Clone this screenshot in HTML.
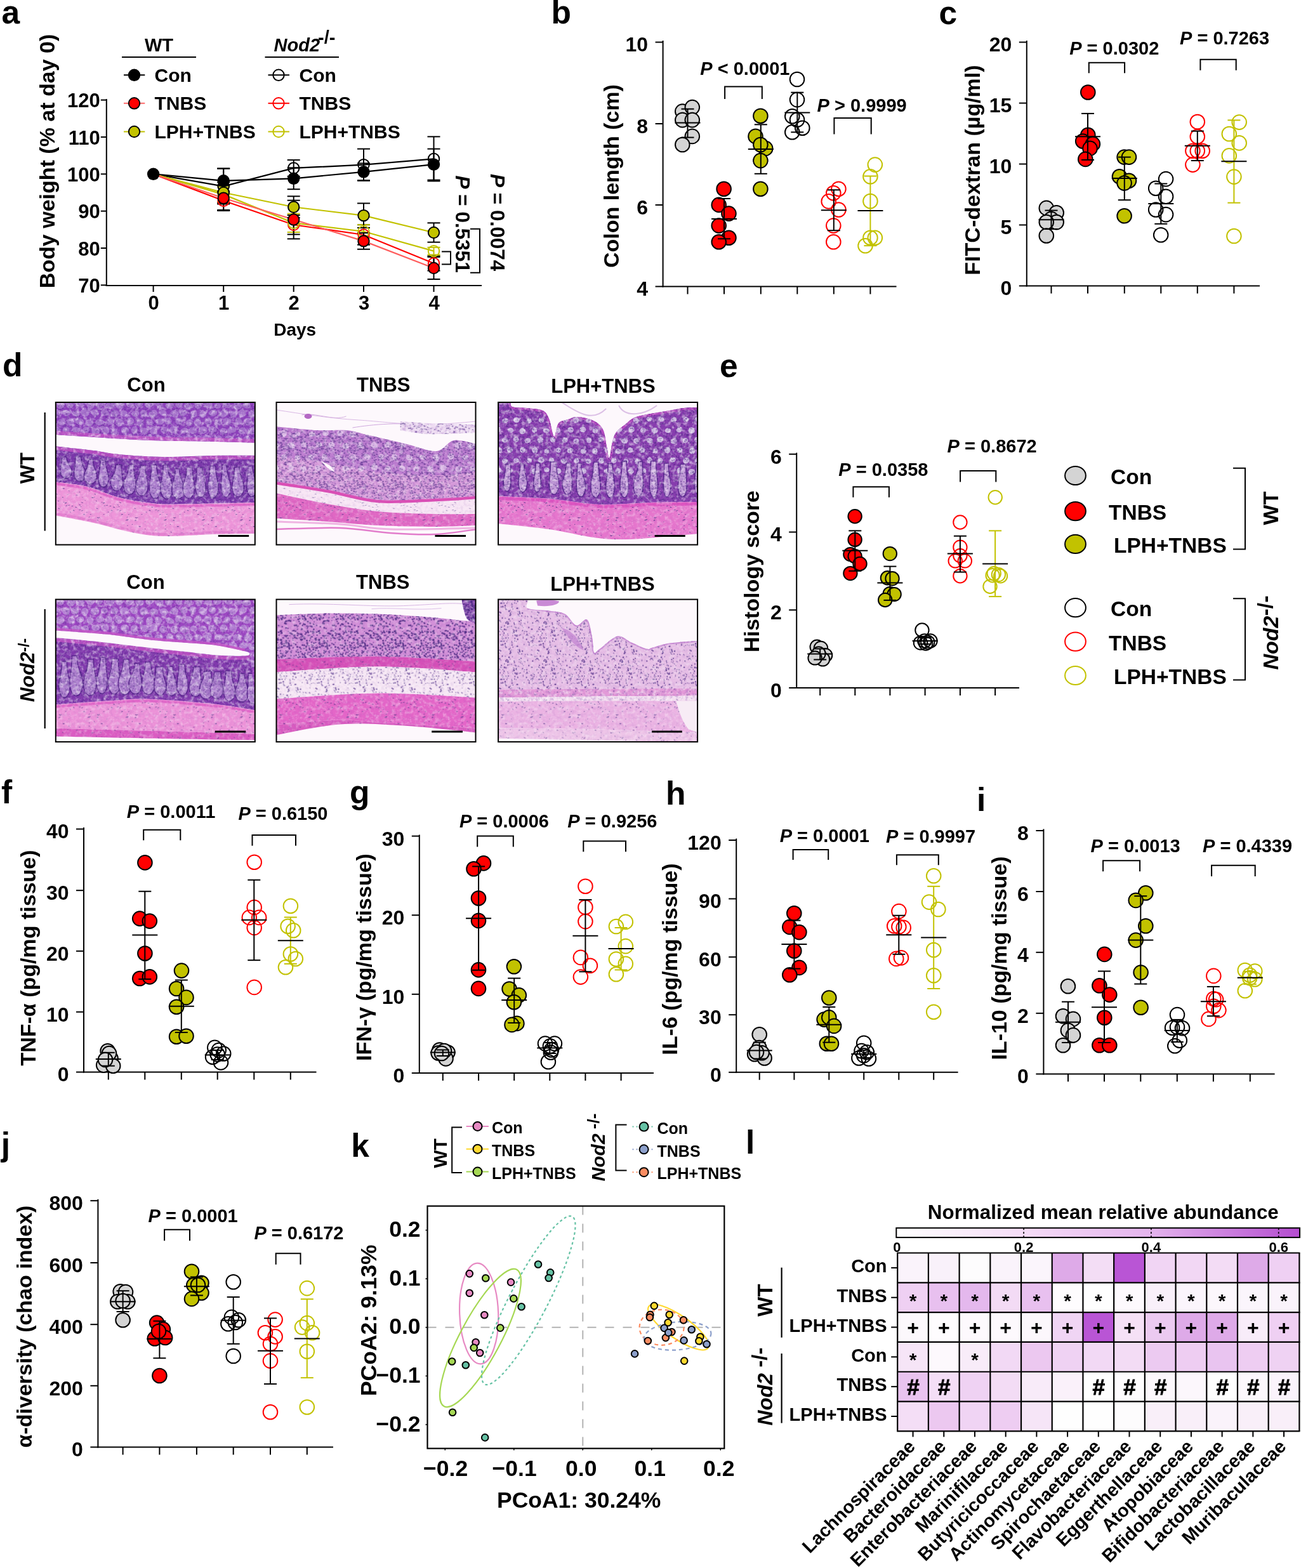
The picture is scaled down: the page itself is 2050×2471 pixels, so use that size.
<!DOCTYPE html><html><head><meta charset="utf-8"><style>html,body{margin:0;padding:0;background:#fff;}svg{display:block;} text{font-family:'Liberation Sans', Arial, Helvetica, sans-serif;}</style></head><body>
<svg width="2050" height="2471" viewBox="0 0 2050 2471">
<rect width="2050" height="2471" fill="#fff"/>
<text x="2.6" y="36.5" font-size="51.5" font-weight="bold" text-anchor="start" fill="#000">a</text>
<line x1="167.8" y1="156" x2="167.8" y2="451" stroke="#000" stroke-width="2"/>
<line x1="166.8" y1="450" x2="759" y2="450" stroke="#000" stroke-width="2"/>
<line x1="158.8" y1="157.6" x2="167.8" y2="157.6" stroke="#000" stroke-width="2"/>
<text x="157.8" y="169.4" font-size="31" font-weight="bold" text-anchor="end" fill="#000">120</text>
<line x1="158.8" y1="215.95" x2="167.8" y2="215.95" stroke="#000" stroke-width="2"/>
<text x="157.8" y="227.75" font-size="31" font-weight="bold" text-anchor="end" fill="#000">110</text>
<line x1="158.8" y1="274.3" x2="167.8" y2="274.3" stroke="#000" stroke-width="2"/>
<text x="157.8" y="286.1" font-size="31" font-weight="bold" text-anchor="end" fill="#000">100</text>
<line x1="158.8" y1="332.65" x2="167.8" y2="332.65" stroke="#000" stroke-width="2"/>
<text x="157.8" y="344.45" font-size="31" font-weight="bold" text-anchor="end" fill="#000">90</text>
<line x1="158.8" y1="391" x2="167.8" y2="391" stroke="#000" stroke-width="2"/>
<text x="157.8" y="402.8" font-size="31" font-weight="bold" text-anchor="end" fill="#000">80</text>
<line x1="158.8" y1="449.35" x2="167.8" y2="449.35" stroke="#000" stroke-width="2"/>
<text x="157.8" y="461.15" font-size="31" font-weight="bold" text-anchor="end" fill="#000">70</text>
<line x1="241.6" y1="450" x2="241.6" y2="460" stroke="#000" stroke-width="2"/>
<text x="242.1" y="487.5" font-size="31" font-weight="bold" text-anchor="middle" fill="#000">0</text>
<line x1="352.2" y1="450" x2="352.2" y2="460" stroke="#000" stroke-width="2"/>
<text x="352.7" y="487.5" font-size="31" font-weight="bold" text-anchor="middle" fill="#000">1</text>
<line x1="462.7" y1="450" x2="462.7" y2="460" stroke="#000" stroke-width="2"/>
<text x="463.2" y="487.5" font-size="31" font-weight="bold" text-anchor="middle" fill="#000">2</text>
<line x1="573" y1="450" x2="573" y2="460" stroke="#000" stroke-width="2"/>
<text x="573.5" y="487.5" font-size="31" font-weight="bold" text-anchor="middle" fill="#000">3</text>
<line x1="683.5" y1="450" x2="683.5" y2="460" stroke="#000" stroke-width="2"/>
<text x="684" y="487.5" font-size="31" font-weight="bold" text-anchor="middle" fill="#000">4</text>
<text x="464.7" y="529" font-size="28" font-weight="bold" text-anchor="middle" fill="#000">Days</text>
<text x="85.5" y="254" font-size="34" font-weight="bold" text-anchor="middle" fill="#000" transform="rotate(-90 85.5 254)">Body weight (% at day 0)</text>
<text x="250.5" y="80.5" font-size="29" font-weight="bold" text-anchor="middle" fill="#000">WT</text>
<line x1="192" y1="90" x2="309" y2="90" stroke="#000" stroke-width="2"/>
<text x="480" y="80.5" font-size="29" font-weight="bold" text-anchor="middle"><tspan font-style="italic">Nod2</tspan><tspan font-size="29" dy="-12" dx="-3">-/-</tspan></text>
<line x1="417.5" y1="90" x2="534" y2="90" stroke="#000" stroke-width="2"/>
<line x1="195" y1="118.3" x2="228.3" y2="118.3" stroke="#000" stroke-width="2"/>
<circle cx="211.5" cy="118.3" r="8.7" fill="#000" stroke="#000" stroke-width="2"/>
<text x="243.5" y="128.8" font-size="30" font-weight="bold" text-anchor="start" fill="#000">Con</text>
<line x1="422.5" y1="118.3" x2="456" y2="118.3" stroke="#000" stroke-width="2"/>
<circle cx="439" cy="118.3" r="8.7" fill="none" stroke="#000" stroke-width="2"/>
<text x="471.5" y="128.8" font-size="30" font-weight="bold" text-anchor="start" fill="#000">Con</text>
<line x1="195" y1="162.8" x2="228.3" y2="162.8" stroke="#ff6a6a" stroke-width="2"/>
<circle cx="211.5" cy="162.8" r="8.7" fill="#ff0000" stroke="#000" stroke-width="2"/>
<text x="243.5" y="173.3" font-size="30" font-weight="bold" text-anchor="start" fill="#000">TNBS</text>
<line x1="422.5" y1="162.8" x2="456" y2="162.8" stroke="#ff0000" stroke-width="2"/>
<circle cx="439" cy="162.8" r="8.7" fill="none" stroke="#ff0000" stroke-width="2"/>
<text x="471.5" y="173.3" font-size="30" font-weight="bold" text-anchor="start" fill="#000">TNBS</text>
<line x1="195" y1="207.5" x2="228.3" y2="207.5" stroke="#c2c200" stroke-width="2"/>
<circle cx="211.5" cy="207.5" r="8.7" fill="#c2c200" stroke="#000" stroke-width="2"/>
<text x="243.5" y="218" font-size="30" font-weight="bold" text-anchor="start" fill="#000">LPH+TNBS</text>
<line x1="422.5" y1="207.5" x2="456" y2="207.5" stroke="#c2c200" stroke-width="2"/>
<circle cx="439" cy="207.5" r="8.7" fill="none" stroke="#c2c200" stroke-width="2"/>
<text x="471.5" y="218" font-size="30" font-weight="bold" text-anchor="start" fill="#000">LPH+TNBS</text>
<polyline points="241.6,274.3 352.2,293.56 462.7,264.96 573,259.71 683.5,250.38" stroke="#000" stroke-width="2.2" fill="none"/>
<polyline points="241.6,274.3 352.2,284.8 462.7,281.3 573,270.8 683.5,259.13" stroke="#000" stroke-width="2.2" fill="none"/>
<polyline points="241.6,274.3 352.2,316.31 462.7,354.24 573,369.99 683.5,414.92" stroke="#ff0000" stroke-width="2.2" fill="none"/>
<polyline points="241.6,274.3 352.2,306.39 462.7,351.32 573,364.74 683.5,395.67" stroke="#c2c200" stroke-width="2.2" fill="none"/>
<polyline points="241.6,274.3 352.2,303.48 462.7,326.23 573,339.65 683.5,366.49" stroke="#c2c200" stroke-width="2.2" fill="none"/>
<polyline points="241.6,274.3 352.2,312.23 462.7,346.07 573,379.91 683.5,422.51" stroke="#ff5c5c" stroke-width="2.2" fill="none"/>
<line x1="352.2" y1="265.55" x2="352.2" y2="321.56" stroke="#000" stroke-width="2"/>
<line x1="342.2" y1="265.55" x2="362.2" y2="265.55" stroke="#000" stroke-width="2"/>
<line x1="342.2" y1="321.56" x2="362.2" y2="321.56" stroke="#000" stroke-width="2"/>
<line x1="462.7" y1="252.13" x2="462.7" y2="277.8" stroke="#000" stroke-width="2"/>
<line x1="452.7" y1="252.13" x2="472.7" y2="252.13" stroke="#000" stroke-width="2"/>
<line x1="452.7" y1="277.8" x2="472.7" y2="277.8" stroke="#000" stroke-width="2"/>
<line x1="573" y1="234.62" x2="573" y2="284.8" stroke="#000" stroke-width="2"/>
<line x1="563" y1="234.62" x2="583" y2="234.62" stroke="#000" stroke-width="2"/>
<line x1="563" y1="284.8" x2="583" y2="284.8" stroke="#000" stroke-width="2"/>
<line x1="683.5" y1="215.37" x2="683.5" y2="285.39" stroke="#000" stroke-width="2"/>
<line x1="673.5" y1="215.37" x2="693.5" y2="215.37" stroke="#000" stroke-width="2"/>
<line x1="673.5" y1="285.39" x2="693.5" y2="285.39" stroke="#000" stroke-width="2"/>
<line x1="352.2" y1="265.55" x2="352.2" y2="304.06" stroke="#000" stroke-width="2"/>
<line x1="342.2" y1="265.55" x2="362.2" y2="265.55" stroke="#000" stroke-width="2"/>
<line x1="342.2" y1="304.06" x2="362.2" y2="304.06" stroke="#000" stroke-width="2"/>
<line x1="462.7" y1="264.38" x2="462.7" y2="298.22" stroke="#000" stroke-width="2"/>
<line x1="452.7" y1="264.38" x2="472.7" y2="264.38" stroke="#000" stroke-width="2"/>
<line x1="452.7" y1="298.22" x2="472.7" y2="298.22" stroke="#000" stroke-width="2"/>
<line x1="573" y1="257.38" x2="573" y2="284.22" stroke="#000" stroke-width="2"/>
<line x1="563" y1="257.38" x2="583" y2="257.38" stroke="#000" stroke-width="2"/>
<line x1="563" y1="284.22" x2="583" y2="284.22" stroke="#000" stroke-width="2"/>
<line x1="683.5" y1="234.62" x2="683.5" y2="283.64" stroke="#000" stroke-width="2"/>
<line x1="673.5" y1="234.62" x2="693.5" y2="234.62" stroke="#000" stroke-width="2"/>
<line x1="673.5" y1="283.64" x2="693.5" y2="283.64" stroke="#000" stroke-width="2"/>
<line x1="352.2" y1="301.72" x2="352.2" y2="330.9" stroke="#000" stroke-width="2"/>
<line x1="342.2" y1="301.72" x2="362.2" y2="301.72" stroke="#000" stroke-width="2"/>
<line x1="342.2" y1="330.9" x2="362.2" y2="330.9" stroke="#000" stroke-width="2"/>
<line x1="462.7" y1="339.07" x2="462.7" y2="369.41" stroke="#000" stroke-width="2"/>
<line x1="452.7" y1="339.07" x2="472.7" y2="339.07" stroke="#000" stroke-width="2"/>
<line x1="452.7" y1="369.41" x2="472.7" y2="369.41" stroke="#000" stroke-width="2"/>
<line x1="573" y1="354.24" x2="573" y2="385.75" stroke="#000" stroke-width="2"/>
<line x1="563" y1="354.24" x2="583" y2="354.24" stroke="#000" stroke-width="2"/>
<line x1="563" y1="385.75" x2="583" y2="385.75" stroke="#000" stroke-width="2"/>
<line x1="683.5" y1="403.25" x2="683.5" y2="426.59" stroke="#000" stroke-width="2"/>
<line x1="673.5" y1="403.25" x2="693.5" y2="403.25" stroke="#000" stroke-width="2"/>
<line x1="673.5" y1="426.59" x2="693.5" y2="426.59" stroke="#000" stroke-width="2"/>
<line x1="352.2" y1="294.72" x2="352.2" y2="318.06" stroke="#c2c200" stroke-width="2"/>
<line x1="342.2" y1="294.72" x2="362.2" y2="294.72" stroke="#c2c200" stroke-width="2"/>
<line x1="342.2" y1="318.06" x2="362.2" y2="318.06" stroke="#c2c200" stroke-width="2"/>
<line x1="462.7" y1="336.73" x2="462.7" y2="365.91" stroke="#c2c200" stroke-width="2"/>
<line x1="452.7" y1="336.73" x2="472.7" y2="336.73" stroke="#c2c200" stroke-width="2"/>
<line x1="452.7" y1="365.91" x2="472.7" y2="365.91" stroke="#c2c200" stroke-width="2"/>
<line x1="573" y1="354.24" x2="573" y2="375.25" stroke="#c2c200" stroke-width="2"/>
<line x1="563" y1="354.24" x2="583" y2="354.24" stroke="#c2c200" stroke-width="2"/>
<line x1="563" y1="375.25" x2="583" y2="375.25" stroke="#c2c200" stroke-width="2"/>
<line x1="683.5" y1="389.83" x2="683.5" y2="401.5" stroke="#c2c200" stroke-width="2"/>
<line x1="673.5" y1="389.83" x2="693.5" y2="389.83" stroke="#c2c200" stroke-width="2"/>
<line x1="673.5" y1="401.5" x2="693.5" y2="401.5" stroke="#c2c200" stroke-width="2"/>
<line x1="352.2" y1="287.14" x2="352.2" y2="319.81" stroke="#000" stroke-width="2"/>
<line x1="342.2" y1="287.14" x2="362.2" y2="287.14" stroke="#000" stroke-width="2"/>
<line x1="342.2" y1="319.81" x2="362.2" y2="319.81" stroke="#000" stroke-width="2"/>
<line x1="462.7" y1="309.31" x2="462.7" y2="343.15" stroke="#000" stroke-width="2"/>
<line x1="452.7" y1="309.31" x2="472.7" y2="309.31" stroke="#000" stroke-width="2"/>
<line x1="452.7" y1="343.15" x2="472.7" y2="343.15" stroke="#000" stroke-width="2"/>
<line x1="573" y1="320.4" x2="573" y2="358.91" stroke="#000" stroke-width="2"/>
<line x1="563" y1="320.4" x2="583" y2="320.4" stroke="#000" stroke-width="2"/>
<line x1="563" y1="358.91" x2="583" y2="358.91" stroke="#000" stroke-width="2"/>
<line x1="683.5" y1="351.32" x2="683.5" y2="381.66" stroke="#000" stroke-width="2"/>
<line x1="673.5" y1="351.32" x2="693.5" y2="351.32" stroke="#000" stroke-width="2"/>
<line x1="673.5" y1="381.66" x2="693.5" y2="381.66" stroke="#000" stroke-width="2"/>
<line x1="352.2" y1="292.39" x2="352.2" y2="332.07" stroke="#000" stroke-width="2"/>
<line x1="342.2" y1="292.39" x2="362.2" y2="292.39" stroke="#000" stroke-width="2"/>
<line x1="342.2" y1="332.07" x2="362.2" y2="332.07" stroke="#000" stroke-width="2"/>
<line x1="462.7" y1="315.73" x2="462.7" y2="376.41" stroke="#000" stroke-width="2"/>
<line x1="452.7" y1="315.73" x2="472.7" y2="315.73" stroke="#000" stroke-width="2"/>
<line x1="452.7" y1="376.41" x2="472.7" y2="376.41" stroke="#000" stroke-width="2"/>
<line x1="573" y1="367.08" x2="573" y2="392.75" stroke="#000" stroke-width="2"/>
<line x1="563" y1="367.08" x2="583" y2="367.08" stroke="#000" stroke-width="2"/>
<line x1="563" y1="392.75" x2="583" y2="392.75" stroke="#000" stroke-width="2"/>
<line x1="683.5" y1="405" x2="683.5" y2="440.01" stroke="#000" stroke-width="2"/>
<line x1="673.5" y1="405" x2="693.5" y2="405" stroke="#000" stroke-width="2"/>
<line x1="673.5" y1="440.01" x2="693.5" y2="440.01" stroke="#000" stroke-width="2"/>
<circle cx="352.2" cy="293.56" r="8.7" fill="none" stroke="#000" stroke-width="2"/>
<circle cx="462.7" cy="264.96" r="8.7" fill="none" stroke="#000" stroke-width="2"/>
<circle cx="573" cy="259.71" r="8.7" fill="none" stroke="#000" stroke-width="2"/>
<circle cx="683.5" cy="250.38" r="8.7" fill="none" stroke="#000" stroke-width="2"/>
<circle cx="352.2" cy="284.8" r="8.7" fill="#000" stroke="#000" stroke-width="2"/>
<circle cx="462.7" cy="281.3" r="8.7" fill="#000" stroke="#000" stroke-width="2"/>
<circle cx="573" cy="270.8" r="8.7" fill="#000" stroke="#000" stroke-width="2"/>
<circle cx="683.5" cy="259.13" r="8.7" fill="#000" stroke="#000" stroke-width="2"/>
<circle cx="352.2" cy="316.31" r="8.7" fill="none" stroke="#ff0000" stroke-width="2"/>
<circle cx="462.7" cy="354.24" r="8.7" fill="none" stroke="#ff0000" stroke-width="2"/>
<circle cx="573" cy="369.99" r="8.7" fill="none" stroke="#ff0000" stroke-width="2"/>
<circle cx="683.5" cy="414.92" r="8.7" fill="none" stroke="#ff0000" stroke-width="2"/>
<circle cx="352.2" cy="306.39" r="8.7" fill="none" stroke="#c2c200" stroke-width="2"/>
<circle cx="462.7" cy="351.32" r="8.7" fill="none" stroke="#c2c200" stroke-width="2"/>
<circle cx="573" cy="364.74" r="8.7" fill="none" stroke="#c2c200" stroke-width="2"/>
<circle cx="683.5" cy="395.67" r="8.7" fill="none" stroke="#c2c200" stroke-width="2"/>
<circle cx="352.2" cy="303.48" r="8.7" fill="#c2c200" stroke="#000" stroke-width="2"/>
<circle cx="462.7" cy="326.23" r="8.7" fill="#c2c200" stroke="#000" stroke-width="2"/>
<circle cx="573" cy="339.65" r="8.7" fill="#c2c200" stroke="#000" stroke-width="2"/>
<circle cx="683.5" cy="366.49" r="8.7" fill="#c2c200" stroke="#000" stroke-width="2"/>
<circle cx="352.2" cy="312.23" r="8.7" fill="#ff0000" stroke="#000" stroke-width="2"/>
<circle cx="462.7" cy="346.07" r="8.7" fill="#ff0000" stroke="#000" stroke-width="2"/>
<circle cx="573" cy="379.91" r="8.7" fill="#ff0000" stroke="#000" stroke-width="2"/>
<circle cx="683.5" cy="422.51" r="8.7" fill="#ff0000" stroke="#000" stroke-width="2"/>
<circle cx="241.6" cy="274.3" r="9.7" fill="#000" stroke="#000" stroke-width="0"/>
<polyline points="696,396.4 710,396.4 710,416.4 696,416.4" stroke="#000" stroke-width="2" fill="none"/>
<polyline points="741,360.8 756,360.8 756,429.7 741,429.7" stroke="#000" stroke-width="2" fill="none"/>
<text x="717.5" y="353.2" font-size="31.5" font-weight="bold" text-anchor="middle" transform="rotate(90 717.5 353.2)"><tspan font-style="italic">P</tspan> = 0.5351</text>
<text x="772.5" y="350.7" font-size="31.5" font-weight="bold" text-anchor="middle" transform="rotate(90 772.5 350.7)"><tspan font-style="italic">P</tspan> =  0.0074</text>
<text x="868.4" y="36.9" font-size="51.5" font-weight="bold" text-anchor="start" fill="#000">b</text>
<line x1="1044.6" y1="64" x2="1044.6" y2="452.5" stroke="#000" stroke-width="2"/>
<line x1="1043.6" y1="451.5" x2="1412.5" y2="451.5" stroke="#000" stroke-width="2"/>
<line x1="1032.6" y1="66.5" x2="1044.6" y2="66.5" stroke="#000" stroke-width="2"/>
<text x="1021.1" y="81.4" font-size="32" font-weight="bold" text-anchor="end" fill="#000">10</text>
<line x1="1032.6" y1="195" x2="1044.6" y2="195" stroke="#000" stroke-width="2"/>
<text x="1021.1" y="209.9" font-size="32" font-weight="bold" text-anchor="end" fill="#000">8</text>
<line x1="1032.6" y1="323" x2="1044.6" y2="323" stroke="#000" stroke-width="2"/>
<text x="1021.1" y="337.9" font-size="32" font-weight="bold" text-anchor="end" fill="#000">6</text>
<line x1="1032.6" y1="451.5" x2="1044.6" y2="451.5" stroke="#000" stroke-width="2"/>
<text x="1021.1" y="466.4" font-size="32" font-weight="bold" text-anchor="end" fill="#000">4</text>
<line x1="1083.5" y1="451.5" x2="1083.5" y2="463.5" stroke="#000" stroke-width="2"/>
<line x1="1141" y1="451.5" x2="1141" y2="463.5" stroke="#000" stroke-width="2"/>
<line x1="1198.8" y1="451.5" x2="1198.8" y2="463.5" stroke="#000" stroke-width="2"/>
<line x1="1256.3" y1="451.5" x2="1256.3" y2="463.5" stroke="#000" stroke-width="2"/>
<line x1="1313.8" y1="451.5" x2="1313.8" y2="463.5" stroke="#000" stroke-width="2"/>
<line x1="1371.4" y1="451.5" x2="1371.4" y2="463.5" stroke="#000" stroke-width="2"/>
<text x="975" y="277.5" font-size="34" font-weight="bold" text-anchor="middle" fill="#000" transform="rotate(-90 975 277.5)">Colon length (cm)</text>
<circle cx="1075.3" cy="175.6" r="11.3" fill="#d4d4d4" stroke="#000000" stroke-width="2"/>
<circle cx="1090.8" cy="169.1" r="11.3" fill="#d4d4d4" stroke="#000000" stroke-width="2"/>
<circle cx="1075.3" cy="189.1" r="11.3" fill="#d4d4d4" stroke="#000000" stroke-width="2"/>
<circle cx="1090.8" cy="189.1" r="11.3" fill="#d4d4d4" stroke="#000000" stroke-width="2"/>
<circle cx="1090.8" cy="214.9" r="11.3" fill="#d4d4d4" stroke="#000000" stroke-width="2"/>
<circle cx="1075.3" cy="228" r="11.3" fill="#d4d4d4" stroke="#000000" stroke-width="2"/>
<circle cx="1140.6" cy="297.8" r="11.3" fill="#ff0000" stroke="#000000" stroke-width="2"/>
<circle cx="1132.7" cy="322.9" r="11.3" fill="#ff0000" stroke="#000000" stroke-width="2"/>
<circle cx="1148.4" cy="336.6" r="11.3" fill="#ff0000" stroke="#000000" stroke-width="2"/>
<circle cx="1132.7" cy="355.6" r="11.3" fill="#ff0000" stroke="#000000" stroke-width="2"/>
<circle cx="1148.4" cy="374.8" r="11.3" fill="#ff0000" stroke="#000000" stroke-width="2"/>
<circle cx="1132.7" cy="381.3" r="11.3" fill="#ff0000" stroke="#000000" stroke-width="2"/>
<circle cx="1198.4" cy="182.8" r="11.3" fill="#c2c200" stroke="#000000" stroke-width="2"/>
<circle cx="1190.5" cy="214.9" r="11.3" fill="#c2c200" stroke="#000000" stroke-width="2"/>
<circle cx="1206.2" cy="233.9" r="11.3" fill="#c2c200" stroke="#000000" stroke-width="2"/>
<circle cx="1198.4" cy="228" r="11.3" fill="#c2c200" stroke="#000000" stroke-width="2"/>
<circle cx="1198.4" cy="253.1" r="11.3" fill="#c2c200" stroke="#000000" stroke-width="2"/>
<circle cx="1198.4" cy="297.8" r="11.3" fill="#c2c200" stroke="#000000" stroke-width="2"/>
<circle cx="1256" cy="125" r="11.3" fill="none" stroke="#000000" stroke-width="2"/>
<circle cx="1256" cy="157.1" r="11.3" fill="none" stroke="#000000" stroke-width="2"/>
<circle cx="1248.3" cy="183.3" r="11.3" fill="none" stroke="#000000" stroke-width="2"/>
<circle cx="1256" cy="188.7" r="11.3" fill="none" stroke="#000000" stroke-width="2"/>
<circle cx="1264.3" cy="201.8" r="11.3" fill="none" stroke="#000000" stroke-width="2"/>
<circle cx="1248.3" cy="208.3" r="11.3" fill="none" stroke="#000000" stroke-width="2"/>
<circle cx="1321.4" cy="297.8" r="11.3" fill="none" stroke="#ff0000" stroke-width="2"/>
<circle cx="1313.3" cy="304.3" r="11.3" fill="none" stroke="#ff0000" stroke-width="2"/>
<circle cx="1305.7" cy="317.4" r="11.3" fill="none" stroke="#ff0000" stroke-width="2"/>
<circle cx="1321.4" cy="330.5" r="11.3" fill="none" stroke="#ff0000" stroke-width="2"/>
<circle cx="1313.3" cy="355.6" r="11.3" fill="none" stroke="#ff0000" stroke-width="2"/>
<circle cx="1313.3" cy="381.3" r="11.3" fill="none" stroke="#ff0000" stroke-width="2"/>
<circle cx="1378.8" cy="259.6" r="11.3" fill="none" stroke="#c2c200" stroke-width="2"/>
<circle cx="1371.4" cy="278.2" r="11.3" fill="none" stroke="#c2c200" stroke-width="2"/>
<circle cx="1371.4" cy="317" r="11.3" fill="none" stroke="#c2c200" stroke-width="2"/>
<circle cx="1378.8" cy="374.8" r="11.3" fill="none" stroke="#c2c200" stroke-width="2"/>
<circle cx="1371.4" cy="374.8" r="11.3" fill="none" stroke="#c2c200" stroke-width="2"/>
<circle cx="1363.5" cy="387.2" r="11.3" fill="none" stroke="#c2c200" stroke-width="2"/>
<line x1="1083.5" y1="171.7" x2="1083.5" y2="216.6" stroke="#000000" stroke-width="2"/>
<line x1="1073.5" y1="171.7" x2="1093.5" y2="171.7" stroke="#000000" stroke-width="2"/>
<line x1="1073.5" y1="216.6" x2="1093.5" y2="216.6" stroke="#000000" stroke-width="2"/>
<line x1="1063.5" y1="193.5" x2="1103.5" y2="193.5" stroke="#000000" stroke-width="2"/>
<line x1="1141" y1="313" x2="1141" y2="376.3" stroke="#000000" stroke-width="2"/>
<line x1="1131" y1="313" x2="1151" y2="313" stroke="#000000" stroke-width="2"/>
<line x1="1131" y1="376.3" x2="1151" y2="376.3" stroke="#000000" stroke-width="2"/>
<line x1="1121" y1="345.1" x2="1161" y2="345.1" stroke="#000000" stroke-width="2"/>
<line x1="1198.8" y1="196.3" x2="1198.8" y2="273.8" stroke="#000000" stroke-width="2"/>
<line x1="1188.8" y1="196.3" x2="1208.8" y2="196.3" stroke="#000000" stroke-width="2"/>
<line x1="1188.8" y1="273.8" x2="1208.8" y2="273.8" stroke="#000000" stroke-width="2"/>
<line x1="1178.8" y1="235" x2="1218.8" y2="235" stroke="#000000" stroke-width="2"/>
<line x1="1256.3" y1="145.7" x2="1256.3" y2="208.3" stroke="#000000" stroke-width="2"/>
<line x1="1246.3" y1="145.7" x2="1266.3" y2="145.7" stroke="#000000" stroke-width="2"/>
<line x1="1246.3" y1="208.3" x2="1266.3" y2="208.3" stroke="#000000" stroke-width="2"/>
<line x1="1236.3" y1="177.4" x2="1276.3" y2="177.4" stroke="#000000" stroke-width="2"/>
<line x1="1313.8" y1="299.3" x2="1313.8" y2="363.2" stroke="#000000" stroke-width="2"/>
<line x1="1303.8" y1="299.3" x2="1323.8" y2="299.3" stroke="#000000" stroke-width="2"/>
<line x1="1303.8" y1="363.2" x2="1323.8" y2="363.2" stroke="#000000" stroke-width="2"/>
<line x1="1293.8" y1="331.2" x2="1333.8" y2="331.2" stroke="#000000" stroke-width="2"/>
<line x1="1371.4" y1="277.5" x2="1371.4" y2="387.2" stroke="#c2c200" stroke-width="2"/>
<line x1="1361.4" y1="277.5" x2="1381.4" y2="277.5" stroke="#c2c200" stroke-width="2"/>
<line x1="1361.4" y1="387.2" x2="1381.4" y2="387.2" stroke="#c2c200" stroke-width="2"/>
<line x1="1351.4" y1="332" x2="1391.4" y2="332" stroke="#000000" stroke-width="2"/>
<polyline points="1142.1,156 1142.1,136.4 1200.8,136.4 1200.8,156" stroke="#000" stroke-width="2" fill="none"/>
<polyline points="1314.4,211.6 1314.4,186.1 1372.7,186.1 1372.7,211.6" stroke="#000" stroke-width="2" fill="none"/>
<text x="1103.3" y="117.8" font-size="29" font-weight="bold" text-anchor="start"><tspan font-style="italic">P</tspan> &lt; 0.0001</text>
<text x="1287.6" y="175.6" font-size="29" font-weight="bold" text-anchor="start"><tspan font-style="italic">P</tspan> &gt; 0.9999</text>
<text x="1479.5" y="37.5" font-size="51.5" font-weight="bold" text-anchor="start" fill="#000">c</text>
<line x1="1617.8" y1="64" x2="1617.8" y2="451.5" stroke="#000" stroke-width="2"/>
<line x1="1616.8" y1="450.5" x2="1985" y2="450.5" stroke="#000" stroke-width="2"/>
<line x1="1605.8" y1="66.5" x2="1617.8" y2="66.5" stroke="#000" stroke-width="2"/>
<text x="1594.3" y="81.4" font-size="32" font-weight="bold" text-anchor="end" fill="#000">20</text>
<line x1="1605.8" y1="162.5" x2="1617.8" y2="162.5" stroke="#000" stroke-width="2"/>
<text x="1594.3" y="177.4" font-size="32" font-weight="bold" text-anchor="end" fill="#000">15</text>
<line x1="1605.8" y1="258.5" x2="1617.8" y2="258.5" stroke="#000" stroke-width="2"/>
<text x="1594.3" y="273.4" font-size="32" font-weight="bold" text-anchor="end" fill="#000">10</text>
<line x1="1605.8" y1="354.5" x2="1617.8" y2="354.5" stroke="#000" stroke-width="2"/>
<text x="1594.3" y="369.4" font-size="32" font-weight="bold" text-anchor="end" fill="#000">5</text>
<line x1="1605.8" y1="450.5" x2="1617.8" y2="450.5" stroke="#000" stroke-width="2"/>
<text x="1594.3" y="465.4" font-size="32" font-weight="bold" text-anchor="end" fill="#000">0</text>
<line x1="1656.5" y1="450.5" x2="1656.5" y2="462.5" stroke="#000" stroke-width="2"/>
<line x1="1714" y1="450.5" x2="1714" y2="462.5" stroke="#000" stroke-width="2"/>
<line x1="1771.8" y1="450.5" x2="1771.8" y2="462.5" stroke="#000" stroke-width="2"/>
<line x1="1829.3" y1="450.5" x2="1829.3" y2="462.5" stroke="#000" stroke-width="2"/>
<line x1="1886.8" y1="450.5" x2="1886.8" y2="462.5" stroke="#000" stroke-width="2"/>
<line x1="1944.4" y1="450.5" x2="1944.4" y2="462.5" stroke="#000" stroke-width="2"/>
<text x="1543.5" y="268" font-size="34" font-weight="bold" text-anchor="middle" fill="#000" transform="rotate(-90 1543.5 268)">FITC-dextran (µg/ml)</text>
<circle cx="1648.8" cy="327.9" r="11.3" fill="#d4d4d4" stroke="#000000" stroke-width="2"/>
<circle cx="1664.7" cy="335.3" r="11.3" fill="#d4d4d4" stroke="#000000" stroke-width="2"/>
<circle cx="1656.4" cy="345" r="11.3" fill="#d4d4d4" stroke="#000000" stroke-width="2"/>
<circle cx="1664.7" cy="350.1" r="11.3" fill="#d4d4d4" stroke="#000000" stroke-width="2"/>
<circle cx="1648.8" cy="350" r="11.3" fill="#d4d4d4" stroke="#000000" stroke-width="2"/>
<circle cx="1648.8" cy="371.5" r="11.3" fill="#d4d4d4" stroke="#000000" stroke-width="2"/>
<circle cx="1714.3" cy="145.5" r="11.3" fill="#ff0000" stroke="#000000" stroke-width="2"/>
<circle cx="1714.3" cy="212.7" r="11.3" fill="#ff0000" stroke="#000000" stroke-width="2"/>
<circle cx="1706.2" cy="222.5" r="11.3" fill="#ff0000" stroke="#000000" stroke-width="2"/>
<circle cx="1721.9" cy="226.9" r="11.3" fill="#ff0000" stroke="#000000" stroke-width="2"/>
<circle cx="1717.5" cy="233.9" r="11.3" fill="#ff0000" stroke="#000000" stroke-width="2"/>
<circle cx="1710.3" cy="250.9" r="11.3" fill="#ff0000" stroke="#000000" stroke-width="2"/>
<circle cx="1771.6" cy="247.6" r="11.3" fill="#c2c200" stroke="#000000" stroke-width="2"/>
<circle cx="1779" cy="247.6" r="11.3" fill="#c2c200" stroke="#000000" stroke-width="2"/>
<circle cx="1764" cy="278.2" r="11.3" fill="#c2c200" stroke="#000000" stroke-width="2"/>
<circle cx="1779" cy="284.7" r="11.3" fill="#c2c200" stroke="#000000" stroke-width="2"/>
<circle cx="1771.6" cy="288.6" r="11.3" fill="#c2c200" stroke="#000000" stroke-width="2"/>
<circle cx="1771.6" cy="340.3" r="11.3" fill="#c2c200" stroke="#000000" stroke-width="2"/>
<circle cx="1837.1" cy="282.1" r="11.3" fill="none" stroke="#000000" stroke-width="2"/>
<circle cx="1821.2" cy="296.7" r="11.3" fill="none" stroke="#000000" stroke-width="2"/>
<circle cx="1837.1" cy="309.8" r="11.3" fill="none" stroke="#000000" stroke-width="2"/>
<circle cx="1821.2" cy="330.5" r="11.3" fill="none" stroke="#000000" stroke-width="2"/>
<circle cx="1837.1" cy="338.1" r="11.3" fill="none" stroke="#000000" stroke-width="2"/>
<circle cx="1829.2" cy="370.2" r="11.3" fill="none" stroke="#000000" stroke-width="2"/>
<circle cx="1886.8" cy="192" r="11.3" fill="none" stroke="#ff0000" stroke-width="2"/>
<circle cx="1886.8" cy="215.3" r="11.3" fill="none" stroke="#ff0000" stroke-width="2"/>
<circle cx="1879.4" cy="237.8" r="11.3" fill="none" stroke="#ff0000" stroke-width="2"/>
<circle cx="1886.8" cy="237.8" r="11.3" fill="none" stroke="#ff0000" stroke-width="2"/>
<circle cx="1894.7" cy="237.8" r="11.3" fill="none" stroke="#ff0000" stroke-width="2"/>
<circle cx="1879.4" cy="259.6" r="11.3" fill="none" stroke="#ff0000" stroke-width="2"/>
<circle cx="1952.7" cy="192.6" r="11.3" fill="none" stroke="#c2c200" stroke-width="2"/>
<circle cx="1936.8" cy="211" r="11.3" fill="none" stroke="#c2c200" stroke-width="2"/>
<circle cx="1952.7" cy="225.4" r="11.3" fill="none" stroke="#c2c200" stroke-width="2"/>
<circle cx="1936.8" cy="245.4" r="11.3" fill="none" stroke="#c2c200" stroke-width="2"/>
<circle cx="1944.4" cy="278.6" r="11.3" fill="none" stroke="#c2c200" stroke-width="2"/>
<circle cx="1944.4" cy="372" r="11.3" fill="none" stroke="#c2c200" stroke-width="2"/>
<line x1="1656.5" y1="331.6" x2="1656.5" y2="361" stroke="#000000" stroke-width="2"/>
<line x1="1646.5" y1="331.6" x2="1666.5" y2="331.6" stroke="#000000" stroke-width="2"/>
<line x1="1646.5" y1="361" x2="1666.5" y2="361" stroke="#000000" stroke-width="2"/>
<line x1="1636.5" y1="346.2" x2="1676.5" y2="346.2" stroke="#000000" stroke-width="2"/>
<line x1="1714" y1="178.9" x2="1714" y2="252" stroke="#000000" stroke-width="2"/>
<line x1="1704" y1="178.9" x2="1724" y2="178.9" stroke="#000000" stroke-width="2"/>
<line x1="1704" y1="252" x2="1724" y2="252" stroke="#000000" stroke-width="2"/>
<line x1="1694" y1="215.3" x2="1734" y2="215.3" stroke="#000000" stroke-width="2"/>
<line x1="1771.8" y1="247.6" x2="1771.8" y2="315.2" stroke="#000000" stroke-width="2"/>
<line x1="1761.8" y1="247.6" x2="1781.8" y2="247.6" stroke="#000000" stroke-width="2"/>
<line x1="1761.8" y1="315.2" x2="1781.8" y2="315.2" stroke="#000000" stroke-width="2"/>
<line x1="1751.8" y1="281" x2="1791.8" y2="281" stroke="#000000" stroke-width="2"/>
<line x1="1829.3" y1="289.5" x2="1829.3" y2="352.8" stroke="#000000" stroke-width="2"/>
<line x1="1819.3" y1="289.5" x2="1839.3" y2="289.5" stroke="#000000" stroke-width="2"/>
<line x1="1819.3" y1="352.8" x2="1839.3" y2="352.8" stroke="#000000" stroke-width="2"/>
<line x1="1809.3" y1="321.1" x2="1849.3" y2="321.1" stroke="#000000" stroke-width="2"/>
<line x1="1886.8" y1="206.6" x2="1886.8" y2="253.1" stroke="#000000" stroke-width="2"/>
<line x1="1876.8" y1="206.6" x2="1896.8" y2="206.6" stroke="#000000" stroke-width="2"/>
<line x1="1876.8" y1="253.1" x2="1896.8" y2="253.1" stroke="#000000" stroke-width="2"/>
<line x1="1866.8" y1="229.7" x2="1906.8" y2="229.7" stroke="#000000" stroke-width="2"/>
<line x1="1944.4" y1="189.4" x2="1944.4" y2="319.6" stroke="#c2c200" stroke-width="2"/>
<line x1="1934.4" y1="189.4" x2="1954.4" y2="189.4" stroke="#c2c200" stroke-width="2"/>
<line x1="1934.4" y1="319.6" x2="1954.4" y2="319.6" stroke="#c2c200" stroke-width="2"/>
<line x1="1924.4" y1="254.2" x2="1964.4" y2="254.2" stroke="#000000" stroke-width="2"/>
<polyline points="1715.8,115.2 1715.8,98.8 1772.1,98.8 1772.1,115.2" stroke="#000" stroke-width="2" fill="none"/>
<polyline points="1891.4,110.8 1891.4,93.8 1947.7,93.8 1947.7,110.8" stroke="#000" stroke-width="2" fill="none"/>
<text x="1685.2" y="86.2" font-size="29" font-weight="bold" text-anchor="start"><tspan font-style="italic">P</tspan> = 0.0302</text>
<text x="1859" y="69.5" font-size="29" font-weight="bold" text-anchor="start"><tspan font-style="italic">P</tspan> = 0.7263</text>
<text x="4" y="593.2" font-size="51.5" font-weight="bold" text-anchor="start" fill="#000">d</text>
<text x="230.5" y="616.6" font-size="31" font-weight="bold" text-anchor="middle" fill="#000">Con</text>
<text x="604.3" y="616.6" font-size="31" font-weight="bold" text-anchor="middle" fill="#000">TNBS</text>
<text x="950.5" y="619.1" font-size="31" font-weight="bold" text-anchor="middle" fill="#000">LPH+TNBS</text>
<text x="229.5" y="927.8" font-size="31" font-weight="bold" text-anchor="middle" fill="#000">Con</text>
<text x="603.3" y="927.8" font-size="31" font-weight="bold" text-anchor="middle" fill="#000">TNBS</text>
<text x="949.5" y="931" font-size="31" font-weight="bold" text-anchor="middle" fill="#000">LPH+TNBS</text>
<line x1="70.7" y1="650" x2="70.7" y2="836.5" stroke="#000" stroke-width="2.2"/>
<line x1="70.7" y1="960" x2="70.7" y2="1148" stroke="#000" stroke-width="2.2"/>
<text x="54.3" y="737.8" font-size="31.5" font-weight="bold" text-anchor="middle" fill="#000" transform="rotate(-90 54.3 737.8)">WT</text>
<text x="54.3" y="1056" font-size="31.5" font-weight="bold" text-anchor="middle" transform="rotate(-90 54.3 1056)"><tspan font-style="italic">Nod2</tspan><tspan font-size="23" dy="-8">-/-</tspan></text>
<defs><pattern id="nD" width="60" height="60" patternUnits="userSpaceOnUse"><g fill="#3f1f7a" opacity="0.8"><circle cx="19.4" cy="9.1" r="1.1"/><circle cx="4.3" cy="32.2" r="0.9"/><circle cx="3.5" cy="30.4" r="0.7"/><circle cx="26" cy="4.2" r="0.8"/><circle cx="25.5" cy="49.6" r="0.8"/><circle cx="13.4" cy="37.6" r="1.3"/><circle cx="34.6" cy="23.8" r="1.3"/><circle cx="2.8" cy="51.5" r="0.9"/><circle cx="8.7" cy="7.1" r="0.9"/><circle cx="49" cy="10.8" r="1.1"/><circle cx="38.3" cy="22.3" r="1.1"/><circle cx="3.8" cy="3.6" r="0.8"/><circle cx="40.8" cy="25.7" r="0.9"/><circle cx="35.1" cy="27.2" r="0.9"/><circle cx="47.7" cy="41.9" r="0.9"/><circle cx="34.5" cy="31.5" r="1.3"/><circle cx="43.8" cy="17.3" r="1.3"/><circle cx="7.1" cy="25.1" r="1.2"/><circle cx="9.1" cy="29.3" r="0.7"/><circle cx="40.1" cy="45.9" r="1.1"/><circle cx="52.5" cy="18.8" r="1.2"/><circle cx="35.7" cy="34.8" r="1"/><circle cx="50.4" cy="56.7" r="1"/><circle cx="39.8" cy="3.6" r="1.2"/><circle cx="38.8" cy="59.6" r="1.2"/><circle cx="17.1" cy="23.1" r="1.1"/><circle cx="1.4" cy="27.7" r="0.8"/><circle cx="7" cy="3.5" r="1.2"/><circle cx="7.8" cy="14.9" r="1"/><circle cx="52.3" cy="4.8" r="1"/><circle cx="33" cy="53" r="1.2"/><circle cx="51.8" cy="16.7" r="1"/><circle cx="21.5" cy="53.1" r="1.3"/><circle cx="9.1" cy="10.6" r="0.9"/><circle cx="14" cy="29.1" r="1.1"/><circle cx="15.8" cy="0.2" r="1"/><circle cx="22.2" cy="34" r="1.3"/><circle cx="41.4" cy="30.9" r="1.1"/><circle cx="40.6" cy="3.2" r="1.3"/><circle cx="46.8" cy="52.5" r="1.2"/><circle cx="23.5" cy="23.9" r="0.8"/><circle cx="38.1" cy="3.7" r="0.7"/><circle cx="12.5" cy="9.7" r="0.9"/><circle cx="3.2" cy="0" r="0.8"/><circle cx="6.1" cy="21.8" r="0.7"/><circle cx="52.5" cy="36.8" r="0.8"/><circle cx="15.1" cy="20.8" r="0.9"/><circle cx="7.4" cy="50.9" r="1.3"/><circle cx="28" cy="29" r="0.8"/><circle cx="6.1" cy="20.6" r="0.9"/><circle cx="49.7" cy="9.7" r="0.7"/><circle cx="57.1" cy="31.7" r="0.8"/><circle cx="32.6" cy="1.6" r="1"/><circle cx="58.7" cy="51.8" r="1.2"/><circle cx="15.7" cy="22" r="0.8"/><circle cx="46.3" cy="32" r="1.2"/><circle cx="19.8" cy="13.4" r="1.2"/><circle cx="59.1" cy="51.2" r="1.2"/><circle cx="49.1" cy="44.4" r="0.8"/><circle cx="31.1" cy="21.3" r="0.7"/><circle cx="1.7" cy="16.8" r="0.9"/><circle cx="41.6" cy="57.4" r="1"/><circle cx="56.2" cy="59.3" r="1.3"/><circle cx="21.9" cy="13.2" r="0.8"/><circle cx="11.8" cy="12.3" r="1.1"/><circle cx="54" cy="50.4" r="1"/><circle cx="39.2" cy="48" r="0.8"/><circle cx="39.6" cy="54.6" r="1.2"/><circle cx="45" cy="28.7" r="0.8"/><circle cx="47.3" cy="20" r="1.2"/><circle cx="58.3" cy="23.8" r="1"/><circle cx="56.8" cy="43.5" r="0.8"/><circle cx="7.6" cy="9.1" r="1.3"/><circle cx="48.4" cy="8.8" r="1.2"/><circle cx="58.8" cy="39.4" r="0.9"/><circle cx="32.9" cy="7.9" r="0.7"/><circle cx="58.3" cy="39" r="1"/><circle cx="56" cy="26" r="1.3"/><circle cx="49.6" cy="12.7" r="0.9"/><circle cx="17.6" cy="14.4" r="1.1"/><circle cx="15.6" cy="25.1" r="0.8"/><circle cx="54.6" cy="21.2" r="1"/><circle cx="35" cy="54.3" r="1"/><circle cx="55.1" cy="30.1" r="1"/><circle cx="31.4" cy="1.1" r="1"/><circle cx="11" cy="0.2" r="1.2"/><circle cx="10.3" cy="28.4" r="1.2"/><circle cx="33.4" cy="19.6" r="1"/><circle cx="33.3" cy="47.1" r="0.8"/><circle cx="33.6" cy="14.9" r="0.9"/><circle cx="46.3" cy="30.5" r="1.1"/><circle cx="45.6" cy="54.7" r="1"/><circle cx="36.8" cy="30.3" r="1"/><circle cx="41.6" cy="27.1" r="1"/><circle cx="28.7" cy="56.5" r="1.2"/><circle cx="52.6" cy="56.5" r="0.9"/><circle cx="33.6" cy="56.6" r="1.2"/><circle cx="8.2" cy="7.3" r="1"/><circle cx="4.4" cy="14.4" r="0.7"/><circle cx="40.2" cy="47" r="1.3"/><circle cx="9.3" cy="43" r="1.1"/><circle cx="8.6" cy="53" r="1.3"/><circle cx="13.2" cy="57.2" r="1"/><circle cx="29.2" cy="59.4" r="1.2"/><circle cx="9.7" cy="25.9" r="1"/><circle cx="20.3" cy="11.7" r="0.9"/><circle cx="43.3" cy="1.2" r="1.1"/><circle cx="26.4" cy="1.1" r="0.9"/><circle cx="37.4" cy="30.7" r="0.7"/><circle cx="59.1" cy="47.3" r="1.3"/><circle cx="6.3" cy="15.9" r="0.7"/><circle cx="46.7" cy="16.2" r="0.8"/><circle cx="25.3" cy="54.7" r="1.2"/><circle cx="15.5" cy="9" r="1.3"/><circle cx="34.2" cy="42" r="0.8"/><circle cx="3.5" cy="41.3" r="1"/><circle cx="4.3" cy="56.3" r="1.1"/><circle cx="48.1" cy="5" r="1.3"/><circle cx="4" cy="51.8" r="1"/><circle cx="20.3" cy="33.2" r="1.3"/><circle cx="16.1" cy="7.8" r="1"/><circle cx="14.3" cy="6.6" r="0.8"/><circle cx="3" cy="12.1" r="0.9"/><circle cx="18.3" cy="45.6" r="0.9"/><circle cx="30" cy="10.7" r="0.9"/><circle cx="1.1" cy="15" r="0.7"/><circle cx="44" cy="33.1" r="0.8"/><circle cx="28.5" cy="56.1" r="0.8"/><circle cx="49.1" cy="25.9" r="1"/><circle cx="50.1" cy="23.6" r="1"/><circle cx="41.3" cy="58.9" r="0.9"/><circle cx="49.9" cy="42.4" r="1.1"/><circle cx="24.3" cy="20.9" r="0.7"/><circle cx="7.8" cy="4.2" r="1.2"/><circle cx="15.3" cy="9.8" r="0.8"/><circle cx="50.5" cy="52.2" r="1.1"/><circle cx="16.9" cy="14.5" r="0.9"/><circle cx="27.6" cy="9.5" r="1"/><circle cx="15.8" cy="57.7" r="1.3"/><circle cx="32.8" cy="14.7" r="1.3"/><circle cx="18.6" cy="21.4" r="0.7"/><circle cx="22.9" cy="28.5" r="1"/><circle cx="12.1" cy="30.3" r="0.7"/><circle cx="15.9" cy="5.4" r="1"/><circle cx="2.5" cy="1.3" r="0.9"/><circle cx="14" cy="35.1" r="1"/><circle cx="45" cy="39.5" r="1.2"/><circle cx="52.7" cy="23.4" r="0.9"/><circle cx="59.1" cy="9" r="1.2"/><circle cx="38.6" cy="2.6" r="1.2"/><circle cx="53.5" cy="37.6" r="1.2"/><circle cx="48.7" cy="8.4" r="1"/><circle cx="30.3" cy="50.1" r="1.2"/><circle cx="49.6" cy="35" r="1.3"/><circle cx="41" cy="41.6" r="0.8"/><circle cx="1.9" cy="8" r="0.9"/><circle cx="6.3" cy="50.1" r="1.1"/><circle cx="37.7" cy="37.6" r="1.1"/><circle cx="29.4" cy="0.2" r="1.2"/><circle cx="44.9" cy="30.2" r="1"/><circle cx="39.6" cy="4" r="1.2"/><circle cx="15.1" cy="4.5" r="0.9"/><circle cx="43.8" cy="12.3" r="1.2"/><circle cx="58.5" cy="29.6" r="0.9"/><circle cx="28.7" cy="41" r="1.2"/><circle cx="37" cy="38.6" r="0.8"/><circle cx="8.8" cy="15.2" r="1.2"/><circle cx="18.3" cy="34.1" r="0.7"/><circle cx="3.6" cy="16.1" r="1.1"/><circle cx="41.5" cy="40.5" r="0.9"/><circle cx="31" cy="27.9" r="1"/><circle cx="7.1" cy="53.6" r="0.8"/><circle cx="58.7" cy="56.2" r="0.7"/><circle cx="27.5" cy="49.2" r="1.3"/><circle cx="27" cy="16.1" r="0.8"/><circle cx="56.7" cy="12.6" r="1.1"/><circle cx="8.5" cy="31.4" r="1.3"/><circle cx="8" cy="49.2" r="1"/><circle cx="53.2" cy="42.2" r="0.9"/><circle cx="53.9" cy="29.2" r="0.7"/><circle cx="0.2" cy="29.5" r="1"/><circle cx="18.1" cy="8.4" r="0.9"/><circle cx="19" cy="50.4" r="0.7"/><circle cx="45" cy="50.3" r="0.8"/><circle cx="55.6" cy="42.8" r="1.3"/><circle cx="17.4" cy="22.3" r="1"/><circle cx="59.9" cy="35.4" r="0.9"/><circle cx="25.7" cy="16.5" r="0.7"/><circle cx="6.1" cy="50.1" r="0.9"/><circle cx="56.1" cy="15" r="0.9"/><circle cx="30.7" cy="11.4" r="0.9"/><circle cx="57.4" cy="53.1" r="1.2"/><circle cx="37.9" cy="54.8" r="1.3"/><circle cx="33" cy="43.2" r="0.7"/><circle cx="43.9" cy="27.1" r="1.2"/><circle cx="38.7" cy="17.2" r="0.7"/><circle cx="55.6" cy="7.6" r="1"/><circle cx="20.6" cy="17.9" r="1.2"/><circle cx="58.6" cy="15.6" r="1.1"/><circle cx="18.1" cy="33.4" r="1"/><circle cx="10" cy="9.7" r="0.8"/><circle cx="54.4" cy="29.8" r="0.8"/><circle cx="54.4" cy="59.8" r="1"/><circle cx="8.4" cy="11.5" r="0.8"/><circle cx="20.5" cy="5.5" r="0.9"/><circle cx="15.5" cy="34.2" r="1.3"/><circle cx="45" cy="24.8" r="1"/><circle cx="31.5" cy="22.6" r="0.9"/><circle cx="3.7" cy="16.7" r="1.3"/><circle cx="7.6" cy="30.2" r="1.1"/><circle cx="51.8" cy="13" r="0.9"/><circle cx="14.9" cy="24" r="1"/><circle cx="57.2" cy="50.9" r="1.3"/><circle cx="1.3" cy="1.9" r="1.2"/><circle cx="53.7" cy="28.4" r="1.1"/><circle cx="0" cy="23.5" r="1.3"/><circle cx="49.5" cy="51.3" r="1.3"/><circle cx="14.9" cy="6.5" r="0.8"/><circle cx="31.3" cy="40.9" r="1.3"/><circle cx="43.3" cy="38.8" r="1.2"/><circle cx="27.4" cy="33.1" r="0.7"/><circle cx="46.9" cy="14" r="1.3"/><circle cx="38.7" cy="18.2" r="0.8"/><circle cx="15.1" cy="38.2" r="1.2"/><circle cx="6.7" cy="4.2" r="1"/><circle cx="35" cy="23.3" r="0.8"/><circle cx="36.1" cy="0.6" r="0.9"/><circle cx="27.6" cy="57.5" r="1.1"/><circle cx="53" cy="28.5" r="0.9"/><circle cx="14.8" cy="57.6" r="1.2"/><circle cx="18.4" cy="1.3" r="1"/><circle cx="40.5" cy="25.2" r="0.9"/><circle cx="40" cy="55.5" r="0.8"/><circle cx="2" cy="20.3" r="1"/><circle cx="41" cy="11.9" r="1.2"/><circle cx="44.3" cy="30.3" r="0.8"/><circle cx="58.2" cy="18.7" r="1.2"/><circle cx="13.8" cy="13.3" r="1.2"/><circle cx="17.7" cy="57.1" r="1"/><circle cx="11.2" cy="13.4" r="1"/><circle cx="39.9" cy="56.9" r="0.8"/><circle cx="23.6" cy="12.8" r="1.3"/><circle cx="8.5" cy="3.1" r="0.7"/><circle cx="23.6" cy="53.9" r="1.3"/><circle cx="44" cy="59.9" r="1.3"/><circle cx="19.8" cy="11.1" r="1.3"/><circle cx="44.8" cy="1.9" r="1.1"/><circle cx="22.7" cy="22.4" r="0.9"/><circle cx="10.2" cy="0.2" r="0.9"/><circle cx="21.1" cy="57.3" r="0.8"/><circle cx="57.9" cy="12.4" r="0.9"/><circle cx="49.3" cy="49.3" r="1"/><circle cx="3" cy="28.4" r="0.9"/><circle cx="55.2" cy="11.6" r="0.9"/><circle cx="53.8" cy="1.8" r="1"/><circle cx="48.7" cy="46" r="0.7"/><circle cx="2.1" cy="3.8" r="1.3"/><circle cx="15.4" cy="44.8" r="1.3"/><circle cx="20.3" cy="16.3" r="1.3"/><circle cx="37" cy="15.7" r="1.2"/></g></pattern><pattern id="nM" width="60" height="60" patternUnits="userSpaceOnUse"><g fill="#45237f" opacity="0.8"><circle cx="19" cy="16.5" r="0.7"/><circle cx="45.3" cy="55" r="1"/><circle cx="56.6" cy="1.5" r="0.8"/><circle cx="28.5" cy="57.4" r="1.2"/><circle cx="23.2" cy="15.1" r="0.9"/><circle cx="29.6" cy="55.7" r="0.8"/><circle cx="48.2" cy="44.3" r="1.1"/><circle cx="46.4" cy="36.4" r="0.8"/><circle cx="19.2" cy="21.7" r="1.1"/><circle cx="4.7" cy="11.8" r="1.1"/><circle cx="14.8" cy="3.9" r="0.7"/><circle cx="33.2" cy="19.5" r="1.2"/><circle cx="53" cy="59.3" r="0.8"/><circle cx="5" cy="5.8" r="0.9"/><circle cx="42.6" cy="26.8" r="0.8"/><circle cx="25" cy="37.2" r="1"/><circle cx="44.9" cy="50.8" r="1"/><circle cx="7.3" cy="50.5" r="0.8"/><circle cx="34" cy="22.4" r="1.1"/><circle cx="12" cy="14.8" r="0.8"/><circle cx="9.2" cy="53.1" r="1"/><circle cx="19.6" cy="23.8" r="1.2"/><circle cx="30.4" cy="13.9" r="1.1"/><circle cx="39.2" cy="59.5" r="0.7"/><circle cx="28.5" cy="49.1" r="1.1"/><circle cx="54.9" cy="2.4" r="0.8"/><circle cx="7.2" cy="11.4" r="1.2"/><circle cx="35" cy="55.8" r="0.9"/><circle cx="52" cy="26.9" r="0.8"/><circle cx="46.7" cy="56.7" r="0.7"/><circle cx="35.8" cy="37.2" r="0.8"/><circle cx="22.1" cy="8.5" r="0.8"/><circle cx="15.3" cy="36" r="1"/><circle cx="12.2" cy="0.7" r="0.8"/><circle cx="40.7" cy="11.1" r="0.8"/><circle cx="12.2" cy="47.7" r="1"/><circle cx="3.8" cy="6.1" r="0.9"/><circle cx="33" cy="38.4" r="0.7"/><circle cx="9.8" cy="41.7" r="0.9"/><circle cx="17" cy="18.5" r="1.2"/><circle cx="18.7" cy="34" r="0.8"/><circle cx="25" cy="51.9" r="1.2"/><circle cx="21.8" cy="11.8" r="1.1"/><circle cx="12.2" cy="0.4" r="1.1"/><circle cx="25.4" cy="49.2" r="0.9"/><circle cx="53" cy="27.7" r="0.7"/><circle cx="0.9" cy="33.1" r="1"/><circle cx="54.6" cy="5.3" r="1"/><circle cx="22.3" cy="30.3" r="0.7"/><circle cx="17" cy="31.3" r="1.2"/><circle cx="6.5" cy="29.4" r="1.1"/><circle cx="58" cy="11.8" r="0.7"/><circle cx="56.6" cy="58.5" r="0.9"/><circle cx="3.2" cy="55.6" r="0.9"/><circle cx="54.3" cy="37.2" r="1.1"/><circle cx="9.6" cy="47.1" r="0.8"/><circle cx="24.3" cy="50.8" r="1.1"/><circle cx="11" cy="13.1" r="0.9"/><circle cx="31.1" cy="23" r="0.7"/><circle cx="14.8" cy="43.5" r="1.1"/><circle cx="2.5" cy="33.7" r="1.1"/><circle cx="2.3" cy="50.3" r="0.7"/><circle cx="36" cy="33" r="1"/><circle cx="18.4" cy="25.2" r="1"/><circle cx="25.5" cy="39.5" r="0.9"/><circle cx="26.3" cy="1.4" r="1"/><circle cx="29.4" cy="14.1" r="1.1"/><circle cx="46.8" cy="27.5" r="0.7"/><circle cx="28.4" cy="6.4" r="0.7"/><circle cx="25.8" cy="5.5" r="0.9"/><circle cx="30.6" cy="2.4" r="1"/><circle cx="4.9" cy="44" r="1.1"/><circle cx="30.7" cy="3.3" r="0.9"/><circle cx="22.7" cy="57.1" r="0.7"/><circle cx="51.4" cy="59.8" r="1.1"/><circle cx="48.9" cy="11.6" r="1.2"/><circle cx="29.5" cy="57.4" r="1.2"/><circle cx="9.9" cy="47.3" r="1.2"/><circle cx="3.9" cy="21.1" r="1.1"/><circle cx="9.5" cy="53.8" r="0.8"/><circle cx="48.9" cy="8.6" r="0.9"/><circle cx="55.2" cy="12.5" r="0.8"/><circle cx="30.4" cy="19.1" r="0.7"/><circle cx="10.9" cy="9.7" r="1.2"/><circle cx="40.8" cy="53.7" r="0.7"/><circle cx="47.1" cy="6.9" r="0.9"/><circle cx="38.2" cy="21.6" r="1.1"/><circle cx="33.3" cy="34.8" r="1.1"/><circle cx="6.3" cy="59.6" r="1"/><circle cx="23.7" cy="47.9" r="0.8"/><circle cx="59.4" cy="34.6" r="0.8"/><circle cx="45.9" cy="26.5" r="0.7"/><circle cx="44.6" cy="2.9" r="1.1"/><circle cx="15.2" cy="38.4" r="1.2"/><circle cx="35.2" cy="39.8" r="0.8"/><circle cx="0.1" cy="2" r="0.7"/><circle cx="37" cy="25.9" r="0.9"/><circle cx="53.7" cy="7.9" r="0.8"/><circle cx="39.2" cy="1.3" r="0.7"/><circle cx="21.3" cy="6.4" r="0.8"/><circle cx="13.5" cy="35" r="1"/><circle cx="12.3" cy="37.4" r="0.9"/><circle cx="8.1" cy="56.2" r="0.8"/><circle cx="9" cy="5.7" r="1"/><circle cx="52.3" cy="46.9" r="0.9"/><circle cx="15.9" cy="0.7" r="1"/><circle cx="33.7" cy="21" r="1"/><circle cx="26.6" cy="56.2" r="1.1"/><circle cx="14.9" cy="54.2" r="0.7"/><circle cx="31.9" cy="24.4" r="0.8"/><circle cx="3.5" cy="46.7" r="0.7"/><circle cx="33.1" cy="56.5" r="0.7"/><circle cx="12" cy="36.5" r="0.9"/><circle cx="38.5" cy="48.8" r="0.7"/><circle cx="18.6" cy="18" r="0.7"/><circle cx="53.4" cy="47" r="1"/><circle cx="0.4" cy="50.7" r="1.1"/><circle cx="27.9" cy="44.5" r="0.9"/><circle cx="13.6" cy="6.3" r="0.8"/><circle cx="2.3" cy="20.1" r="1.1"/></g></pattern><pattern id="nS" width="60" height="60" patternUnits="userSpaceOnUse"><g fill="#3f2a80" opacity="0.8"><ellipse cx="41.7" cy="50.7" rx="1.6" ry="0.6" transform="rotate(-18 41.7 50.7)"/><ellipse cx="33.2" cy="26.2" rx="1.6" ry="0.6" transform="rotate(1 33.2 26.2)"/><ellipse cx="15.9" cy="38.5" rx="1.8" ry="0.7" transform="rotate(-22 15.9 38.5)"/><ellipse cx="52.8" cy="0.9" rx="1.2" ry="0.5" transform="rotate(-21 52.8 0.9)"/><ellipse cx="44.6" cy="56.7" rx="1.6" ry="0.6" transform="rotate(-13 44.6 56.7)"/><ellipse cx="52.8" cy="19.7" rx="1.2" ry="0.5" transform="rotate(32 52.8 19.7)"/><ellipse cx="37.8" cy="41.6" rx="1.5" ry="0.6" transform="rotate(38 37.8 41.6)"/><ellipse cx="28.2" cy="50.4" rx="1.6" ry="0.6" transform="rotate(28 28.2 50.4)"/><ellipse cx="26.2" cy="43.5" rx="1.5" ry="0.6" transform="rotate(-15 26.2 43.5)"/><ellipse cx="12.7" cy="37.4" rx="1.1" ry="0.4" transform="rotate(32 12.7 37.4)"/><ellipse cx="8.7" cy="1.6" rx="1.1" ry="0.4" transform="rotate(34 8.7 1.6)"/><ellipse cx="20.7" cy="8.5" rx="1" ry="0.4" transform="rotate(-36 20.7 8.5)"/><ellipse cx="41.6" cy="38" rx="1.6" ry="0.6" transform="rotate(18 41.6 38)"/><ellipse cx="3.9" cy="35.4" rx="1.3" ry="0.5" transform="rotate(25 3.9 35.4)"/><ellipse cx="49.2" cy="53.5" rx="1" ry="0.4" transform="rotate(29 49.2 53.5)"/><ellipse cx="54.9" cy="56.7" rx="1.1" ry="0.4" transform="rotate(-23 54.9 56.7)"/><ellipse cx="6.7" cy="2.1" rx="1.7" ry="0.7" transform="rotate(24 6.7 2.1)"/><ellipse cx="38.1" cy="49.5" rx="1.5" ry="0.6" transform="rotate(-17 38.1 49.5)"/><ellipse cx="6" cy="5.9" rx="1.6" ry="0.6" transform="rotate(-23 6 5.9)"/><ellipse cx="19.1" cy="25.4" rx="1" ry="0.4" transform="rotate(-19 19.1 25.4)"/><ellipse cx="17" cy="42.9" rx="1.3" ry="0.5" transform="rotate(-14 17 42.9)"/><ellipse cx="57.8" cy="30.2" rx="1.7" ry="0.7" transform="rotate(9 57.8 30.2)"/><ellipse cx="1.9" cy="24.8" rx="1.3" ry="0.5" transform="rotate(21 1.9 24.8)"/><ellipse cx="20.8" cy="42.3" rx="1.4" ry="0.6" transform="rotate(-22 20.8 42.3)"/><ellipse cx="51.7" cy="5.5" rx="1.7" ry="0.6" transform="rotate(-26 51.7 5.5)"/><ellipse cx="0.1" cy="12.1" rx="1.6" ry="0.6" transform="rotate(38 0.1 12.1)"/><ellipse cx="0.3" cy="29.4" rx="1.4" ry="0.5" transform="rotate(23 0.3 29.4)"/><ellipse cx="11.1" cy="29.7" rx="1.3" ry="0.5" transform="rotate(26 11.1 29.7)"/><ellipse cx="15.6" cy="56.6" rx="1.2" ry="0.5" transform="rotate(-22 15.6 56.6)"/><ellipse cx="42" cy="29.9" rx="1.1" ry="0.4" transform="rotate(10 42 29.9)"/><ellipse cx="4.9" cy="47.3" rx="1.6" ry="0.6" transform="rotate(22 4.9 47.3)"/><ellipse cx="37.7" cy="21.3" rx="1.3" ry="0.5" transform="rotate(-8 37.7 21.3)"/><ellipse cx="53.4" cy="5.2" rx="1.7" ry="0.7" transform="rotate(-37 53.4 5.2)"/><ellipse cx="12.4" cy="15.8" rx="1.7" ry="0.7" transform="rotate(0 12.4 15.8)"/><ellipse cx="22.8" cy="53" rx="1.2" ry="0.5" transform="rotate(-3 22.8 53)"/><ellipse cx="31.9" cy="45.3" rx="1.6" ry="0.6" transform="rotate(11 31.9 45.3)"/><ellipse cx="20.9" cy="19.6" rx="1.1" ry="0.4" transform="rotate(27 20.9 19.6)"/><ellipse cx="39.7" cy="44.5" rx="1.1" ry="0.4" transform="rotate(-4 39.7 44.5)"/><ellipse cx="46.4" cy="34.8" rx="1.1" ry="0.4" transform="rotate(-3 46.4 34.8)"/><ellipse cx="53.1" cy="14.3" rx="1.1" ry="0.4" transform="rotate(-15 53.1 14.3)"/></g></pattern><pattern id="nL" width="60" height="60" patternUnits="userSpaceOnUse"><g fill="#ffffff" opacity="0.3"><circle cx="42.2" cy="50.6" r="0.6"/><circle cx="9.4" cy="14.9" r="0.8"/><circle cx="31.3" cy="9.7" r="0.8"/><circle cx="11.4" cy="58.5" r="1.1"/><circle cx="6.1" cy="57.7" r="0.6"/><circle cx="23.1" cy="59" r="1.1"/><circle cx="44" cy="26.1" r="0.7"/><circle cx="38.3" cy="6.4" r="0.7"/><circle cx="23.3" cy="2" r="0.8"/><circle cx="47.5" cy="41.6" r="0.9"/><circle cx="37.9" cy="27.8" r="0.6"/><circle cx="36.2" cy="24.3" r="1.1"/><circle cx="54.5" cy="25.8" r="1"/><circle cx="44.9" cy="25.3" r="0.7"/><circle cx="43.3" cy="52.8" r="1.1"/><circle cx="42" cy="51.1" r="1"/><circle cx="38.5" cy="27.2" r="0.8"/><circle cx="37.7" cy="5.9" r="0.8"/><circle cx="46.9" cy="42.8" r="1"/><circle cx="15" cy="25.4" r="0.9"/><circle cx="37.3" cy="24.6" r="1"/><circle cx="55.8" cy="11" r="1"/><circle cx="46.7" cy="23.3" r="0.9"/><circle cx="58.5" cy="2.3" r="0.9"/><circle cx="9.7" cy="46.9" r="1.3"/><circle cx="31.2" cy="6.1" r="1"/><circle cx="32.5" cy="43" r="0.9"/><circle cx="38.4" cy="49.7" r="0.9"/><circle cx="24.6" cy="56.9" r="0.7"/><circle cx="41.1" cy="23.5" r="1.1"/><circle cx="7.3" cy="59.1" r="0.8"/><circle cx="3.4" cy="16.5" r="0.8"/><circle cx="0.8" cy="25.1" r="0.8"/><circle cx="41.9" cy="21.1" r="0.7"/><circle cx="13.5" cy="44.5" r="1.3"/><circle cx="31.6" cy="13.1" r="1.1"/><circle cx="23.5" cy="12.7" r="0.6"/><circle cx="46.6" cy="48.6" r="1"/><circle cx="28.1" cy="33.7" r="0.7"/><circle cx="57.8" cy="21.2" r="1"/><circle cx="49.1" cy="49" r="0.9"/><circle cx="17.7" cy="32.9" r="0.6"/><circle cx="50" cy="21.3" r="1.2"/><circle cx="16" cy="22.6" r="0.7"/><circle cx="25.6" cy="11.2" r="0.5"/><circle cx="43.3" cy="16.9" r="0.7"/><circle cx="18.1" cy="28.8" r="0.8"/><circle cx="38.2" cy="39.6" r="0.8"/><circle cx="55.7" cy="51.3" r="0.5"/><circle cx="49.7" cy="54.3" r="1.1"/><circle cx="8.4" cy="49.9" r="1"/><circle cx="0.9" cy="0.7" r="1.3"/><circle cx="39.4" cy="15" r="0.6"/><circle cx="8.6" cy="14" r="1.1"/><circle cx="20.8" cy="9.2" r="1.2"/><circle cx="47.5" cy="10.1" r="1.2"/><circle cx="36.5" cy="46.9" r="1"/><circle cx="53.6" cy="47.3" r="1.2"/><circle cx="11.8" cy="41.6" r="0.9"/><circle cx="44.5" cy="26.3" r="1.2"/><circle cx="33.3" cy="15.9" r="0.7"/><circle cx="8.4" cy="29.6" r="0.5"/><circle cx="28" cy="8.7" r="0.9"/><circle cx="29.9" cy="32.4" r="1.2"/><circle cx="0.4" cy="50.4" r="0.9"/><circle cx="33.8" cy="39.9" r="1.2"/><circle cx="22.5" cy="25.1" r="1.3"/><circle cx="4.5" cy="38.2" r="1"/><circle cx="1.7" cy="36.6" r="1"/><circle cx="55.9" cy="19.8" r="1.3"/><circle cx="30.6" cy="29.1" r="1.2"/><circle cx="2" cy="43.1" r="1"/><circle cx="20.3" cy="51.7" r="0.8"/><circle cx="28.5" cy="31.5" r="1.1"/><circle cx="12.6" cy="26.1" r="0.8"/><circle cx="33.2" cy="49.6" r="0.7"/><circle cx="49.7" cy="24.2" r="0.9"/><circle cx="16.3" cy="30.4" r="1.3"/><circle cx="39.3" cy="47.5" r="0.8"/><circle cx="19" cy="18" r="1"/><circle cx="38.1" cy="47.1" r="0.5"/><circle cx="43.4" cy="53.1" r="0.9"/><circle cx="3" cy="18" r="0.5"/><circle cx="11.4" cy="55.3" r="1"/><circle cx="39.5" cy="47.3" r="1.2"/><circle cx="36.7" cy="37" r="1"/><circle cx="41.8" cy="35.8" r="1"/><circle cx="12.8" cy="40" r="0.9"/><circle cx="45.8" cy="6.1" r="0.6"/><circle cx="2.2" cy="46.5" r="1.2"/></g></pattern><pattern id="wS" width="60" height="60" patternUnits="userSpaceOnUse"><g fill="#ffffff" opacity="0.5"><circle cx="39.3" cy="22.1" r="0.9"/><circle cx="47.2" cy="33.7" r="0.6"/><circle cx="18.1" cy="25.3" r="0.6"/><circle cx="25.8" cy="38.5" r="1"/><circle cx="3.3" cy="34.1" r="0.4"/><circle cx="7.1" cy="48.6" r="0.7"/><circle cx="55.1" cy="26.8" r="0.4"/><circle cx="23.2" cy="35.5" r="1"/><circle cx="58.8" cy="28.5" r="0.6"/><circle cx="6.1" cy="38.7" r="0.5"/><circle cx="9.1" cy="0.9" r="0.4"/><circle cx="41" cy="7.3" r="1"/><circle cx="5.3" cy="52.2" r="0.5"/><circle cx="1.1" cy="43.2" r="0.5"/><circle cx="44" cy="11.2" r="0.4"/><circle cx="46.4" cy="42.8" r="0.9"/><circle cx="43.8" cy="5.1" r="0.8"/><circle cx="42.6" cy="27.6" r="1"/><circle cx="15.2" cy="57.9" r="0.8"/><circle cx="0.7" cy="0.9" r="0.8"/><circle cx="49" cy="4.8" r="0.6"/><circle cx="43.8" cy="10" r="0.9"/><circle cx="29.2" cy="3.6" r="0.6"/><circle cx="34.5" cy="26.3" r="0.8"/><circle cx="8.7" cy="47.8" r="0.6"/><circle cx="38.7" cy="37.8" r="0.7"/><circle cx="23.1" cy="47.2" r="1"/><circle cx="47.1" cy="34" r="0.6"/><circle cx="3.6" cy="58.4" r="0.8"/><circle cx="49.6" cy="19.9" r="0.8"/><circle cx="58.6" cy="49.9" r="0.8"/><circle cx="18.5" cy="25.7" r="0.9"/><circle cx="22.6" cy="41.1" r="0.8"/><circle cx="53.8" cy="48.4" r="0.6"/><circle cx="0.1" cy="15.8" r="0.7"/><circle cx="35.2" cy="49" r="0.9"/><circle cx="2.5" cy="50" r="0.9"/><circle cx="52" cy="34.3" r="0.6"/><circle cx="51.1" cy="48.4" r="0.8"/><circle cx="54.8" cy="20.8" r="0.5"/><circle cx="33.2" cy="47.8" r="0.5"/><circle cx="45" cy="55.9" r="0.5"/><circle cx="36.4" cy="40.7" r="0.7"/><circle cx="12.4" cy="15.3" r="0.9"/><circle cx="47.5" cy="27.6" r="0.5"/><circle cx="48.4" cy="46.3" r="0.5"/><circle cx="34.8" cy="53.8" r="0.9"/><circle cx="31.3" cy="28.6" r="0.8"/><circle cx="11.3" cy="11.5" r="0.5"/><circle cx="42.1" cy="21.8" r="0.7"/><circle cx="24.1" cy="31" r="0.5"/><circle cx="2.7" cy="59.8" r="0.6"/><circle cx="6.4" cy="38" r="0.9"/><circle cx="9.4" cy="35.8" r="0.6"/><circle cx="31.2" cy="1.2" r="0.4"/><circle cx="59.4" cy="52" r="0.7"/><circle cx="34" cy="15.7" r="0.9"/><circle cx="25.6" cy="56.8" r="0.9"/><circle cx="49.1" cy="57.8" r="0.6"/><circle cx="2.3" cy="12.1" r="0.5"/><circle cx="5" cy="3.1" r="0.7"/><circle cx="52.2" cy="27.5" r="1"/><circle cx="54.6" cy="3.9" r="0.8"/><circle cx="23.8" cy="7.2" r="1"/><circle cx="15.4" cy="33.9" r="0.8"/><circle cx="57.4" cy="40.2" r="0.6"/><circle cx="26.9" cy="9.6" r="1"/><circle cx="59.5" cy="13.3" r="0.4"/><circle cx="15.4" cy="21.1" r="0.9"/><circle cx="54.3" cy="50.2" r="0.4"/><circle cx="47.2" cy="42.6" r="0.8"/><circle cx="59.1" cy="3.3" r="0.5"/><circle cx="45.3" cy="56.4" r="0.8"/><circle cx="17.9" cy="35.5" r="0.9"/><circle cx="6.3" cy="19.4" r="0.6"/><circle cx="7.4" cy="28.9" r="0.5"/><circle cx="14.3" cy="8.6" r="0.8"/><circle cx="0.8" cy="43" r="0.5"/><circle cx="2.2" cy="55.7" r="0.5"/><circle cx="56" cy="52" r="0.9"/><circle cx="8.4" cy="26.8" r="0.5"/><circle cx="55.7" cy="50.5" r="0.8"/><circle cx="27.1" cy="20.4" r="0.9"/><circle cx="28.7" cy="37.7" r="0.5"/><circle cx="13.3" cy="3.4" r="0.8"/><circle cx="33.2" cy="8.7" r="0.9"/><circle cx="16" cy="24.7" r="0.5"/><circle cx="16.3" cy="50.4" r="0.6"/><circle cx="10.1" cy="29.5" r="0.6"/><circle cx="54.2" cy="6.9" r="1"/><circle cx="3.4" cy="53.7" r="0.8"/><circle cx="12.7" cy="28.6" r="0.6"/><circle cx="15.5" cy="12.1" r="0.6"/><circle cx="59.5" cy="59.9" r="1"/><circle cx="5.9" cy="17.4" r="0.9"/><circle cx="3.4" cy="43.6" r="0.6"/><circle cx="58.7" cy="1" r="0.9"/><circle cx="20.5" cy="8.4" r="0.4"/><circle cx="49.9" cy="31.6" r="0.5"/><circle cx="26.1" cy="54.7" r="0.5"/><circle cx="34.3" cy="8.3" r="0.5"/><circle cx="46.2" cy="42.7" r="0.5"/><circle cx="4.8" cy="5.2" r="0.8"/><circle cx="29.7" cy="16.4" r="0.5"/><circle cx="36.7" cy="42.5" r="0.9"/><circle cx="35" cy="12.1" r="0.4"/><circle cx="44" cy="24.5" r="0.8"/><circle cx="3.3" cy="48.6" r="0.6"/><circle cx="50.5" cy="51.9" r="0.7"/><circle cx="0.9" cy="54.6" r="0.7"/><circle cx="52.3" cy="16" r="0.5"/><circle cx="49.9" cy="22" r="0.5"/><circle cx="22.3" cy="35.7" r="0.4"/><circle cx="31.2" cy="26.7" r="0.7"/><circle cx="7.2" cy="42.9" r="0.9"/><circle cx="51.9" cy="19.3" r="0.8"/><circle cx="22.9" cy="45.1" r="0.4"/><circle cx="52.4" cy="57.2" r="0.7"/><circle cx="30.8" cy="31.8" r="0.7"/><circle cx="1.2" cy="58" r="0.5"/></g></pattern><radialGradient id="cg"><stop offset="0" stop-color="#dcc4ea"/><stop offset="0.7" stop-color="#bf95d8"/><stop offset="1" stop-color="#a568c8"/></radialGradient><linearGradient id="lg" x1="0" x2="1" y1="0" y2="0"><stop offset="0" stop-color="#a86cc8"/><stop offset="0.5" stop-color="#d6bde6"/><stop offset="1" stop-color="#a86cc8"/></linearGradient><filter id="mL" x="0" y="0" width="100%" height="100%"><feTurbulence type="fractalNoise" baseFrequency="0.16" numOctaves="3" seed="5"/><feColorMatrix type="matrix" values="0 0 0 0 1  0 0 0 0 1  0 0 0 0 1  3 0 0 0 -1.35"/></filter><filter id="mD" x="0" y="0" width="100%" height="100%"><feTurbulence type="fractalNoise" baseFrequency="0.2" numOctaves="3" seed="11"/><feColorMatrix type="matrix" values="0 0 0 0 0.25  0 0 0 0 0.08  0 0 0 0 0.45  3 0 0 0 -1.35"/></filter></defs>
<svg x="87.8" y="634" width="314" height="224.5" viewBox="0 0 314 224.5" overflow="hidden">
<rect width="314" height="225" fill="#fdf8fc"/>
<clipPath id="hc1"><path d="M-2,-2 C51,-2 263,-2 316,-2 L316,64 C305,63.7 277.7,62.7 250,62 C222.3,61.3 181.7,61.2 150,60 C118.3,58.8 85.3,56.5 60,55 C34.7,53.5 8.3,51.7 -2,51 Z"/></clipPath>
<g clip-path="url(#hc1)"><rect x="-2" y="-2" width="318" height="229" fill="#8c3fbb"/><g fill="#a978cf" opacity="0.9"><ellipse cx="-7.3" cy="2.6" rx="5.7" ry="5.7" transform="rotate(-13 -7.3 2.6)"/><ellipse cx="8.3" cy="5.2" rx="6.1" ry="4.6" transform="rotate(-24 8.3 5.2)"/><ellipse cx="22.4" cy="4" rx="5.6" ry="5.5" transform="rotate(-28 22.4 4)"/><ellipse cx="38.9" cy="3.2" rx="6.8" ry="4.5" transform="rotate(5 38.9 3.2)"/><ellipse cx="55.2" cy="4.6" rx="5.6" ry="6" transform="rotate(-9 55.2 4.6)"/><ellipse cx="69.3" cy="2.8" rx="6.8" ry="5.5" transform="rotate(-24 69.3 2.8)"/><ellipse cx="86.2" cy="4.7" rx="7.1" ry="5.1" transform="rotate(2 86.2 4.7)"/><ellipse cx="100.9" cy="5" rx="6.9" ry="5.4" transform="rotate(7 100.9 5)"/><ellipse cx="116.9" cy="2.6" rx="5.8" ry="4.6" transform="rotate(-16 116.9 2.6)"/><ellipse cx="130.9" cy="2.8" rx="6.5" ry="5.1" transform="rotate(-13 130.9 2.8)"/><ellipse cx="146.9" cy="3.1" rx="7" ry="5.5" transform="rotate(-13 146.9 3.1)"/><ellipse cx="163.1" cy="3" rx="5.6" ry="5.1" transform="rotate(13 163.1 3)"/><ellipse cx="179.7" cy="4.4" rx="6.5" ry="5.8" transform="rotate(3 179.7 4.4)"/><ellipse cx="194.6" cy="3.2" rx="5.9" ry="4.9" transform="rotate(-28 194.6 3.2)"/><ellipse cx="208.4" cy="5.3" rx="5.9" ry="5.5" transform="rotate(22 208.4 5.3)"/><ellipse cx="224.4" cy="5.2" rx="5.8" ry="4.9" transform="rotate(-2 224.4 5.2)"/><ellipse cx="240.4" cy="3.3" rx="6.9" ry="5.1" transform="rotate(5 240.4 3.3)"/><ellipse cx="254.9" cy="5.5" rx="5.4" ry="4.6" transform="rotate(0 254.9 5.5)"/><ellipse cx="270.1" cy="4.4" rx="6.1" ry="4.6" transform="rotate(17 270.1 4.4)"/><ellipse cx="286.4" cy="5.5" rx="7.1" ry="5.9" transform="rotate(1 286.4 5.5)"/><ellipse cx="300.8" cy="4.7" rx="6.3" ry="4.9" transform="rotate(10 300.8 4.7)"/><ellipse cx="318.2" cy="2.8" rx="6.1" ry="6" transform="rotate(-3 318.2 2.8)"/><ellipse cx="1.1" cy="16.8" rx="5.6" ry="6" transform="rotate(0 1.1 16.8)"/><ellipse cx="16.6" cy="16.9" rx="6.4" ry="4.7" transform="rotate(8 16.6 16.9)"/><ellipse cx="31.8" cy="17.6" rx="6.3" ry="4.5" transform="rotate(16 31.8 17.6)"/><ellipse cx="46" cy="16.1" rx="6.9" ry="5.8" transform="rotate(25 46 16.1)"/><ellipse cx="61.4" cy="16.2" rx="7" ry="4.6" transform="rotate(22 61.4 16.2)"/><ellipse cx="77.5" cy="16.2" rx="6.7" ry="4.7" transform="rotate(15 77.5 16.2)"/><ellipse cx="92.9" cy="17.6" rx="6.9" ry="5.2" transform="rotate(-14 92.9 17.6)"/><ellipse cx="107.6" cy="17.6" rx="5.6" ry="5" transform="rotate(13 107.6 17.6)"/><ellipse cx="125.5" cy="17.9" rx="6.2" ry="4.7" transform="rotate(-3 125.5 17.9)"/><ellipse cx="138.7" cy="17" rx="5.7" ry="4.9" transform="rotate(5 138.7 17)"/><ellipse cx="153.7" cy="17.9" rx="7" ry="5.9" transform="rotate(-16 153.7 17.9)"/><ellipse cx="169.2" cy="16.7" rx="5.7" ry="4.7" transform="rotate(10 169.2 16.7)"/><ellipse cx="187.3" cy="17.7" rx="6.7" ry="5.8" transform="rotate(-1 187.3 17.7)"/><ellipse cx="200.6" cy="16.3" rx="6.1" ry="5.2" transform="rotate(-4 200.6 16.3)"/><ellipse cx="217.7" cy="18" rx="5.5" ry="5.1" transform="rotate(29 217.7 18)"/><ellipse cx="232" cy="18.6" rx="5.6" ry="5.2" transform="rotate(-15 232 18.6)"/><ellipse cx="247.8" cy="16.8" rx="7" ry="5.2" transform="rotate(-15 247.8 16.8)"/><ellipse cx="264.6" cy="17.7" rx="7.1" ry="5.8" transform="rotate(-26 264.6 17.7)"/><ellipse cx="280.4" cy="18.8" rx="5.6" ry="5.3" transform="rotate(20 280.4 18.8)"/><ellipse cx="293.6" cy="17.2" rx="6" ry="6.1" transform="rotate(-26 293.6 17.2)"/><ellipse cx="309.3" cy="18.4" rx="6.1" ry="6" transform="rotate(-2 309.3 18.4)"/><ellipse cx="-6.3" cy="31.2" rx="5.6" ry="5" transform="rotate(13 -6.3 31.2)"/><ellipse cx="9.2" cy="31.2" rx="6.7" ry="4.6" transform="rotate(2 9.2 31.2)"/><ellipse cx="23.5" cy="31" rx="5.6" ry="6" transform="rotate(21 23.5 31)"/><ellipse cx="37.5" cy="30.1" rx="6.5" ry="4.9" transform="rotate(5 37.5 30.1)"/><ellipse cx="53.1" cy="32.2" rx="6.4" ry="5.5" transform="rotate(-15 53.1 32.2)"/><ellipse cx="69.5" cy="31.3" rx="7" ry="4.8" transform="rotate(1 69.5 31.3)"/><ellipse cx="85.9" cy="30.2" rx="6.5" ry="5" transform="rotate(-6 85.9 30.2)"/><ellipse cx="100.2" cy="31.8" rx="6.1" ry="6.1" transform="rotate(-25 100.2 31.8)"/><ellipse cx="117.7" cy="29.7" rx="5.8" ry="6" transform="rotate(-17 117.7 29.7)"/><ellipse cx="132.9" cy="32.1" rx="5.6" ry="5.8" transform="rotate(-7 132.9 32.1)"/><ellipse cx="147.9" cy="31.3" rx="6.5" ry="4.5" transform="rotate(29 147.9 31.3)"/><ellipse cx="163.7" cy="30.4" rx="7" ry="4.7" transform="rotate(9 163.7 30.4)"/><ellipse cx="177.1" cy="29.8" rx="5.8" ry="5.5" transform="rotate(3 177.1 29.8)"/><ellipse cx="194.4" cy="30.1" rx="5.8" ry="5.3" transform="rotate(8 194.4 30.1)"/><ellipse cx="210.5" cy="32" rx="6.1" ry="4.9" transform="rotate(-24 210.5 32)"/><ellipse cx="223.3" cy="31.8" rx="5.8" ry="5.7" transform="rotate(8 223.3 31.8)"/><ellipse cx="240.4" cy="30.8" rx="5.4" ry="5.9" transform="rotate(-29 240.4 30.8)"/><ellipse cx="257" cy="31.1" rx="6.4" ry="4.7" transform="rotate(20 257 31.1)"/><ellipse cx="270.1" cy="30.4" rx="6.8" ry="5.9" transform="rotate(23 270.1 30.4)"/><ellipse cx="287.9" cy="30.1" rx="5.5" ry="5.7" transform="rotate(-15 287.9 30.1)"/><ellipse cx="303.4" cy="30.7" rx="5.6" ry="6" transform="rotate(7 303.4 30.7)"/><ellipse cx="318.8" cy="32.4" rx="6.9" ry="4.5" transform="rotate(18 318.8 32.4)"/><ellipse cx="0.7" cy="44" rx="6.8" ry="5.9" transform="rotate(25 0.7 44)"/><ellipse cx="16.4" cy="43.8" rx="5.5" ry="5.9" transform="rotate(17 16.4 43.8)"/><ellipse cx="32.1" cy="43.7" rx="6.1" ry="5" transform="rotate(18 32.1 43.7)"/><ellipse cx="47.4" cy="43.7" rx="5.6" ry="5" transform="rotate(-28 47.4 43.7)"/><ellipse cx="63.1" cy="45.9" rx="6.5" ry="5.1" transform="rotate(-13 63.1 45.9)"/><ellipse cx="78.9" cy="44.6" rx="5.5" ry="6" transform="rotate(26 78.9 44.6)"/><ellipse cx="92" cy="45.9" rx="5.5" ry="5.2" transform="rotate(-14 92 45.9)"/><ellipse cx="109.2" cy="43.9" rx="6.2" ry="5.1" transform="rotate(6 109.2 43.9)"/><ellipse cx="124.2" cy="43.8" rx="5.3" ry="6" transform="rotate(12 124.2 43.8)"/><ellipse cx="139.6" cy="45.2" rx="6.5" ry="5.1" transform="rotate(14 139.6 45.2)"/><ellipse cx="153.7" cy="45" rx="5.9" ry="5.9" transform="rotate(-10 153.7 45)"/><ellipse cx="171.2" cy="43.9" rx="6" ry="5.1" transform="rotate(-11 171.2 43.9)"/><ellipse cx="185.4" cy="43.4" rx="7" ry="5.6" transform="rotate(-4 185.4 43.4)"/><ellipse cx="202.7" cy="44.8" rx="6.3" ry="4.5" transform="rotate(-11 202.7 44.8)"/><ellipse cx="216.4" cy="44.3" rx="6.5" ry="5.2" transform="rotate(4 216.4 44.3)"/><ellipse cx="232.3" cy="43.6" rx="6.9" ry="5.8" transform="rotate(-1 232.3 43.6)"/><ellipse cx="247" cy="43.3" rx="6.4" ry="5" transform="rotate(0 247 43.3)"/><ellipse cx="264.5" cy="45.3" rx="5.7" ry="4.8" transform="rotate(10 264.5 45.3)"/><ellipse cx="277.6" cy="43.7" rx="6.9" ry="4.6" transform="rotate(-1 277.6 43.7)"/><ellipse cx="294.2" cy="44.9" rx="6.6" ry="5.3" transform="rotate(-18 294.2 44.9)"/><ellipse cx="309.2" cy="45" rx="6.7" ry="5.7" transform="rotate(-29 309.2 45)"/><ellipse cx="-8.9" cy="57.8" rx="7.1" ry="5.3" transform="rotate(-19 -8.9 57.8)"/><ellipse cx="6.4" cy="57.2" rx="6.1" ry="5.8" transform="rotate(20 6.4 57.2)"/><ellipse cx="23.8" cy="59.5" rx="7" ry="5.9" transform="rotate(5 23.8 59.5)"/><ellipse cx="39.1" cy="58.7" rx="6.8" ry="5.4" transform="rotate(0 39.1 58.7)"/><ellipse cx="55.4" cy="58.7" rx="5.8" ry="4.9" transform="rotate(-1 55.4 58.7)"/><ellipse cx="70.2" cy="58.8" rx="6.4" ry="4.9" transform="rotate(1 70.2 58.8)"/><ellipse cx="84" cy="57.4" rx="5.9" ry="5.4" transform="rotate(-13 84 57.4)"/><ellipse cx="99.7" cy="57.2" rx="6.6" ry="4.6" transform="rotate(11 99.7 57.2)"/><ellipse cx="116" cy="58.1" rx="5.7" ry="5.2" transform="rotate(-5 116 58.1)"/><ellipse cx="133" cy="58.3" rx="6.9" ry="5.7" transform="rotate(11 133 58.3)"/><ellipse cx="146.9" cy="56.5" rx="6.7" ry="5.9" transform="rotate(-8 146.9 56.5)"/><ellipse cx="164.1" cy="57.8" rx="6.3" ry="5.5" transform="rotate(14 164.1 57.8)"/><ellipse cx="177.4" cy="57.2" rx="5.3" ry="5" transform="rotate(-3 177.4 57.2)"/><ellipse cx="194.3" cy="57.7" rx="6.1" ry="4.7" transform="rotate(-20 194.3 57.7)"/><ellipse cx="209.6" cy="56.6" rx="6.3" ry="4.5" transform="rotate(-6 209.6 56.6)"/><ellipse cx="225.2" cy="56.9" rx="5.4" ry="5.1" transform="rotate(-2 225.2 56.9)"/><ellipse cx="239.4" cy="57.5" rx="6" ry="5.7" transform="rotate(15 239.4 57.5)"/><ellipse cx="256.7" cy="57.3" rx="5.3" ry="5.4" transform="rotate(-25 256.7 57.3)"/><ellipse cx="272.7" cy="57.5" rx="6.7" ry="5.5" transform="rotate(9 272.7 57.5)"/><ellipse cx="287.5" cy="59.3" rx="5.3" ry="4.7" transform="rotate(-18 287.5 59.3)"/><ellipse cx="301.1" cy="58.5" rx="5.7" ry="5.6" transform="rotate(3 301.1 58.5)"/><ellipse cx="318.6" cy="57" rx="6.7" ry="4.7" transform="rotate(6 318.6 57)"/></g><rect x="-2" y="-2" width="318" height="229" fill="url(#wS)" opacity="0.5"/><rect x="-2" y="-2" width="318" height="229" fill="url(#nM)" opacity="0.5"/><path d="M-2,48 C8.3,48.7 34.7,50.5 60,52 C85.3,53.5 118.3,55.8 150,57 C181.7,58.2 222.3,58.3 250,59 C277.7,59.7 305,60.7 316,61" fill="none" stroke="#c452c6" stroke-width="6" opacity="0.8"/><rect x="-2" y="-2" width="318" height="229" filter="url(#mL)" opacity="0.5"/><rect x="-2" y="-2" width="318" height="229" filter="url(#mD)" opacity="0.3"/></g>
<clipPath id="hc2"><path d="M-2,69 C8.3,70.2 43,73.8 60,76 C77,78.2 81.7,80.3 100,82 C118.3,83.7 145,85.7 170,86 C195,86.3 225.7,84.3 250,84 C274.3,83.7 305,84 316,84 L316,158 C300,158.3 246,159.7 220,160 C194,160.3 180,161.7 160,160 C140,158.3 118.3,154.5 100,150 C81.7,145.5 67,137.2 50,133 C33,128.8 6.7,126.3 -2,125 Z"/></clipPath>
<g clip-path="url(#hc2)"><rect x="-2" y="-2" width="318" height="229" fill="#7a36aa"/><g fill="#b48ad3" stroke="#55258a" stroke-width="1.6" opacity="0.9"><path d="M9.7,86.2 C9.7,97.4 7,101.9 7,108.6 C7,123.5 25.5,123.5 25.5,108.6 C25.5,101.9 17.1,97.4 17.1,86.2 Z"/><path d="M31.1,85.6 C31.1,98.7 28.8,103.9 28.8,111.8 C28.8,129.3 47,129.3 47,111.8 C47,103.9 39.7,98.7 39.7,85.6 Z"/><path d="M51.8,90 C51.8,103 44.5,108.2 44.5,115.9 C44.5,133.2 64.8,133.2 64.8,115.9 C64.8,108.2 58.6,103 58.6,90 Z"/><path d="M70.5,91.2 C70.5,105.4 67,111 67,119.5 C67,138.4 83.5,138.4 83.5,119.5 C83.5,111 78.5,105.4 78.5,91.2 Z"/><path d="M94.8,98.4 C94.8,112.1 86.5,117.6 86.5,125.8 C86.5,144.1 105.9,144.1 105.9,125.8 C105.9,117.6 103.2,112.1 103.2,98.4 Z"/><path d="M115.6,97.8 C115.6,113.7 106.8,120 106.8,129.5 C106.8,150.6 126,150.6 126,129.5 C126,120 122.8,113.7 122.8,97.8 Z"/><path d="M133.4,99.7 C133.4,115.6 125.9,121.9 125.9,131.4 C125.9,152.5 145.4,152.5 145.4,131.4 C145.4,121.9 140.7,115.6 140.7,99.7 Z"/><path d="M151,98.5 C151,116.3 147.5,123.4 147.5,134 C147.5,157.7 165.6,157.7 165.6,134 C165.6,123.4 158.9,116.3 158.9,98.5 Z"/><path d="M169.4,98.7 C169.4,116.5 165.2,123.7 165.2,134.4 C165.2,158.2 184.4,158.2 184.4,134.4 C184.4,123.7 176.5,116.5 176.5,98.7 Z"/><path d="M188.4,104.7 C188.4,120.5 182.9,126.9 182.9,136.4 C182.9,157.6 203,157.6 203,136.4 C203,126.9 194.8,120.5 194.8,104.7 Z"/><path d="M206.8,103.2 C206.8,119.2 200.4,125.6 200.4,135.3 C200.4,156.7 218.7,156.7 218.7,135.3 C218.7,125.6 215.4,119.2 215.4,103.2 Z"/><path d="M222.5,103.3 C222.5,118.8 220.4,125 220.4,134.3 C220.4,154.9 236.6,154.9 236.6,134.3 C236.6,125 231.1,118.8 231.1,103.3 Z"/><path d="M243.1,100.4 C243.1,117.2 239.8,123.9 239.8,133.9 C239.8,156.3 256.2,156.3 256.2,133.9 C256.2,123.9 251.9,117.2 251.9,100.4 Z"/><path d="M262.3,98.8 C262.3,115.6 260.5,122.3 260.5,132.4 C260.5,154.8 275.7,154.8 275.7,132.4 C275.7,122.3 269.4,115.6 269.4,98.8 Z"/><path d="M281.7,102.4 C281.7,117.9 278,124.1 278,133.4 C278,154.1 296.7,154.1 296.7,133.4 C296.7,124.1 289.6,117.9 289.6,102.4 Z"/><path d="M303.1,100.5 C303.1,116.6 301.1,123 301.1,132.6 C301.1,154.1 316.9,154.1 316.9,132.6 C316.9,123 310.2,116.6 310.2,100.5 Z"/></g><rect x="-2" y="-2" width="318" height="229" fill="url(#wS)" opacity="0.5"/><rect x="-2" y="-2" width="318" height="229" fill="url(#nD)" opacity="0.5"/><path d="M-2,72 C8.3,73.2 43,76.8 60,79 C77,81.2 81.7,83.3 100,85 C118.3,86.7 145,88.7 170,89 C195,89.3 225.7,87.3 250,87 C274.3,86.7 305,87 316,87" fill="none" stroke="#c452c6" stroke-width="6" opacity="0.8"/><rect x="-2" y="-2" width="318" height="229" filter="url(#mL)" opacity="0.5"/><rect x="-2" y="-2" width="318" height="229" filter="url(#mD)" opacity="0.3"/></g>
<clipPath id="hc3"><path d="M-2,125 C6.7,126.3 33,128.8 50,133 C67,137.2 81.7,145.5 100,150 C118.3,154.5 140,158.3 160,160 C180,161.7 194,160.3 220,160 C246,159.7 300,158.3 316,158 L316,207 C305,207.2 274.3,207.3 250,208 C225.7,208.7 191.7,211.5 170,211 C148.3,210.5 138.3,208.5 120,205 C101.7,201.5 80.3,194.5 60,190 C39.7,185.5 8.3,180 -2,178 Z"/></clipPath>
<g clip-path="url(#hc3)"><rect x="-2" y="-2" width="318" height="229" fill="#ee95d9"/><rect x="-2" y="-2" width="318" height="229" fill="url(#nS)" opacity="0.9"/><rect x="-2" y="-2" width="318" height="229" fill="url(#nL)" opacity="0.6"/><path d="M-2,128 C6.7,129.3 33,131.8 50,136 C67,140.2 81.7,148.5 100,153 C118.3,157.5 140,161.3 160,163 C180,164.7 194,163.3 220,163 C246,162.7 300,161.3 316,161" fill="none" stroke="#e064c8" stroke-width="4" opacity="0.9"/><path d="M-2,175 C8.3,177 39.7,182.5 60,187 C80.3,191.5 101.7,198.5 120,202 C138.3,205.5 148.3,207.5 170,208 C191.7,208.5 225.7,205.7 250,205 C274.3,204.3 305,204.2 316,204" fill="none" stroke="#e27ccd" stroke-width="4" opacity="0.8"/><rect x="-2" y="-2" width="318" height="229" filter="url(#mL)" opacity="0.3"/><rect x="-2" y="-2" width="318" height="229" filter="url(#mD)" opacity="0.1"/></g>
</svg>
<rect x="87.8" y="634" width="314" height="224.5" fill="none" stroke="#000" stroke-width="2"/>
<svg x="435.5" y="634" width="314" height="224.5" viewBox="0 0 314 224.5" overflow="hidden">
<rect width="314" height="225" fill="#fdf8fc"/>
<path d="M0,12 C40,18 80,25 130,28 S220,40 314,30" fill="none" stroke="#d9b8e4" stroke-width="1"/>
<path d="M120,40 C150,35 200,30 240,38 S300,45 314,40" fill="none" stroke="#cfa8de" stroke-width="1"/>
<path d="M40,20 C60,15 90,30 110,22" fill="none" stroke="#d6b2e0" stroke-width="1"/>
<ellipse cx="50" cy="22" rx="6" ry="4" fill="#b468c4"/>
<clipPath id="hc4"><path d="M195,30 C202.5,30.5 219.8,32.2 240,33 C260.2,33.8 303.3,34.7 316,35 L316,48 C303.3,48.3 260.2,50.7 240,50 C219.8,49.3 202.5,45 195,44 Z"/></clipPath>
<g clip-path="url(#hc4)"><rect x="-2" y="-2" width="318" height="229" fill="#eedcf2"/><rect x="-2" y="-2" width="318" height="229" fill="url(#nD)" opacity="0.7"/><rect x="-2" y="-2" width="318" height="229" filter="url(#mL)" opacity="0.5"/><rect x="-2" y="-2" width="318" height="229" filter="url(#mD)" opacity="0.3"/></g>
<clipPath id="hc5"><path d="M-2,38 C9,39 45.3,43 64,44 C82.7,45 97,42.8 110,44 C123,45.2 126,47.3 142,51 C158,54.7 187.7,61.7 206,66 C224.3,70.3 239.7,78 252,77 C264.3,76 269.3,61.8 280,60 C290.7,58.2 310,65 316,66 L316,148 C305,148.7 276,151 250,152 C224,153 188.3,156.3 160,154 C131.7,151.7 107,142.8 80,138 C53,133.2 11.7,127.2 -2,125 Z"/></clipPath>
<g clip-path="url(#hc5)"><rect x="-2" y="-2" width="318" height="229" fill="#d89ddb"/><path d="M-2,38 C9,39 45.3,43 64,44 C82.7,45 97,42.8 110,44 C123,45.2 126,47.3 142,51 C158,54.7 187.7,61.7 206,66 C224.3,70.3 239.7,78 252,77 C264.3,76 269.3,61.8 280,60 C290.7,58.2 310,65 316,66 L316,110 C305,110.8 276,115 250,115 C224,115 188.3,113.3 160,110 C131.7,106.7 107,99.2 80,95 C53,90.8 11.7,86.7 -2,85 Z" fill="#bd7ccf" opacity="0.9"/><g fill="#e6d0ee" opacity="0.7"><ellipse cx="-12.5" cy="50.1" rx="5.7" ry="4.6" transform="rotate(-13 -12.5 50.1)"/><ellipse cx="11.6" cy="48.9" rx="5" ry="5" transform="rotate(22 11.6 48.9)"/><ellipse cx="33.2" cy="49.9" rx="4.5" ry="3.9" transform="rotate(-3 33.2 49.9)"/><ellipse cx="56.3" cy="49.9" rx="4.9" ry="3.9" transform="rotate(19 56.3 49.9)"/><ellipse cx="77.4" cy="48.7" rx="5.1" ry="4.2" transform="rotate(-21 77.4 48.7)"/><ellipse cx="100.5" cy="48.9" rx="5.2" ry="4.9" transform="rotate(15 100.5 48.9)"/><ellipse cx="120.2" cy="50.1" rx="4.9" ry="5" transform="rotate(-2 120.2 50.1)"/><ellipse cx="144.5" cy="49.4" rx="5.2" ry="4.8" transform="rotate(7 144.5 49.4)"/><ellipse cx="166.3" cy="49.1" rx="5.2" ry="4" transform="rotate(-17 166.3 49.1)"/><ellipse cx="186" cy="48.7" rx="4.9" ry="4.6" transform="rotate(-29 186 48.7)"/><ellipse cx="208.4" cy="49.2" rx="5.3" ry="4.4" transform="rotate(12 208.4 49.2)"/><ellipse cx="231.6" cy="51.3" rx="5.2" ry="4.7" transform="rotate(17 231.6 51.3)"/><ellipse cx="254.3" cy="49.8" rx="5.2" ry="5.1" transform="rotate(2 254.3 49.8)"/><ellipse cx="276" cy="48.7" rx="4.7" ry="4.8" transform="rotate(-20 276 48.7)"/><ellipse cx="297.2" cy="49.4" rx="5.3" ry="4.8" transform="rotate(-22 297.2 49.4)"/><ellipse cx="320.3" cy="50" rx="4.4" ry="3.9" transform="rotate(0 320.3 50)"/><ellipse cx="-0.2" cy="67.5" rx="4.4" ry="5.1" transform="rotate(-14 -0.2 67.5)"/><ellipse cx="23" cy="68.2" rx="5.7" ry="4.7" transform="rotate(27 23 68.2)"/><ellipse cx="43.3" cy="66.6" rx="5" ry="4.7" transform="rotate(15 43.3 66.6)"/><ellipse cx="67.2" cy="67" rx="5.2" ry="4.5" transform="rotate(5 67.2 67)"/><ellipse cx="86.8" cy="67.5" rx="5.3" ry="5" transform="rotate(-10 86.8 67.5)"/><ellipse cx="109.5" cy="68.6" rx="5.7" ry="4.9" transform="rotate(-12 109.5 68.6)"/><ellipse cx="132.2" cy="67.9" rx="4.7" ry="5.1" transform="rotate(-11 132.2 67.9)"/><ellipse cx="153.7" cy="68" rx="5.2" ry="4.6" transform="rotate(29 153.7 68)"/><ellipse cx="175.7" cy="67.1" rx="5.4" ry="4.7" transform="rotate(-8 175.7 67.1)"/><ellipse cx="198.8" cy="67.1" rx="5.6" ry="4.4" transform="rotate(2 198.8 67.1)"/><ellipse cx="220.6" cy="66.9" rx="5.2" ry="4.1" transform="rotate(28 220.6 66.9)"/><ellipse cx="241" cy="68.2" rx="4.4" ry="5.2" transform="rotate(3 241 68.2)"/><ellipse cx="265.2" cy="67.9" rx="5.5" ry="4.5" transform="rotate(-22 265.2 67.9)"/><ellipse cx="286.6" cy="68" rx="5.5" ry="5.1" transform="rotate(-13 286.6 68)"/><ellipse cx="307.2" cy="68.2" rx="5.6" ry="4.5" transform="rotate(-6 307.2 68.2)"/><ellipse cx="-9.9" cy="87.1" rx="5.4" ry="4.4" transform="rotate(-13 -9.9 87.1)"/><ellipse cx="12.3" cy="86" rx="4.7" ry="4.2" transform="rotate(19 12.3 86)"/><ellipse cx="33.3" cy="87.5" rx="4.5" ry="4.6" transform="rotate(0 33.3 87.5)"/><ellipse cx="54.5" cy="86.2" rx="4.9" ry="4.3" transform="rotate(2 54.5 86.2)"/><ellipse cx="76.1" cy="86.6" rx="4.6" ry="4.9" transform="rotate(4 76.1 86.6)"/><ellipse cx="97.6" cy="86.7" rx="5.5" ry="4.3" transform="rotate(12 97.6 86.7)"/><ellipse cx="121.5" cy="87" rx="5" ry="3.9" transform="rotate(28 121.5 87)"/><ellipse cx="143" cy="86.3" rx="5.6" ry="4.4" transform="rotate(22 143 86.3)"/><ellipse cx="165.1" cy="85.9" rx="4.9" ry="4.7" transform="rotate(13 165.1 85.9)"/><ellipse cx="186" cy="85.9" rx="4.8" ry="4.8" transform="rotate(28 186 85.9)"/><ellipse cx="209.4" cy="87.1" rx="5.5" ry="4.3" transform="rotate(21 209.4 87.1)"/><ellipse cx="230.4" cy="86.7" rx="5.6" ry="3.9" transform="rotate(15 230.4 86.7)"/><ellipse cx="251.7" cy="86.4" rx="5.7" ry="4.8" transform="rotate(25 251.7 86.4)"/><ellipse cx="274.8" cy="84.8" rx="5.6" ry="4.4" transform="rotate(8 274.8 84.8)"/><ellipse cx="297.6" cy="87.2" rx="5.4" ry="4.2" transform="rotate(-27 297.6 87.2)"/><ellipse cx="318.6" cy="84.9" rx="5.1" ry="4.9" transform="rotate(1 318.6 84.9)"/><ellipse cx="-1" cy="102.7" rx="5.2" ry="4.2" transform="rotate(22 -1 102.7)"/><ellipse cx="23.2" cy="102.9" rx="4.6" ry="4.2" transform="rotate(-2 23.2 102.9)"/><ellipse cx="42.5" cy="104.9" rx="5.3" ry="4" transform="rotate(24 42.5 104.9)"/><ellipse cx="65.8" cy="103.5" rx="5.2" ry="4.4" transform="rotate(5 65.8 103.5)"/><ellipse cx="87.3" cy="105" rx="4.8" ry="4.5" transform="rotate(-18 87.3 105)"/><ellipse cx="109.2" cy="104.2" rx="5.7" ry="4.2" transform="rotate(4 109.2 104.2)"/><ellipse cx="133.4" cy="104.5" rx="5.1" ry="4.8" transform="rotate(-13 133.4 104.5)"/><ellipse cx="154.7" cy="102.6" rx="5" ry="5" transform="rotate(6 154.7 102.6)"/><ellipse cx="175.4" cy="104.9" rx="4.8" ry="4.7" transform="rotate(6 175.4 104.9)"/><ellipse cx="198.4" cy="104.5" rx="5.2" ry="5" transform="rotate(13 198.4 104.5)"/><ellipse cx="220.4" cy="105.2" rx="4.7" ry="4.4" transform="rotate(8 220.4 105.2)"/><ellipse cx="242.2" cy="104.7" rx="4.7" ry="4.8" transform="rotate(-24 242.2 104.7)"/><ellipse cx="263" cy="102.9" rx="5.7" ry="4.5" transform="rotate(2 263 102.9)"/><ellipse cx="287.2" cy="105" rx="5.5" ry="4.5" transform="rotate(-14 287.2 105)"/><ellipse cx="308.9" cy="104.7" rx="4.4" ry="5.1" transform="rotate(-9 308.9 104.7)"/></g><rect x="-2" y="-2" width="318" height="229" fill="url(#nD)" opacity="0.7"/><rect x="-2" y="-2" width="318" height="229" fill="url(#nM)" opacity="0.5"/><rect x="-2" y="-2" width="318" height="229" filter="url(#mL)" opacity="0.4"/><rect x="-2" y="-2" width="318" height="229" filter="url(#mD)" opacity="0.3"/></g>
<path d="M70,92 L85,100 L92,110 L80,103 Z" fill="#fdf8fc"/>
<clipPath id="hc6"><path d="M-2,125 C11.7,127.2 53,133.2 80,138 C107,142.8 131.7,151.7 160,154 C188.3,156.3 224,153 250,152 C276,151 305,148.7 316,148 L316,176 C305,176 276,176.7 250,176 C224,175.3 188.3,174.7 160,172 C131.7,169.3 107,164.8 80,160 C53,155.2 11.7,145.8 -2,143 Z"/></clipPath>
<g clip-path="url(#hc6)"><rect x="-2" y="-2" width="318" height="229" fill="#f8e6f5"/><rect x="-2" y="-2" width="318" height="229" fill="url(#nS)" opacity="0.6"/><rect x="-2" y="-2" width="318" height="229" filter="url(#mL)" opacity="0.2"/><rect x="-2" y="-2" width="318" height="229" filter="url(#mD)" opacity="0.1"/></g>
<path d="M-2,127 C11.7,129.2 53,135.2 80,140 C107,144.8 131.7,153.7 160,156 C188.3,158.3 224,155 250,154 C276,153 305,150.7 316,150" fill="none" stroke="#d94fb5" stroke-width="4.5" opacity="1"/>
<clipPath id="hc7"><path d="M-2,143 C11.7,145.8 53,155.2 80,160 C107,164.8 131.7,169.3 160,172 C188.3,174.7 224,175.3 250,176 C276,176.7 305,176 316,176 L316,194 C305,194.3 276,196 250,196 C224,196 188.3,195.3 160,194 C131.7,192.7 107,189.8 80,188 C53,186.2 11.7,183.8 -2,183 Z"/></clipPath>
<g clip-path="url(#hc7)"><rect x="-2" y="-2" width="318" height="229" fill="#e067c3"/><rect x="-2" y="-2" width="318" height="229" fill="url(#nS)" opacity="0.9"/><rect x="-2" y="-2" width="318" height="229" fill="url(#nL)" opacity="0.4"/><rect x="-2" y="-2" width="318" height="229" filter="url(#mL)" opacity="0.3"/><rect x="-2" y="-2" width="318" height="229" filter="url(#mD)" opacity="0.1"/></g>
<path d="M-2,200 C15,199.7 69.7,197 100,198 C130.3,199 155,204.3 180,206 C205,207.7 227.3,209 250,208 C272.7,207 305,201.3 316,200" fill="none" stroke="#e27ccb" stroke-width="2.5" opacity="1"/>
<path d="M-2,188 C15,188.7 69.7,190 100,192 C130.3,194 144,199 180,200 C216,201 293.3,198.3 316,198" fill="none" stroke="#efb5e2" stroke-width="3" opacity="1"/>
</svg>
<rect x="435.5" y="634" width="314" height="224.5" fill="none" stroke="#000" stroke-width="2"/>
<svg x="785.1" y="634" width="314" height="224.5" viewBox="0 0 314 224.5" overflow="hidden">
<rect width="314" height="225" fill="#fdf8fc"/>
<path d="M100,0 C130,20 150,30 170,10 M190,5 C200,25 230,20 250,5" fill="none" stroke="#dcc0e6" stroke-width="2"/>
<clipPath id="hc8"><path d="M-2,-2 C1.3,-2 14,-3.5 18,-2 C22,-0.5 17.5,5.2 22,7 C26.5,8.8 37,8 45,9 C53,10 64.2,10.2 70,13 C75.8,15.8 77,19.2 80,26 C83,32.8 85.5,52.8 88,54 C90.5,55.2 91.3,37.5 95,33 C98.7,28.5 105,28.7 110,27 C115,25.3 118.3,22.7 125,23 C131.7,23.3 143.3,25.7 150,29 C156.7,32.3 161.5,36.2 165,43 C168.5,49.8 169.3,62.5 171,70 C172.7,77.5 173.5,89.3 175,88 C176.5,86.7 178.2,68.8 180,62 C181.8,55.2 182.7,51.5 186,47 C189.3,42.5 195.2,38.8 200,35 C204.8,31.2 208.3,26.8 215,24 C221.7,21.2 230.8,19.8 240,18 C249.2,16.2 261.3,14.5 270,13 C278.7,11.5 284.3,9.8 292,9 C299.7,8.2 312,8.2 316,8 L316,157 C303.3,157.2 266,157.3 240,158 C214,158.7 186.7,162 160,161 C133.3,160 107,154.2 80,152 C53,149.8 11.7,148.7 -2,148 Z"/></clipPath>
<g clip-path="url(#hc8)"><rect x="-2" y="-2" width="318" height="229" fill="#873cae"/><path d="M-2,-2 C1.3,-2 14,-3.5 18,-2 C22,-0.5 17.5,5.2 22,7 C26.5,8.8 37,8 45,9 C53,10 64.2,10.2 70,13 C75.8,15.8 77,19.2 80,26 C83,32.8 85.5,52.8 88,54 C90.5,55.2 91.3,37.5 95,33 C98.7,28.5 105,28.7 110,27 C115,25.3 118.3,22.7 125,23 C131.7,23.3 143.3,25.7 150,29 C156.7,32.3 161.5,36.2 165,43 C168.5,49.8 169.3,62.5 171,70 C172.7,77.5 173.5,89.3 175,88 C176.5,86.7 178.2,68.8 180,62 C181.8,55.2 182.7,51.5 186,47 C189.3,42.5 195.2,38.8 200,35 C204.8,31.2 208.3,26.8 215,24 C221.7,21.2 230.8,19.8 240,18 C249.2,16.2 261.3,14.5 270,13 C278.7,11.5 284.3,9.8 292,9 C299.7,8.2 312,8.2 316,8" fill="none" stroke="#c24fc4" stroke-width="7" opacity="0.8"/><g fill="#d3c6e6" opacity="0.9"><ellipse cx="-10.6" cy="29.4" rx="4.9" ry="4.9" transform="rotate(21 -10.6 29.4)"/><ellipse cx="10.9" cy="28.9" rx="5" ry="3.7" transform="rotate(-8 10.9 28.9)"/><ellipse cx="28.6" cy="27.9" rx="4.8" ry="4.4" transform="rotate(10 28.6 27.9)"/><ellipse cx="48.5" cy="29.3" rx="4.2" ry="3.7" transform="rotate(-23 48.5 29.3)"/><ellipse cx="67.7" cy="28.2" rx="4.2" ry="3.7" transform="rotate(24 67.7 28.2)"/><ellipse cx="86.5" cy="29.2" rx="4.5" ry="3.8" transform="rotate(-11 86.5 29.2)"/><ellipse cx="105.8" cy="27.4" rx="4" ry="4.8" transform="rotate(0 105.8 27.4)"/><ellipse cx="122.4" cy="27.9" rx="4.9" ry="4.9" transform="rotate(10 122.4 27.9)"/><ellipse cx="142.3" cy="28.7" rx="4.5" ry="3.8" transform="rotate(-20 142.3 28.7)"/><ellipse cx="161.5" cy="27.7" rx="4" ry="4.1" transform="rotate(27 161.5 27.7)"/><ellipse cx="180.3" cy="29.4" rx="4" ry="4.5" transform="rotate(21 180.3 29.4)"/><ellipse cx="199.6" cy="29.4" rx="4.5" ry="3.9" transform="rotate(-8 199.6 29.4)"/><ellipse cx="217.4" cy="29" rx="4.8" ry="4.5" transform="rotate(-2 217.4 29)"/><ellipse cx="237.8" cy="26.6" rx="4.2" ry="3.8" transform="rotate(17 237.8 26.6)"/><ellipse cx="256.7" cy="26.7" rx="4.2" ry="3.9" transform="rotate(15 256.7 26.7)"/><ellipse cx="276.6" cy="27.5" rx="5.2" ry="3.7" transform="rotate(-21 276.6 27.5)"/><ellipse cx="295.6" cy="26.9" rx="4.3" ry="3.9" transform="rotate(-22 295.6 26.9)"/><ellipse cx="314" cy="26.6" rx="5" ry="4" transform="rotate(-29 314 26.6)"/><ellipse cx="-0.5" cy="43" rx="4.9" ry="4.3" transform="rotate(-26 -0.5 43)"/><ellipse cx="19.7" cy="43.9" rx="4.6" ry="3.8" transform="rotate(16 19.7 43.9)"/><ellipse cx="38" cy="45.3" rx="5" ry="4.8" transform="rotate(-27 38 45.3)"/><ellipse cx="57.1" cy="43.9" rx="4" ry="4.3" transform="rotate(27 57.1 43.9)"/><ellipse cx="75.7" cy="44.6" rx="5.2" ry="3.7" transform="rotate(0 75.7 44.6)"/><ellipse cx="93.7" cy="44.3" rx="4.3" ry="4.5" transform="rotate(-26 93.7 44.3)"/><ellipse cx="114.1" cy="43.5" rx="4.6" ry="4.2" transform="rotate(29 114.1 43.5)"/><ellipse cx="133.3" cy="42.8" rx="5.1" ry="4.5" transform="rotate(12 133.3 42.8)"/><ellipse cx="152.8" cy="44.7" rx="4.5" ry="3.9" transform="rotate(-17 152.8 44.7)"/><ellipse cx="170.5" cy="43.9" rx="4" ry="4.2" transform="rotate(-5 170.5 43.9)"/><ellipse cx="190.5" cy="43.6" rx="5.2" ry="3.7" transform="rotate(-20 190.5 43.6)"/><ellipse cx="210" cy="42.8" rx="4.9" ry="4.7" transform="rotate(-24 210 42.8)"/><ellipse cx="228.2" cy="44.3" rx="4.4" ry="3.8" transform="rotate(3 228.2 44.3)"/><ellipse cx="246.6" cy="44.5" rx="5.1" ry="4.6" transform="rotate(15 246.6 44.5)"/><ellipse cx="267.4" cy="44.3" rx="4.7" ry="3.9" transform="rotate(-8 267.4 44.3)"/><ellipse cx="285.5" cy="43.2" rx="5.1" ry="4.1" transform="rotate(-23 285.5 43.2)"/><ellipse cx="304.8" cy="44.2" rx="5.1" ry="4.9" transform="rotate(18 304.8 44.2)"/><ellipse cx="-8.5" cy="60.3" rx="3.9" ry="4.9" transform="rotate(8 -8.5 60.3)"/><ellipse cx="10.5" cy="59.3" rx="4.9" ry="4.1" transform="rotate(-19 10.5 59.3)"/><ellipse cx="28" cy="58.5" rx="4.7" ry="4.2" transform="rotate(22 28 58.5)"/><ellipse cx="46.4" cy="60.4" rx="4.9" ry="3.9" transform="rotate(-28 46.4 60.4)"/><ellipse cx="66.3" cy="59.5" rx="4.9" ry="4.7" transform="rotate(-7 66.3 59.5)"/><ellipse cx="85.7" cy="58.8" rx="4.1" ry="4.5" transform="rotate(-26 85.7 58.8)"/><ellipse cx="105" cy="59.3" rx="4.6" ry="4.2" transform="rotate(9 105 59.3)"/><ellipse cx="122.8" cy="60.8" rx="4.5" ry="4" transform="rotate(-23 122.8 60.8)"/><ellipse cx="143" cy="60" rx="4" ry="4.2" transform="rotate(10 143 60)"/><ellipse cx="161.8" cy="58.5" rx="4.2" ry="3.8" transform="rotate(-11 161.8 58.5)"/><ellipse cx="179.8" cy="59.5" rx="4.9" ry="3.9" transform="rotate(-29 179.8 59.5)"/><ellipse cx="199.1" cy="60.6" rx="5.1" ry="4.7" transform="rotate(0 199.1 60.6)"/><ellipse cx="217.2" cy="61.1" rx="3.9" ry="4.8" transform="rotate(-27 217.2 61.1)"/><ellipse cx="238.6" cy="60.2" rx="4.9" ry="4.2" transform="rotate(4 238.6 60.2)"/><ellipse cx="255.3" cy="58.6" rx="5" ry="4.5" transform="rotate(-10 255.3 58.6)"/><ellipse cx="276.5" cy="61.3" rx="5.1" ry="4" transform="rotate(-24 276.5 61.3)"/><ellipse cx="294.8" cy="60.1" rx="4.3" ry="4.1" transform="rotate(-6 294.8 60.1)"/><ellipse cx="313" cy="59" rx="4.1" ry="4.3" transform="rotate(0 313 59)"/><ellipse cx="1.2" cy="75.5" rx="5" ry="4.7" transform="rotate(13 1.2 75.5)"/><ellipse cx="18.2" cy="74.9" rx="4.7" ry="4.6" transform="rotate(-18 18.2 74.9)"/><ellipse cx="38.5" cy="75" rx="4.6" ry="4.6" transform="rotate(16 38.5 75)"/><ellipse cx="57.8" cy="75.8" rx="4.7" ry="4.5" transform="rotate(25 57.8 75.8)"/><ellipse cx="76.4" cy="77.1" rx="4.1" ry="3.7" transform="rotate(7 76.4 77.1)"/><ellipse cx="94.8" cy="75.4" rx="4" ry="4.3" transform="rotate(-13 94.8 75.4)"/><ellipse cx="113.4" cy="75.9" rx="5.1" ry="3.8" transform="rotate(-26 113.4 75.9)"/><ellipse cx="134.1" cy="77.1" rx="4.6" ry="4.3" transform="rotate(6 134.1 77.1)"/><ellipse cx="152.2" cy="76.9" rx="4.5" ry="4.7" transform="rotate(23 152.2 76.9)"/><ellipse cx="171.5" cy="75.5" rx="4.1" ry="3.7" transform="rotate(-1 171.5 75.5)"/><ellipse cx="188.8" cy="77.2" rx="4.9" ry="4.3" transform="rotate(-9 188.8 77.2)"/><ellipse cx="208" cy="75.2" rx="4.5" ry="4.3" transform="rotate(-3 208 75.2)"/><ellipse cx="227" cy="75.6" rx="4.5" ry="4.1" transform="rotate(-13 227 75.6)"/><ellipse cx="247.3" cy="76.9" rx="4" ry="3.8" transform="rotate(8 247.3 76.9)"/><ellipse cx="266.5" cy="75.4" rx="4.8" ry="4.8" transform="rotate(13 266.5 75.4)"/><ellipse cx="286.1" cy="75.5" rx="4.1" ry="4.1" transform="rotate(4 286.1 75.5)"/><ellipse cx="305.4" cy="76.6" rx="4.7" ry="4.9" transform="rotate(-6 305.4 76.6)"/><ellipse cx="-10.1" cy="91.6" rx="5" ry="4.5" transform="rotate(17 -10.1 91.6)"/><ellipse cx="10.5" cy="92.7" rx="4.6" ry="4.5" transform="rotate(11 10.5 92.7)"/><ellipse cx="28.3" cy="91.6" rx="4.2" ry="3.9" transform="rotate(-8 28.3 91.6)"/><ellipse cx="48.8" cy="92" rx="4.1" ry="3.8" transform="rotate(-16 48.8 92)"/><ellipse cx="67.5" cy="90.8" rx="5.1" ry="4.8" transform="rotate(16 67.5 90.8)"/><ellipse cx="84.1" cy="91.5" rx="4.1" ry="4.1" transform="rotate(15 84.1 91.5)"/><ellipse cx="103.5" cy="93" rx="5" ry="3.9" transform="rotate(16 103.5 93)"/><ellipse cx="123.3" cy="91.7" rx="4.2" ry="4.2" transform="rotate(10 123.3 91.7)"/><ellipse cx="141.9" cy="92.7" rx="4.6" ry="4.1" transform="rotate(-3 141.9 92.7)"/><ellipse cx="162.4" cy="91.9" rx="4.4" ry="4.9" transform="rotate(20 162.4 91.9)"/><ellipse cx="182" cy="91.9" rx="4.4" ry="4.3" transform="rotate(-13 182 91.9)"/><ellipse cx="200.9" cy="93" rx="4.1" ry="4" transform="rotate(18 200.9 93)"/><ellipse cx="218.9" cy="93.1" rx="4.1" ry="4.7" transform="rotate(3 218.9 93.1)"/><ellipse cx="238.6" cy="91.4" rx="4.3" ry="4.8" transform="rotate(15 238.6 91.4)"/><ellipse cx="255.4" cy="91.8" rx="4.2" ry="4.2" transform="rotate(26 255.4 91.8)"/><ellipse cx="275" cy="90.6" rx="4.6" ry="4" transform="rotate(-26 275 90.6)"/><ellipse cx="296" cy="91.6" rx="5.2" ry="4.7" transform="rotate(-28 296 91.6)"/><ellipse cx="313.9" cy="92.9" rx="4.3" ry="4.7" transform="rotate(-21 313.9 92.9)"/><ellipse cx="0.6" cy="106.9" rx="4.5" ry="3.7" transform="rotate(12 0.6 106.9)"/><ellipse cx="17.7" cy="107.3" rx="4.7" ry="4.6" transform="rotate(20 17.7 107.3)"/><ellipse cx="38.1" cy="106.8" rx="4.3" ry="3.7" transform="rotate(-12 38.1 106.8)"/><ellipse cx="56.8" cy="108.9" rx="4.1" ry="4.8" transform="rotate(-2 56.8 108.9)"/><ellipse cx="76.3" cy="106.5" rx="4.2" ry="3.8" transform="rotate(0 76.3 106.5)"/><ellipse cx="94.8" cy="108.3" rx="4.5" ry="4.5" transform="rotate(-15 94.8 108.3)"/><ellipse cx="112.8" cy="109.4" rx="4.6" ry="4.3" transform="rotate(-25 112.8 109.4)"/><ellipse cx="134.5" cy="108.2" rx="4.6" ry="4.5" transform="rotate(-6 134.5 108.2)"/><ellipse cx="153.4" cy="107.3" rx="5" ry="4.1" transform="rotate(-29 153.4 107.3)"/><ellipse cx="171.7" cy="108.4" rx="4.9" ry="4.1" transform="rotate(16 171.7 108.4)"/><ellipse cx="188.6" cy="108.1" rx="4.2" ry="4.7" transform="rotate(18 188.6 108.1)"/><ellipse cx="208.9" cy="108.6" rx="5" ry="3.7" transform="rotate(7 208.9 108.6)"/><ellipse cx="228.8" cy="107.9" rx="4" ry="3.9" transform="rotate(-12 228.8 107.9)"/><ellipse cx="245.6" cy="109.3" rx="5.3" ry="4.4" transform="rotate(0 245.6 109.3)"/><ellipse cx="265.3" cy="108.8" rx="4.4" ry="4.7" transform="rotate(-18 265.3 108.8)"/><ellipse cx="286.1" cy="107.5" rx="4.4" ry="4.8" transform="rotate(-22 286.1 107.5)"/><ellipse cx="304.7" cy="109.2" rx="5.3" ry="4.3" transform="rotate(-6 304.7 109.2)"/></g><g fill="#c9a6dd" stroke="#55258a" stroke-width="1.6" opacity="0.9"><path d="M11.9,97.3 C11.9,111.6 8.2,117.4 8.2,126 C8.2,145.2 19.7,145.2 19.7,126 C19.7,117.4 19.6,111.6 19.6,97.3 Z"/><path d="M34.7,96.8 C34.7,111.7 31.7,117.6 31.7,126.6 C31.7,146.4 45.7,146.4 45.7,126.6 C45.7,117.6 40.5,111.7 40.5,96.8 Z"/><path d="M59.1,95.6 C59.1,111 55.7,117.2 55.7,126.4 C55.7,147 66.9,147 66.9,126.4 C66.9,117.2 65.7,111 65.7,95.6 Z"/><path d="M82.4,94.1 C82.4,111.2 80.3,118 80.3,128.3 C80.3,151 95.6,151 95.6,128.3 C95.6,118 90.8,111.2 90.8,94.1 Z"/><path d="M107,95.8 C107,112.3 101.2,118.9 101.2,128.7 C101.2,150.7 116.6,150.7 116.6,128.7 C116.6,118.9 114.5,112.3 114.5,95.8 Z"/><path d="M124.6,95.7 C124.6,113.4 123,120.4 123,131.1 C123,154.7 137.6,154.7 137.6,131.1 C137.6,120.4 130.4,113.4 130.4,95.7 Z"/><path d="M150.2,94.2 C150.2,112.8 145.7,120.3 145.7,131.5 C145.7,156.3 161,156.3 161,131.5 C161,120.3 157.7,112.8 157.7,94.2 Z"/><path d="M173.3,96.7 C173.3,114.6 169.4,121.8 169.4,132.5 C169.4,156.4 183.4,156.4 183.4,132.5 C183.4,121.8 180,114.6 180,96.7 Z"/><path d="M195.3,92.5 C195.3,111.6 191.8,119.3 191.8,130.8 C191.8,156.3 205.4,156.3 205.4,130.8 C205.4,119.3 202,111.6 202,92.5 Z"/><path d="M220.7,93.5 C220.7,111.7 213.3,119 213.3,130 C213.3,154.3 228.5,154.3 228.5,130 C228.5,119 227.1,111.7 227.1,93.5 Z"/><path d="M240.5,92.6 C240.5,111.4 238.3,118.9 238.3,130.2 C238.3,155.2 251.4,155.2 251.4,130.2 C251.4,118.9 248.6,111.4 248.6,92.6 Z"/><path d="M261.5,96.1 C261.5,113.8 260.2,120.8 260.2,131.4 C260.2,154.9 271.6,154.9 271.6,131.4 C271.6,120.8 268.1,113.8 268.1,96.1 Z"/><path d="M287.4,97.4 C287.4,114.6 283.2,121.5 283.2,131.8 C283.2,154.6 297.2,154.6 297.2,131.8 C297.2,121.5 295.6,114.6 295.6,97.4 Z"/><path d="M311.5,95.1 C311.5,112 309,118.7 309,128.9 C309,151.4 323.6,151.4 323.6,128.9 C323.6,118.7 317.5,112 317.5,95.1 Z"/></g><rect x="-2" y="-2" width="318" height="229" fill="url(#nD)" opacity="0.6"/><rect x="-2" y="-2" width="318" height="229" filter="url(#mL)" opacity="0.5"/><rect x="-2" y="-2" width="318" height="229" filter="url(#mD)" opacity="0.3"/></g>
<clipPath id="hc9"><path d="M-2,148 C11.7,148.7 53,149.8 80,152 C107,154.2 133.3,160 160,161 C186.7,162 214,158.7 240,158 C266,157.3 303.3,157.2 316,157 L316,207 C306.7,207.8 279.3,210.5 260,212 C240.7,213.5 218.3,215.8 200,216 C181.7,216.2 170,215.7 150,213 C130,210.3 105.3,203.7 80,200 C54.7,196.3 11.7,192.5 -2,191 Z"/></clipPath>
<g clip-path="url(#hc9)"><rect x="-2" y="-2" width="318" height="229" fill="#e676cd"/><rect x="-2" y="-2" width="318" height="229" fill="url(#nS)" opacity="1"/><rect x="-2" y="-2" width="318" height="229" fill="url(#nL)" opacity="0.5"/><path d="M-2,151 C11.7,151.7 53,152.8 80,155 C107,157.2 133.3,163 160,164 C186.7,165 214,161.7 240,161 C266,160.3 303.3,160.2 316,160" fill="none" stroke="#dd52c0" stroke-width="5" opacity="0.9"/><rect x="-2" y="-2" width="318" height="229" filter="url(#mL)" opacity="0.3"/><rect x="-2" y="-2" width="318" height="229" filter="url(#mD)" opacity="0.1"/></g>
</svg>
<rect x="785.1" y="634" width="314" height="224.5" fill="none" stroke="#000" stroke-width="2"/>
<svg x="87.8" y="944.6" width="314" height="224.5" viewBox="0 0 314 224.5" overflow="hidden">
<rect width="314" height="225" fill="#fdf8fc"/>
<clipPath id="hc10"><path d="M-2,-2 C51,-2 263,-2 316,-2 L316,175 C305,173.3 278.5,168 250,165 C221.5,162 173.3,157.8 145,157 C116.7,156.2 104.5,158.5 80,160 C55.5,161.5 11.7,165 -2,166 Z"/></clipPath>
<g clip-path="url(#hc10)"><rect x="-2" y="-2" width="318" height="229" fill="#9c45c2"/><g fill="#b889d6" opacity="0.9"><ellipse cx="-7.6" cy="3.6" rx="6.3" ry="5.6" transform="rotate(18 -7.6 3.6)"/><ellipse cx="6.5" cy="3.4" rx="6.6" ry="5.4" transform="rotate(29 6.5 3.4)"/><ellipse cx="24.1" cy="5" rx="7.1" ry="5.6" transform="rotate(-25 24.1 5)"/><ellipse cx="38.6" cy="4.5" rx="6.9" ry="5.9" transform="rotate(-9 38.6 4.5)"/><ellipse cx="54.7" cy="3" rx="6.1" ry="6.1" transform="rotate(27 54.7 3)"/><ellipse cx="68.4" cy="2.9" rx="5.6" ry="5.1" transform="rotate(-20 68.4 2.9)"/><ellipse cx="85.9" cy="3.5" rx="6.9" ry="6" transform="rotate(26 85.9 3.5)"/><ellipse cx="100" cy="4.4" rx="5.5" ry="5.1" transform="rotate(3 100 4.4)"/><ellipse cx="116.4" cy="4" rx="7" ry="4.8" transform="rotate(-19 116.4 4)"/><ellipse cx="132.2" cy="4.7" rx="6.8" ry="5.5" transform="rotate(6 132.2 4.7)"/><ellipse cx="148.2" cy="2.6" rx="6.5" ry="5.5" transform="rotate(-27 148.2 2.6)"/><ellipse cx="163.2" cy="4.8" rx="6.5" ry="5.4" transform="rotate(-5 163.2 4.8)"/><ellipse cx="178.6" cy="3.4" rx="6.2" ry="5.9" transform="rotate(27 178.6 3.4)"/><ellipse cx="194.3" cy="3.4" rx="5.4" ry="5.3" transform="rotate(-25 194.3 3.4)"/><ellipse cx="209.2" cy="3.1" rx="5.9" ry="5.8" transform="rotate(6 209.2 3.1)"/><ellipse cx="225.5" cy="5.1" rx="5.5" ry="5.2" transform="rotate(28 225.5 5.1)"/><ellipse cx="240.4" cy="3.5" rx="5.8" ry="5" transform="rotate(-2 240.4 3.5)"/><ellipse cx="254.5" cy="3.4" rx="6.4" ry="5" transform="rotate(-6 254.5 3.4)"/><ellipse cx="272.3" cy="3" rx="6.3" ry="5.1" transform="rotate(-10 272.3 3)"/><ellipse cx="287.5" cy="4" rx="6.2" ry="5.1" transform="rotate(0 287.5 4)"/><ellipse cx="300.8" cy="5.3" rx="7.1" ry="4.9" transform="rotate(0 300.8 5.3)"/><ellipse cx="317.3" cy="2.7" rx="6.9" ry="5.6" transform="rotate(0 317.3 2.7)"/><ellipse cx="-0.1" cy="18.1" rx="6.1" ry="6" transform="rotate(20 -0.1 18.1)"/><ellipse cx="16.2" cy="18.8" rx="6" ry="5.5" transform="rotate(-8 16.2 18.8)"/><ellipse cx="30.1" cy="18.2" rx="6.2" ry="5.8" transform="rotate(-25 30.1 18.2)"/><ellipse cx="45.8" cy="19.5" rx="5.5" ry="6.2" transform="rotate(10 45.8 19.5)"/><ellipse cx="61.7" cy="18.9" rx="7" ry="5.8" transform="rotate(-9 61.7 18.9)"/><ellipse cx="76.6" cy="18" rx="5.4" ry="4.8" transform="rotate(0 76.6 18)"/><ellipse cx="92.5" cy="17.9" rx="6.4" ry="5.4" transform="rotate(-2 92.5 17.9)"/><ellipse cx="108" cy="18.3" rx="7.1" ry="5.8" transform="rotate(-20 108 18.3)"/><ellipse cx="123.4" cy="17.5" rx="6.3" ry="5.7" transform="rotate(19 123.4 17.5)"/><ellipse cx="138.9" cy="18.9" rx="6.5" ry="6.2" transform="rotate(-7 138.9 18.9)"/><ellipse cx="155.3" cy="18.9" rx="6.5" ry="4.6" transform="rotate(13 155.3 18.9)"/><ellipse cx="170.4" cy="19.4" rx="6.7" ry="5.5" transform="rotate(16 170.4 19.4)"/><ellipse cx="186.7" cy="18.3" rx="6.4" ry="5.6" transform="rotate(-19 186.7 18.3)"/><ellipse cx="202.5" cy="16.9" rx="5.3" ry="6.1" transform="rotate(10 202.5 16.9)"/><ellipse cx="215.8" cy="16.6" rx="5.6" ry="5.7" transform="rotate(-11 215.8 16.6)"/><ellipse cx="232.2" cy="18.8" rx="6.9" ry="5.8" transform="rotate(25 232.2 18.8)"/><ellipse cx="246.7" cy="16.9" rx="5.9" ry="5.7" transform="rotate(-17 246.7 16.9)"/><ellipse cx="263.6" cy="17.4" rx="7" ry="5.1" transform="rotate(-19 263.6 17.4)"/><ellipse cx="278.6" cy="18.8" rx="6.5" ry="5.7" transform="rotate(13 278.6 18.8)"/><ellipse cx="294.8" cy="17.1" rx="6.3" ry="5" transform="rotate(-15 294.8 17.1)"/><ellipse cx="311.4" cy="17.4" rx="5.7" ry="5.7" transform="rotate(-12 311.4 17.4)"/><ellipse cx="-8.3" cy="31.5" rx="6.7" ry="5" transform="rotate(26 -8.3 31.5)"/><ellipse cx="6.6" cy="32.5" rx="7.1" ry="5.9" transform="rotate(-7 6.6 32.5)"/><ellipse cx="24.6" cy="32.9" rx="5.8" ry="5.7" transform="rotate(-12 24.6 32.9)"/><ellipse cx="38.3" cy="31.8" rx="6.2" ry="4.9" transform="rotate(-14 38.3 31.8)"/><ellipse cx="54.4" cy="33.3" rx="5.5" ry="5.6" transform="rotate(11 54.4 33.3)"/><ellipse cx="70" cy="31.2" rx="6.3" ry="5.6" transform="rotate(10 70 31.2)"/><ellipse cx="83.9" cy="31.7" rx="5.5" ry="5.8" transform="rotate(13 83.9 31.7)"/><ellipse cx="99.3" cy="32.2" rx="6" ry="6.1" transform="rotate(25 99.3 32.2)"/><ellipse cx="117.4" cy="31.9" rx="7.1" ry="5.1" transform="rotate(-18 117.4 31.9)"/><ellipse cx="132.2" cy="33.2" rx="6.3" ry="5.5" transform="rotate(-24 132.2 33.2)"/><ellipse cx="147.9" cy="33.3" rx="5.6" ry="6" transform="rotate(24 147.9 33.3)"/><ellipse cx="161.8" cy="33.3" rx="6" ry="5.4" transform="rotate(29 161.8 33.3)"/><ellipse cx="179.6" cy="33.4" rx="6.9" ry="4.6" transform="rotate(25 179.6 33.4)"/><ellipse cx="194" cy="30.8" rx="5.8" ry="6.2" transform="rotate(28 194 30.8)"/><ellipse cx="209.4" cy="32" rx="6.9" ry="5.3" transform="rotate(26 209.4 32)"/><ellipse cx="223.8" cy="30.8" rx="6.1" ry="5" transform="rotate(-20 223.8 30.8)"/><ellipse cx="239.3" cy="32.7" rx="6.3" ry="5.8" transform="rotate(17 239.3 32.7)"/><ellipse cx="254.8" cy="33.1" rx="6.8" ry="5.4" transform="rotate(23 254.8 33.1)"/><ellipse cx="270" cy="32.5" rx="5.5" ry="5.1" transform="rotate(-18 270 32.5)"/><ellipse cx="286" cy="31.3" rx="6.7" ry="6.1" transform="rotate(-15 286 31.3)"/><ellipse cx="301.7" cy="32.7" rx="6.5" ry="5.7" transform="rotate(-29 301.7 32.7)"/><ellipse cx="316.4" cy="30.9" rx="6" ry="5.4" transform="rotate(-11 316.4 30.9)"/><ellipse cx="1.2" cy="46.6" rx="5.5" ry="6.1" transform="rotate(-11 1.2 46.6)"/><ellipse cx="14.9" cy="46.3" rx="5.5" ry="4.8" transform="rotate(-16 14.9 46.3)"/><ellipse cx="31.7" cy="46.3" rx="6.3" ry="5.4" transform="rotate(-5 31.7 46.3)"/><ellipse cx="46.6" cy="46.5" rx="5.7" ry="5.8" transform="rotate(-16 46.6 46.5)"/><ellipse cx="63.1" cy="44.7" rx="6.6" ry="4.7" transform="rotate(-3 63.1 44.7)"/><ellipse cx="77.7" cy="44.7" rx="6.2" ry="5.5" transform="rotate(2 77.7 44.7)"/><ellipse cx="91.9" cy="45.5" rx="5.5" ry="4.9" transform="rotate(1 91.9 45.5)"/><ellipse cx="108.7" cy="44.8" rx="6.8" ry="5.3" transform="rotate(0 108.7 44.8)"/><ellipse cx="124" cy="45.9" rx="6.1" ry="5.9" transform="rotate(-26 124 45.9)"/><ellipse cx="140.2" cy="45.7" rx="6.7" ry="5.5" transform="rotate(18 140.2 45.7)"/><ellipse cx="153.6" cy="45.5" rx="7.1" ry="6.1" transform="rotate(-26 153.6 45.5)"/><ellipse cx="169.2" cy="47.3" rx="6" ry="5.8" transform="rotate(-28 169.2 47.3)"/><ellipse cx="186.8" cy="47.4" rx="6.1" ry="6.2" transform="rotate(8 186.8 47.4)"/><ellipse cx="201.1" cy="47.1" rx="6" ry="5.7" transform="rotate(24 201.1 47.1)"/><ellipse cx="217.5" cy="46.1" rx="5.9" ry="4.9" transform="rotate(9 217.5 46.1)"/><ellipse cx="232.6" cy="46.1" rx="5.7" ry="4.6" transform="rotate(13 232.6 46.1)"/><ellipse cx="246.6" cy="45.4" rx="6.3" ry="5.5" transform="rotate(10 246.6 45.4)"/><ellipse cx="264.5" cy="45.2" rx="5.8" ry="6.1" transform="rotate(-9 264.5 45.2)"/><ellipse cx="279.7" cy="44.8" rx="6" ry="5.8" transform="rotate(18 279.7 44.8)"/><ellipse cx="295.7" cy="44.5" rx="5.5" ry="4.6" transform="rotate(-17 295.7 44.5)"/><ellipse cx="310.3" cy="46.6" rx="6.6" ry="5.2" transform="rotate(-27 310.3 46.6)"/><ellipse cx="-8.5" cy="59.2" rx="5.4" ry="5.4" transform="rotate(21 -8.5 59.2)"/><ellipse cx="7.1" cy="60.9" rx="5.9" ry="5.6" transform="rotate(13 7.1 60.9)"/><ellipse cx="23.8" cy="59.5" rx="5.5" ry="5.7" transform="rotate(-11 23.8 59.5)"/><ellipse cx="37.9" cy="59.4" rx="7" ry="6" transform="rotate(-26 37.9 59.4)"/><ellipse cx="55.5" cy="60.4" rx="6.2" ry="6.2" transform="rotate(-4 55.5 60.4)"/><ellipse cx="71.1" cy="60.5" rx="5.9" ry="5.3" transform="rotate(17 71.1 60.5)"/><ellipse cx="84.2" cy="59.6" rx="6.2" ry="6" transform="rotate(15 84.2 59.6)"/><ellipse cx="100.2" cy="60.6" rx="7" ry="5.5" transform="rotate(18 100.2 60.6)"/><ellipse cx="117.7" cy="60.2" rx="5.7" ry="4.9" transform="rotate(-21 117.7 60.2)"/><ellipse cx="132.2" cy="61.3" rx="5.4" ry="5.8" transform="rotate(20 132.2 61.3)"/><ellipse cx="146.3" cy="59.3" rx="6.4" ry="6" transform="rotate(10 146.3 59.3)"/><ellipse cx="161.8" cy="60.8" rx="6.3" ry="5.4" transform="rotate(13 161.8 60.8)"/><ellipse cx="179.4" cy="59.5" rx="5.3" ry="6.1" transform="rotate(27 179.4 59.5)"/><ellipse cx="195.1" cy="58.9" rx="6.2" ry="5" transform="rotate(29 195.1 58.9)"/><ellipse cx="209.6" cy="59.1" rx="6.3" ry="5.8" transform="rotate(24 209.6 59.1)"/><ellipse cx="224.4" cy="60.1" rx="5.8" ry="5.4" transform="rotate(-8 224.4 60.1)"/><ellipse cx="240.2" cy="58.8" rx="6.1" ry="6" transform="rotate(28 240.2 58.8)"/><ellipse cx="257" cy="59.6" rx="6.3" ry="4.9" transform="rotate(-5 257 59.6)"/><ellipse cx="270.2" cy="59.3" rx="6.3" ry="5.3" transform="rotate(26 270.2 59.3)"/><ellipse cx="285.7" cy="59.5" rx="6.8" ry="5.4" transform="rotate(-7 285.7 59.5)"/><ellipse cx="302.7" cy="60.6" rx="6.8" ry="6.2" transform="rotate(-14 302.7 60.6)"/><ellipse cx="318.2" cy="60" rx="6.7" ry="4.9" transform="rotate(-19 318.2 60)"/><ellipse cx="0.7" cy="74" rx="6.3" ry="5.6" transform="rotate(25 0.7 74)"/><ellipse cx="14.2" cy="72.6" rx="7" ry="5.7" transform="rotate(20 14.2 72.6)"/><ellipse cx="31.8" cy="73.7" rx="5.7" ry="5.7" transform="rotate(20 31.8 73.7)"/><ellipse cx="45" cy="74" rx="6.4" ry="5.7" transform="rotate(-7 45 74)"/><ellipse cx="62.3" cy="73.9" rx="5.3" ry="5.5" transform="rotate(0 62.3 73.9)"/><ellipse cx="76" cy="74.1" rx="7.1" ry="4.6" transform="rotate(-13 76 74.1)"/><ellipse cx="93.9" cy="74.5" rx="7" ry="4.8" transform="rotate(18 93.9 74.5)"/><ellipse cx="107.3" cy="72.9" rx="6.2" ry="5.9" transform="rotate(-18 107.3 72.9)"/><ellipse cx="123.3" cy="73.7" rx="6" ry="5.5" transform="rotate(-7 123.3 73.7)"/><ellipse cx="141" cy="73.2" rx="6.8" ry="5.6" transform="rotate(11 141 73.2)"/><ellipse cx="156.1" cy="74.8" rx="6" ry="5.5" transform="rotate(-24 156.1 74.8)"/><ellipse cx="169.2" cy="72.5" rx="6.2" ry="5.3" transform="rotate(-19 169.2 72.5)"/><ellipse cx="186.9" cy="74.2" rx="5.4" ry="5.4" transform="rotate(21 186.9 74.2)"/><ellipse cx="200.1" cy="73.1" rx="6.9" ry="5.4" transform="rotate(22 200.1 73.1)"/><ellipse cx="215.6" cy="72.7" rx="6.9" ry="5.5" transform="rotate(25 215.6 72.7)"/><ellipse cx="231.1" cy="75.3" rx="7.1" ry="5.5" transform="rotate(-11 231.1 75.3)"/><ellipse cx="248.8" cy="74.6" rx="5.4" ry="4.9" transform="rotate(-6 248.8 74.6)"/><ellipse cx="262.7" cy="75" rx="6.9" ry="5.1" transform="rotate(-6 262.7 75)"/><ellipse cx="279.8" cy="72.9" rx="6.6" ry="5.4" transform="rotate(29 279.8 72.9)"/><ellipse cx="295.9" cy="72.7" rx="6.8" ry="5.1" transform="rotate(-3 295.9 72.7)"/><ellipse cx="310.8" cy="75.4" rx="6.7" ry="4.6" transform="rotate(-6 310.8 75.4)"/><ellipse cx="-8.4" cy="89.5" rx="5.9" ry="6.1" transform="rotate(0 -8.4 89.5)"/><ellipse cx="7.5" cy="88.5" rx="5.4" ry="5.6" transform="rotate(9 7.5 88.5)"/><ellipse cx="24.1" cy="88.6" rx="5.6" ry="5.7" transform="rotate(-25 24.1 88.6)"/><ellipse cx="39.2" cy="88.7" rx="5.5" ry="4.6" transform="rotate(-10 39.2 88.7)"/><ellipse cx="53.7" cy="87.6" rx="5.5" ry="4.9" transform="rotate(-13 53.7 87.6)"/><ellipse cx="69.6" cy="88.2" rx="5.3" ry="5.2" transform="rotate(-5 69.6 88.2)"/><ellipse cx="84" cy="88.3" rx="6" ry="5.1" transform="rotate(-10 84 88.3)"/><ellipse cx="100.4" cy="86.8" rx="7" ry="6.2" transform="rotate(24 100.4 86.8)"/><ellipse cx="116.5" cy="87" rx="5.5" ry="5.1" transform="rotate(-7 116.5 87)"/><ellipse cx="131.7" cy="86.7" rx="6.1" ry="5.4" transform="rotate(-3 131.7 86.7)"/><ellipse cx="146" cy="87.3" rx="6.4" ry="5.6" transform="rotate(-15 146 87.3)"/><ellipse cx="161.8" cy="86.8" rx="7" ry="5.1" transform="rotate(-11 161.8 86.8)"/><ellipse cx="178.6" cy="88.9" rx="5.9" ry="5.9" transform="rotate(-10 178.6 88.9)"/><ellipse cx="194.8" cy="89.4" rx="5.9" ry="6.1" transform="rotate(-21 194.8 89.4)"/><ellipse cx="208.4" cy="87.4" rx="7.1" ry="5.1" transform="rotate(27 208.4 87.4)"/><ellipse cx="225.3" cy="88" rx="5.7" ry="5.2" transform="rotate(4 225.3 88)"/><ellipse cx="241.2" cy="87.7" rx="6.3" ry="5.5" transform="rotate(-23 241.2 87.7)"/><ellipse cx="255.9" cy="88.5" rx="7" ry="5.3" transform="rotate(3 255.9 88.5)"/><ellipse cx="271.9" cy="87.8" rx="6.6" ry="5.9" transform="rotate(-12 271.9 87.8)"/><ellipse cx="287.6" cy="87.7" rx="6.4" ry="5" transform="rotate(0 287.6 87.7)"/><ellipse cx="302.7" cy="88.6" rx="5.4" ry="6.2" transform="rotate(17 302.7 88.6)"/><ellipse cx="317.7" cy="87.7" rx="7" ry="5.7" transform="rotate(0 317.7 87.7)"/><ellipse cx="0.1" cy="102.9" rx="6.9" ry="5.5" transform="rotate(-8 0.1 102.9)"/><ellipse cx="15.9" cy="100.8" rx="6.5" ry="5.2" transform="rotate(16 15.9 100.8)"/><ellipse cx="31.4" cy="100.6" rx="6.5" ry="5.2" transform="rotate(29 31.4 100.6)"/><ellipse cx="47.3" cy="103.4" rx="5.3" ry="5" transform="rotate(-4 47.3 103.4)"/><ellipse cx="62" cy="102.1" rx="6.3" ry="5.3" transform="rotate(4 62 102.1)"/><ellipse cx="77.2" cy="102.8" rx="6.2" ry="5.1" transform="rotate(5 77.2 102.8)"/><ellipse cx="91.6" cy="100.8" rx="7.1" ry="4.8" transform="rotate(-5 91.6 100.8)"/><ellipse cx="109.8" cy="100.9" rx="6.1" ry="4.9" transform="rotate(-11 109.8 100.9)"/><ellipse cx="123.9" cy="101.9" rx="6.6" ry="5.1" transform="rotate(-3 123.9 101.9)"/><ellipse cx="138.9" cy="102.9" rx="6.8" ry="5.6" transform="rotate(-23 138.9 102.9)"/><ellipse cx="155.5" cy="101" rx="5.7" ry="4.9" transform="rotate(29 155.5 101)"/><ellipse cx="169.5" cy="102.2" rx="5.7" ry="5.2" transform="rotate(27 169.5 102.2)"/><ellipse cx="185.1" cy="102.4" rx="5.3" ry="5.6" transform="rotate(-4 185.1 102.4)"/><ellipse cx="200.6" cy="102.3" rx="6.6" ry="4.9" transform="rotate(-6 200.6 102.3)"/><ellipse cx="217.8" cy="102.9" rx="5.5" ry="6" transform="rotate(-26 217.8 102.9)"/><ellipse cx="231.6" cy="101.5" rx="5.8" ry="6" transform="rotate(-2 231.6 101.5)"/><ellipse cx="248.1" cy="102.4" rx="6.4" ry="5.5" transform="rotate(5 248.1 102.4)"/><ellipse cx="263" cy="103" rx="6.8" ry="5.7" transform="rotate(7 263 103)"/><ellipse cx="278.4" cy="102.3" rx="5.5" ry="4.8" transform="rotate(-24 278.4 102.3)"/><ellipse cx="293.9" cy="101" rx="6.2" ry="5.3" transform="rotate(11 293.9 101)"/><ellipse cx="308.9" cy="101.7" rx="6.5" ry="5.7" transform="rotate(-18 308.9 101.7)"/></g><rect x="-2" y="-2" width="318" height="229" fill="url(#wS)" opacity="0.5"/><rect x="-2" y="-2" width="318" height="229" fill="url(#nM)" opacity="0.5"/><rect x="-2" y="-2" width="318" height="229" filter="url(#mL)" opacity="0.5"/><rect x="-2" y="-2" width="318" height="229" filter="url(#mD)" opacity="0.3"/></g>
<clipPath id="hc11"><path d="M-2,60 C8.3,61 35.5,63.3 60,66 C84.5,68.7 121.7,73.3 145,76 C168.3,78.7 181.8,80 200,82 C218.2,84 237.7,86.8 254,88 C270.3,89.2 289.3,89.3 298,89 C306.7,88.7 304.7,86.5 306,86 L316,175 C305,173.3 278.5,168 250,165 C221.5,162 173.3,157.8 145,157 C116.7,156.2 104.5,158.5 80,160 C55.5,161.5 11.7,165 -2,166 Z"/></clipPath>
<g clip-path="url(#hc11)"><rect x="-2" y="-2" width="318" height="229" fill="#8138ad"/><g fill="#b48ad3" stroke="#55258a" stroke-width="1.6" opacity="0.9"><path d="M9.8,97.7 C9.8,116.7 5,124.3 5,135.7 C5,161 22.3,161 22.3,135.7 C22.3,124.3 17.5,116.7 17.5,97.7 Z"/><path d="M25.6,88.9 C25.6,109.9 22.2,118.3 22.2,130.9 C22.2,158.9 42.6,158.9 42.6,130.9 C42.6,118.3 33.3,109.9 33.3,88.9 Z"/><path d="M50.8,94.4 C50.8,113.5 43.7,121.1 43.7,132.6 C43.7,158 64.3,158 64.3,132.6 C64.3,121.1 59.5,113.5 59.5,94.4 Z"/><path d="M70.4,91.5 C70.4,110.5 64.5,118.1 64.5,129.5 C64.5,154.8 81.5,154.8 81.5,129.5 C81.5,118.1 78.7,110.5 78.7,91.5 Z"/><path d="M88.7,93.7 C88.7,112.3 82.8,119.7 82.8,130.8 C82.8,155.6 101.6,155.6 101.6,130.8 C101.6,119.7 98.6,112.3 98.6,93.7 Z"/><path d="M106.7,94.5 C106.7,113 98.7,120.4 98.7,131.5 C98.7,156.2 119.2,156.2 119.2,131.5 C119.2,120.4 115.2,113 115.2,94.5 Z"/><path d="M124.5,100.8 C124.5,116.9 115.1,123.4 115.1,133.1 C115.1,154.6 135.6,154.6 135.6,133.1 C135.6,123.4 132.1,116.9 132.1,100.8 Z"/><path d="M141.3,98.7 C141.3,115.8 135.6,122.6 135.6,132.9 C135.6,155.6 156,155.6 156,132.9 C156,122.6 149.7,115.8 149.7,98.7 Z"/><path d="M157.8,106.2 C157.8,121.2 155,127.2 155,136.2 C155,156.2 174,156.2 174,136.2 C174,127.2 167.9,121.2 167.9,106.2 Z"/><path d="M176.8,105.7 C176.8,121.1 174.3,127.3 174.3,136.5 C174.3,157 190.9,157 190.9,136.5 C190.9,127.3 184.5,121.1 184.5,105.7 Z"/><path d="M194.1,102.3 C194.1,118.7 191.3,125.3 191.3,135.2 C191.3,157.2 208.6,157.2 208.6,135.2 C208.6,125.3 203.2,118.7 203.2,102.3 Z"/><path d="M216.9,106.1 C216.9,121.8 210.3,128.1 210.3,137.5 C210.3,158.4 229.9,158.4 229.9,137.5 C229.9,128.1 227.6,121.8 227.6,106.1 Z"/><path d="M233.9,113.1 C233.9,127.7 226.4,133.5 226.4,142.3 C226.4,161.8 247.2,161.8 247.2,142.3 C247.2,133.5 244.7,127.7 244.7,113.1 Z"/><path d="M249.8,114.1 C249.8,128.2 243.6,133.9 243.6,142.4 C243.6,161.2 263.7,161.2 263.7,142.4 C263.7,133.9 260,128.2 260,114.1 Z"/><path d="M267.9,112.4 C267.9,128.3 264.6,134.7 264.6,144.3 C264.6,165.5 282.7,165.5 282.7,144.3 C282.7,134.7 276.6,128.3 276.6,112.4 Z"/><path d="M289.4,116.8 C289.4,131.7 282.8,137.7 282.8,146.6 C282.8,166.5 304,166.5 304,146.6 C304,137.7 297.6,131.7 297.6,116.8 Z"/><path d="M303.7,116.5 C303.7,132.5 301.7,139 301.7,148.6 C301.7,170 321.6,170 321.6,148.6 C321.6,139 313.7,132.5 313.7,116.5 Z"/></g><rect x="-2" y="-2" width="318" height="229" fill="url(#wS)" opacity="0.5"/><rect x="-2" y="-2" width="318" height="229" fill="url(#nD)" opacity="0.5"/><path d="M-2,63 C8.3,64 35.5,66.3 60,69 C84.5,71.7 121.7,76.3 145,79 C168.3,81.7 181.8,83 200,85 C218.2,87 237.7,89.8 254,91 C270.3,92.2 289.3,92.3 298,92 C306.7,91.7 304.7,89.5 306,89" fill="none" stroke="#c452c6" stroke-width="6" opacity="0.8"/><rect x="-2" y="-2" width="318" height="229" filter="url(#mL)" opacity="0.5"/><rect x="-2" y="-2" width="318" height="229" filter="url(#mD)" opacity="0.3"/></g>
<path d="M-2,48.7 C11.7,49.8 55.5,52.5 80,55 C104.5,57.5 125,61.2 145,63.4 C165,65.6 181.8,66.5 200,68 C218.2,69.5 237.7,70.3 254,72.6 C270.3,74.9 289.3,79.5 298,81.7 C306.7,83.9 304.7,85.3 306,86 L306,86 C304.7,86.5 306.7,88.7 298,89 C289.3,89.3 270.3,89.2 254,88 C237.7,86.8 218.2,84 200,82 C181.8,80 168.3,78.7 145,76 C121.7,73.3 84.5,68.7 60,66 C35.5,63.3 8.3,61 -2,60 Z" fill="#fdf8fc"/>
<path d="M-2,46.7 C11.7,47.8 55.5,50.5 80,53 C104.5,55.5 125,59.2 145,61.4 C165,63.6 181.8,64.5 200,66 C218.2,67.5 237.7,68.3 254,70.6 C270.3,72.9 290.7,78.2 298,79.7" fill="none" stroke="#c452c6" stroke-width="4" opacity="0.8"/>
<clipPath id="hc12"><path d="M-2,166 C11.7,165 55.5,161.5 80,160 C104.5,158.5 116.7,156.2 145,157 C173.3,157.8 221.5,162 250,165 C278.5,168 305,173.3 316,175 L316,212 C287.5,211.2 198,208.5 145,207 C92,205.5 22.5,203.7 -2,203 Z"/></clipPath>
<g clip-path="url(#hc12)"><rect x="-2" y="-2" width="318" height="229" fill="#ec92d8"/><rect x="-2" y="-2" width="318" height="229" fill="url(#nS)" opacity="0.9"/><rect x="-2" y="-2" width="318" height="229" fill="url(#nL)" opacity="0.5"/><path d="M-2,169 C11.7,168 55.5,164.5 80,163 C104.5,161.5 116.7,159.2 145,160 C173.3,160.8 221.5,165 250,168 C278.5,171 305,176.3 316,178" fill="none" stroke="#e064c8" stroke-width="4" opacity="0.9"/><rect x="-2" y="-2" width="318" height="229" filter="url(#mL)" opacity="0.3"/><rect x="-2" y="-2" width="318" height="229" filter="url(#mD)" opacity="0.1"/></g>
<clipPath id="hc13"><path d="M-2,203 C22.5,203.7 92,205.5 145,207 C198,208.5 287.5,211.2 316,212 L316,222 C287.5,221.5 198,220 145,219 C92,218 22.5,216.5 -2,216 Z"/></clipPath>
<g clip-path="url(#hc13)"><rect x="-2" y="-2" width="318" height="229" fill="#db5cc2"/><rect x="-2" y="-2" width="318" height="229" fill="url(#nS)" opacity="0.8"/><rect x="-2" y="-2" width="318" height="229" filter="url(#mL)" opacity="0.3"/><rect x="-2" y="-2" width="318" height="229" filter="url(#mD)" opacity="0.1"/></g>
</svg>
<rect x="87.8" y="944.6" width="314" height="224.5" fill="none" stroke="#000" stroke-width="2"/>
<svg x="435.5" y="944.6" width="314" height="224.5" viewBox="0 0 314 224.5" overflow="hidden">
<rect width="314" height="225" fill="#fdf8fc"/>
<path d="M20,8 C80,5 150,12 200,10 S280,4 300,8" fill="none" stroke="#d6b6e2" stroke-width="1"/>
<path d="M150,15 C180,12 220,18 260,14" fill="none" stroke="#dcc0e8" stroke-width="1"/>
<clipPath id="hc14"><path d="M-2,24.8 C11.7,24.3 53,22.3 80,22 C107,21.7 133.3,22 160,23 C186.7,24 216.7,26.2 240,28 C263.3,29.8 287.3,33 300,34 C312.7,35 313.3,34 316,34 L316,98 C290,96.7 213,90.6 160,90 C107,89.4 25,93.8 -2,94.6 Z"/></clipPath>
<g clip-path="url(#hc14)"><rect x="-2" y="-2" width="318" height="229" fill="#d390d8"/><rect x="-2" y="-2" width="318" height="229" fill="url(#nD)" opacity="1"/><rect x="-2" y="-2" width="318" height="229" fill="url(#nD)" opacity="0.5"/><rect x="-2" y="-2" width="318" height="229" filter="url(#mL)" opacity="0.3"/><rect x="-2" y="-2" width="318" height="229" filter="url(#mD)" opacity="0.2"/></g>
<clipPath id="hc15"><path d="M-2,94.6 C25,93.8 107,89.4 160,90 C213,90.6 290,96.7 316,98 L316,115 C290,113.5 213,106 160,106 C107,106 25,113.3 -2,114.8 Z"/></clipPath>
<g clip-path="url(#hc15)"><rect x="-2" y="-2" width="318" height="229" fill="#d650b8"/><rect x="-2" y="-2" width="318" height="229" fill="url(#nS)" opacity="0.8"/><rect x="-2" y="-2" width="318" height="229" filter="url(#mL)" opacity="0.2"/><rect x="-2" y="-2" width="318" height="229" filter="url(#mD)" opacity="0.1"/></g>
<clipPath id="hc16"><path d="M-2,114.8 C25,113.3 107,106 160,106 C213,106 290,113.5 316,115 L316,155 C290,153.8 213,147.7 160,148 C107,148.3 25,155.5 -2,157 Z"/></clipPath>
<g clip-path="url(#hc16)"><rect x="-2" y="-2" width="318" height="229" fill="#f7e8f5"/><rect x="-2" y="-2" width="318" height="229" fill="url(#nM)" opacity="0.9"/><rect x="-2" y="-2" width="318" height="229" fill="url(#nS)" opacity="0.6"/><rect x="-2" y="-2" width="318" height="229" filter="url(#mL)" opacity="0.2"/><rect x="-2" y="-2" width="318" height="229" filter="url(#mD)" opacity="0.1"/></g>
<clipPath id="hc17"><path d="M-2,157 C25,155.5 107,148.3 160,148 C213,147.7 290,153.8 316,155 L316,203 C290,201.5 196,196.2 160,194 C124,191.8 127,189.4 100,190 C73,190.6 15,196.2 -2,197.5 Z"/></clipPath>
<g clip-path="url(#hc17)"><rect x="-2" y="-2" width="318" height="229" fill="#e466c8"/><rect x="-2" y="-2" width="318" height="229" fill="url(#nS)" opacity="1"/><rect x="-2" y="-2" width="318" height="229" fill="url(#nL)" opacity="0.7"/><rect x="-2" y="-2" width="318" height="229" filter="url(#mL)" opacity="0.3"/><rect x="-2" y="-2" width="318" height="229" filter="url(#mD)" opacity="0.1"/></g>
<clipPath id="hc18"><path d="M-2,197.5 C15,196.2 73,190.6 100,190 C127,189.4 124,191.8 160,194 C196,196.2 290,201.5 316,203 L316,210 C296.7,208.2 236,201.2 200,199 C164,196.8 133.7,194.5 100,197 C66.3,199.5 15,211.2 -2,214 Z"/></clipPath>
<g clip-path="url(#hc18)"><rect x="-2" y="-2" width="318" height="229" fill="#d95cc0"/><rect x="-2" y="-2" width="318" height="229" fill="url(#nS)" opacity="0.8"/><rect x="-2" y="-2" width="318" height="229" filter="url(#mL)" opacity="0.3"/><rect x="-2" y="-2" width="318" height="229" filter="url(#mD)" opacity="0.1"/></g>
<clipPath id="hc19"><path d="M292,-2 C296,-2 312,-2 316,-2 L316,38 C313.3,36.7 304,36 300,30 C296,24 293.3,6.7 292,2 Z"/></clipPath>
<g clip-path="url(#hc19)"><rect x="-2" y="-2" width="318" height="229" fill="#8a4fb0"/><rect x="-2" y="-2" width="318" height="229" fill="url(#nD)" opacity="1"/><rect x="-2" y="-2" width="318" height="229" fill="url(#nD)" opacity="1"/><rect x="-2" y="-2" width="318" height="229" filter="url(#mL)" opacity="0.5"/><rect x="-2" y="-2" width="318" height="229" filter="url(#mD)" opacity="0.3"/></g>
</svg>
<rect x="435.5" y="944.6" width="314" height="224.5" fill="none" stroke="#000" stroke-width="2"/>
<svg x="785.1" y="944.6" width="314" height="224.5" viewBox="0 0 314 224.5" overflow="hidden">
<rect width="314" height="225" fill="#fdf8fc"/>
<clipPath id="hc20"><path d="M-2,-2 C5.7,-2 36,-4.7 44,-2 C52,0.7 40,10.7 46,14 C52,17.3 70.2,16.5 80,18 C89.8,19.5 97.8,19.2 105,23 C112.2,26.8 117.2,39.5 123,41 C128.8,42.5 135.8,28.8 140,32 C144.2,35.2 146.2,51.4 148,60 C149.8,68.6 149,80.6 151,83.6 C153,86.6 153.8,82.3 160,78 C166.2,73.7 179.7,59.7 188,58 C196.3,56.3 202.3,64.7 210,68 C217.7,71.3 228.5,76.7 234,78 C239.5,79.3 237,77.5 243,76 C249,74.5 257.8,70.8 270,69 C282.2,67.2 308.3,65.7 316,65 L316,140 C290,140.2 213,140.7 160,141 C107,141.3 25,141.8 -2,142 Z"/></clipPath>
<g clip-path="url(#hc20)"><rect x="-2" y="-2" width="318" height="229" fill="#e7bfe6"/><rect x="-2" y="-2" width="318" height="229" fill="url(#nM)" opacity="1"/><rect x="-2" y="-2" width="318" height="229" fill="url(#nS)" opacity="0.8"/><path d="M46,14 C51.7,14.7 70.2,16.5 80,18 C89.8,19.5 97.8,19.2 105,23 C112.2,26.8 117.2,39.5 123,41 C128.8,42.5 135.8,28.8 140,32 C144.2,35.2 146.2,51.4 148,60 C149.8,68.6 149,80.6 151,83.6 C153,86.6 153.8,82.3 160,78 C166.2,73.7 179.7,59.7 188,58 C196.3,56.3 202.3,64.7 210,68 C217.7,71.3 228.5,76.7 234,78 C239.5,79.3 237,77.5 243,76 C249,74.5 257.8,70.8 270,69 C282.2,67.2 308.3,65.7 316,65" fill="none" stroke="#c68ad3" stroke-width="4" opacity="0.9"/><rect x="-2" y="-2" width="318" height="229" filter="url(#mL)" opacity="0.3"/><rect x="-2" y="-2" width="318" height="229" filter="url(#mD)" opacity="0.1"/></g>
<path d="M60,2 C70,0 85,0 96,3 C95,9 80,12 62,10 Z" fill="#c98ad5"/>
<path d="M100,45 C115,48 125,60 135,80 C120,75 110,60 100,45 Z" fill="#c68ad3" opacity="0.8"/>
<clipPath id="hc21"><path d="M-2,142 C25,141.8 107,141.3 160,141 C213,140.7 290,140.2 316,140 L316,152 C290,152.2 213,152.5 160,153 C107,153.5 25,154.7 -2,155 Z"/></clipPath>
<g clip-path="url(#hc21)"><rect x="-2" y="-2" width="318" height="229" fill="#e39ad8"/><rect x="-2" y="-2" width="318" height="229" fill="url(#nS)" opacity="0.9"/><rect x="-2" y="-2" width="318" height="229" filter="url(#mL)" opacity="0.5"/><rect x="-2" y="-2" width="318" height="229" filter="url(#mD)" opacity="0.3"/></g>
<clipPath id="hc22"><path d="M-2,155 C25,154.7 107,153.5 160,153 C213,152.5 290,152.2 316,152 L316,160 C290,160 213,159.8 160,160 C107,160.2 25,160.8 -2,161 Z"/></clipPath>
<g clip-path="url(#hc22)"><rect x="-2" y="-2" width="318" height="229" fill="#f3dff0"/><rect x="-2" y="-2" width="318" height="229" fill="url(#nS)" opacity="0.6"/><rect x="-2" y="-2" width="318" height="229" filter="url(#mL)" opacity="0.5"/><rect x="-2" y="-2" width="318" height="229" filter="url(#mD)" opacity="0.3"/></g>
<clipPath id="hc23"><path d="M-2,161 C25,160.8 107,160.2 160,160 C213,159.8 290,160 316,160 L316,210 C290,209.2 213,206.2 160,205 C107,203.8 25,203.3 -2,203 Z"/></clipPath>
<g clip-path="url(#hc23)"><rect x="-2" y="-2" width="318" height="229" fill="#ebb3e3"/><rect x="-2" y="-2" width="318" height="229" fill="url(#nS)" opacity="0.9"/><rect x="-2" y="-2" width="318" height="229" fill="url(#nL)" opacity="0.4"/><rect x="-2" y="-2" width="318" height="229" filter="url(#mL)" opacity="0.3"/><rect x="-2" y="-2" width="318" height="229" filter="url(#mD)" opacity="0.1"/></g>
<path d="M280,160 C285,175 288,190 300,205 L316,210 L316,160 Z" fill="#f7ecf5"/>
<clipPath id="hc24"><path d="M-2,203 C25,203.3 107,203.8 160,205 C213,206.2 290,209.2 316,210 L316,225 C290,224.5 213,223 160,222 C107,221 25,219.5 -2,219 Z"/></clipPath>
<g clip-path="url(#hc24)"><rect x="-2" y="-2" width="318" height="229" fill="#eec5e8"/><rect x="-2" y="-2" width="318" height="229" fill="url(#nS)" opacity="0.7"/><rect x="-2" y="-2" width="318" height="229" filter="url(#mL)" opacity="0.3"/><rect x="-2" y="-2" width="318" height="229" filter="url(#mD)" opacity="0.1"/></g>
</svg>
<rect x="785.1" y="944.6" width="314" height="224.5" fill="none" stroke="#000" stroke-width="2"/>
<line x1="343.8" y1="844.5" x2="392.2" y2="844.5" stroke="#000" stroke-width="3"/>
<line x1="685.5" y1="844.5" x2="734" y2="844.5" stroke="#000" stroke-width="3"/>
<line x1="1031.6" y1="844.5" x2="1079.7" y2="844.5" stroke="#000" stroke-width="3"/>
<line x1="338.8" y1="1153.1" x2="387.2" y2="1153.1" stroke="#000" stroke-width="3"/>
<line x1="680.2" y1="1153.1" x2="729" y2="1153.1" stroke="#000" stroke-width="3"/>
<line x1="1027.1" y1="1153.1" x2="1074.8" y2="1153.1" stroke="#000" stroke-width="3"/>
<text x="1134" y="593.8" font-size="51.5" font-weight="bold" text-anchor="start" fill="#000">e</text>
<line x1="1255.2" y1="713.5" x2="1255.2" y2="1085" stroke="#000" stroke-width="2"/>
<line x1="1254.2" y1="1084" x2="1606" y2="1084" stroke="#000" stroke-width="2"/>
<line x1="1243.2" y1="715.7" x2="1255.2" y2="715.7" stroke="#000" stroke-width="2"/>
<text x="1231.7" y="730.6" font-size="32" font-weight="bold" text-anchor="end" fill="#000">6</text>
<line x1="1243.2" y1="838.5" x2="1255.2" y2="838.5" stroke="#000" stroke-width="2"/>
<text x="1231.7" y="853.4" font-size="32" font-weight="bold" text-anchor="end" fill="#000">4</text>
<line x1="1243.2" y1="961.3" x2="1255.2" y2="961.3" stroke="#000" stroke-width="2"/>
<text x="1231.7" y="976.2" font-size="32" font-weight="bold" text-anchor="end" fill="#000">2</text>
<line x1="1243.2" y1="1084" x2="1255.2" y2="1084" stroke="#000" stroke-width="2"/>
<text x="1231.7" y="1098.9" font-size="32" font-weight="bold" text-anchor="end" fill="#000">0</text>
<line x1="1292.2" y1="1084" x2="1292.2" y2="1096" stroke="#000" stroke-width="2"/>
<line x1="1347.3" y1="1084" x2="1347.3" y2="1096" stroke="#000" stroke-width="2"/>
<line x1="1402.4" y1="1084" x2="1402.4" y2="1096" stroke="#000" stroke-width="2"/>
<line x1="1457.6" y1="1084" x2="1457.6" y2="1096" stroke="#000" stroke-width="2"/>
<line x1="1512.9" y1="1084" x2="1512.9" y2="1096" stroke="#000" stroke-width="2"/>
<line x1="1568.1" y1="1084" x2="1568.1" y2="1096" stroke="#000" stroke-width="2"/>
<text x="1196" y="900.5" font-size="34" font-weight="bold" text-anchor="middle" fill="#000" transform="rotate(-90 1196 900.5)">Histology score</text>
<circle cx="1287.2" cy="1019.3" r="10.7" fill="#d4d4d4" stroke="#000000" stroke-width="2"/>
<circle cx="1293.4" cy="1021.4" r="10.7" fill="#d4d4d4" stroke="#000000" stroke-width="2"/>
<circle cx="1300.6" cy="1032.7" r="10.7" fill="#d4d4d4" stroke="#000000" stroke-width="2"/>
<circle cx="1296.5" cy="1038.9" r="10.7" fill="#d4d4d4" stroke="#000000" stroke-width="2"/>
<circle cx="1290" cy="1030" r="10.7" fill="#d4d4d4" stroke="#000000" stroke-width="2"/>
<circle cx="1284.1" cy="1036.9" r="10.7" fill="#d4d4d4" stroke="#000000" stroke-width="2"/>
<circle cx="1347.1" cy="813.7" r="10.7" fill="#ff0000" stroke="#000000" stroke-width="2"/>
<circle cx="1347.1" cy="850.4" r="10.7" fill="#ff0000" stroke="#000000" stroke-width="2"/>
<circle cx="1339.9" cy="873.6" r="10.7" fill="#ff0000" stroke="#000000" stroke-width="2"/>
<circle cx="1347.1" cy="876.7" r="10.7" fill="#ff0000" stroke="#000000" stroke-width="2"/>
<circle cx="1355" cy="888.5" r="10.7" fill="#ff0000" stroke="#000000" stroke-width="2"/>
<circle cx="1339.9" cy="903.6" r="10.7" fill="#ff0000" stroke="#000000" stroke-width="2"/>
<circle cx="1402.3" cy="872.6" r="10.7" fill="#c2c200" stroke="#000000" stroke-width="2"/>
<circle cx="1398.4" cy="910.8" r="10.7" fill="#c2c200" stroke="#000000" stroke-width="2"/>
<circle cx="1406" cy="911.8" r="10.7" fill="#c2c200" stroke="#000000" stroke-width="2"/>
<circle cx="1402.3" cy="935.6" r="10.7" fill="#c2c200" stroke="#000000" stroke-width="2"/>
<circle cx="1409.1" cy="936.6" r="10.7" fill="#c2c200" stroke="#000000" stroke-width="2"/>
<circle cx="1394.7" cy="945.5" r="10.7" fill="#c2c200" stroke="#000000" stroke-width="2"/>
<circle cx="1452.9" cy="993" r="10.7" fill="none" stroke="#000000" stroke-width="2"/>
<circle cx="1450.5" cy="1013.1" r="10.7" fill="none" stroke="#000000" stroke-width="2"/>
<circle cx="1456.7" cy="1010" r="10.7" fill="none" stroke="#000000" stroke-width="2"/>
<circle cx="1461.8" cy="1012.1" r="10.7" fill="none" stroke="#000000" stroke-width="2"/>
<circle cx="1466" cy="1010" r="10.7" fill="none" stroke="#000000" stroke-width="2"/>
<circle cx="1458.7" cy="1014.1" r="10.7" fill="none" stroke="#000000" stroke-width="2"/>
<circle cx="1512.9" cy="823" r="10.7" fill="none" stroke="#ff0000" stroke-width="2"/>
<circle cx="1512.9" cy="862.2" r="10.7" fill="none" stroke="#ff0000" stroke-width="2"/>
<circle cx="1512.9" cy="875.7" r="10.7" fill="none" stroke="#ff0000" stroke-width="2"/>
<circle cx="1505.2" cy="883.9" r="10.7" fill="none" stroke="#ff0000" stroke-width="2"/>
<circle cx="1520.3" cy="883.9" r="10.7" fill="none" stroke="#ff0000" stroke-width="2"/>
<circle cx="1512.9" cy="907.7" r="10.7" fill="none" stroke="#ff0000" stroke-width="2"/>
<circle cx="1568.2" cy="783.7" r="10.7" fill="none" stroke="#c2c200" stroke-width="2"/>
<circle cx="1566.2" cy="903.6" r="10.7" fill="none" stroke="#c2c200" stroke-width="2"/>
<circle cx="1573.4" cy="905.6" r="10.7" fill="none" stroke="#c2c200" stroke-width="2"/>
<circle cx="1576.5" cy="907.7" r="10.7" fill="none" stroke="#c2c200" stroke-width="2"/>
<circle cx="1564.1" cy="906.7" r="10.7" fill="none" stroke="#c2c200" stroke-width="2"/>
<circle cx="1560" cy="924.2" r="10.7" fill="none" stroke="#c2c200" stroke-width="2"/>
<line x1="1292.2" y1="1022.4" x2="1292.2" y2="1039.5" stroke="#000000" stroke-width="2"/>
<line x1="1282.2" y1="1022.4" x2="1302.2" y2="1022.4" stroke="#000000" stroke-width="2"/>
<line x1="1282.2" y1="1039.5" x2="1302.2" y2="1039.5" stroke="#000000" stroke-width="2"/>
<line x1="1272.2" y1="1030.6" x2="1312.2" y2="1030.6" stroke="#000000" stroke-width="2"/>
<line x1="1347.3" y1="836.4" x2="1347.3" y2="899.8" stroke="#000000" stroke-width="2"/>
<line x1="1337.3" y1="836.4" x2="1357.3" y2="836.4" stroke="#000000" stroke-width="2"/>
<line x1="1337.3" y1="899.8" x2="1357.3" y2="899.8" stroke="#000000" stroke-width="2"/>
<line x1="1327.3" y1="867.8" x2="1367.3" y2="867.8" stroke="#000000" stroke-width="2"/>
<line x1="1402.4" y1="892.6" x2="1402.4" y2="945.9" stroke="#000000" stroke-width="2"/>
<line x1="1392.4" y1="892.6" x2="1412.4" y2="892.6" stroke="#000000" stroke-width="2"/>
<line x1="1392.4" y1="945.9" x2="1412.4" y2="945.9" stroke="#000000" stroke-width="2"/>
<line x1="1382.4" y1="918.6" x2="1422.4" y2="918.6" stroke="#000000" stroke-width="2"/>
<line x1="1457.6" y1="1005" x2="1457.6" y2="1015" stroke="#000000" stroke-width="2"/>
<line x1="1447.6" y1="1005" x2="1467.6" y2="1005" stroke="#000000" stroke-width="2"/>
<line x1="1447.6" y1="1015" x2="1467.6" y2="1015" stroke="#000000" stroke-width="2"/>
<line x1="1437.6" y1="1010" x2="1477.6" y2="1010" stroke="#000000" stroke-width="2"/>
<line x1="1512.9" y1="844.7" x2="1512.9" y2="901.5" stroke="#000000" stroke-width="2"/>
<line x1="1502.9" y1="844.7" x2="1522.9" y2="844.7" stroke="#000000" stroke-width="2"/>
<line x1="1502.9" y1="901.5" x2="1522.9" y2="901.5" stroke="#000000" stroke-width="2"/>
<line x1="1492.9" y1="872.6" x2="1532.9" y2="872.6" stroke="#000000" stroke-width="2"/>
<line x1="1568.1" y1="836.4" x2="1568.1" y2="940.1" stroke="#c2c200" stroke-width="2"/>
<line x1="1558.1" y1="836.4" x2="1578.1" y2="836.4" stroke="#c2c200" stroke-width="2"/>
<line x1="1558.1" y1="940.1" x2="1578.1" y2="940.1" stroke="#c2c200" stroke-width="2"/>
<line x1="1548.1" y1="888.5" x2="1588.1" y2="888.5" stroke="#000000" stroke-width="2"/>
<polyline points="1344.4,783.7 1344.4,767.2 1400.9,767.2 1400.9,783.7" stroke="#000" stroke-width="2" fill="none"/>
<polyline points="1513.1,759.5 1513.1,742 1569.3,742 1569.3,759.5" stroke="#000" stroke-width="2" fill="none"/>
<text x="1321.3" y="749.6" font-size="29" font-weight="bold" text-anchor="start"><tspan font-style="italic">P</tspan> = 0.0358</text>
<text x="1492.6" y="713.2" font-size="29" font-weight="bold" text-anchor="start"><tspan font-style="italic">P</tspan> = 0.8672</text>
<ellipse cx="1694.5" cy="749.5" rx="16.4" ry="14.6" fill="#d4d4d4" stroke="#000" stroke-width="2"/>
<text x="1750" y="763.2" font-size="33.5" font-weight="bold" text-anchor="start" fill="#000">Con</text>
<ellipse cx="1694.5" cy="805.6" rx="16.4" ry="14.6" fill="#ff0000" stroke="#000" stroke-width="2"/>
<text x="1747" y="819.3" font-size="33.5" font-weight="bold" text-anchor="start" fill="#000">TNBS</text>
<ellipse cx="1694.5" cy="857.4" rx="16.4" ry="14.6" fill="#c2c200" stroke="#000" stroke-width="2"/>
<text x="1755" y="871.1" font-size="33.5" font-weight="bold" text-anchor="start" fill="#000">LPH+TNBS</text>
<ellipse cx="1694.5" cy="957.7" rx="16.4" ry="14.6" fill="none" stroke="#000" stroke-width="2"/>
<text x="1750" y="971.4" font-size="33.5" font-weight="bold" text-anchor="start" fill="#000">Con</text>
<ellipse cx="1694.5" cy="1011.1" rx="16.4" ry="14.6" fill="none" stroke="#ff0000" stroke-width="2"/>
<text x="1747" y="1024.8" font-size="33.5" font-weight="bold" text-anchor="start" fill="#000">TNBS</text>
<ellipse cx="1694.5" cy="1064.5" rx="16.4" ry="14.6" fill="none" stroke="#c2c200" stroke-width="2"/>
<text x="1755" y="1078.2" font-size="33.5" font-weight="bold" text-anchor="start" fill="#000">LPH+TNBS</text>
<polyline points="1943,737.8 1962,737.8 1962,865.4 1943,865.4" stroke="#000" stroke-width="2" fill="none"/>
<polyline points="1943,943.3 1962,943.3 1962,1071.5 1943,1071.5" stroke="#000" stroke-width="2" fill="none"/>
<text x="2014" y="801" font-size="34" font-weight="bold" text-anchor="middle" fill="#000" transform="rotate(-90 2014 801)">WT</text>
<text x="2014" y="997" font-size="34" font-weight="bold" text-anchor="middle" transform="rotate(-90 2014 997)"><tspan font-style="italic">Nod2</tspan><tspan dy="-9">-/-</tspan></text>
<text x="2" y="1265.9" font-size="51.5" font-weight="bold" text-anchor="start" fill="#000">f</text>
<line x1="132" y1="1304" x2="132" y2="1690.5" stroke="#000" stroke-width="2"/>
<line x1="131" y1="1689.5" x2="498.5" y2="1689.5" stroke="#000" stroke-width="2"/>
<line x1="120" y1="1306.5" x2="132" y2="1306.5" stroke="#000" stroke-width="2"/>
<text x="108.5" y="1321.4" font-size="32" font-weight="bold" text-anchor="end" fill="#000">40</text>
<line x1="120" y1="1403.2" x2="132" y2="1403.2" stroke="#000" stroke-width="2"/>
<text x="108.5" y="1418.1" font-size="32" font-weight="bold" text-anchor="end" fill="#000">30</text>
<line x1="120" y1="1498.8" x2="132" y2="1498.8" stroke="#000" stroke-width="2"/>
<text x="108.5" y="1513.7" font-size="32" font-weight="bold" text-anchor="end" fill="#000">20</text>
<line x1="120" y1="1594.7" x2="132" y2="1594.7" stroke="#000" stroke-width="2"/>
<text x="108.5" y="1609.6" font-size="32" font-weight="bold" text-anchor="end" fill="#000">10</text>
<line x1="120" y1="1689.5" x2="132" y2="1689.5" stroke="#000" stroke-width="2"/>
<text x="108.5" y="1704.4" font-size="32" font-weight="bold" text-anchor="end" fill="#000">0</text>
<line x1="170.8" y1="1689.5" x2="170.8" y2="1701.5" stroke="#000" stroke-width="2"/>
<line x1="228.3" y1="1689.5" x2="228.3" y2="1701.5" stroke="#000" stroke-width="2"/>
<line x1="285.8" y1="1689.5" x2="285.8" y2="1701.5" stroke="#000" stroke-width="2"/>
<line x1="342.7" y1="1689.5" x2="342.7" y2="1701.5" stroke="#000" stroke-width="2"/>
<line x1="400.3" y1="1689.5" x2="400.3" y2="1701.5" stroke="#000" stroke-width="2"/>
<line x1="457.8" y1="1689.5" x2="457.8" y2="1701.5" stroke="#000" stroke-width="2"/>
<text x="55.5" y="1509.5" font-size="34" font-weight="bold" text-anchor="middle" fill="#000" transform="rotate(-90 55.5 1509.5)">TNF-α (pg/mg tissue)</text>
<circle cx="169.6" cy="1656.2" r="11.3" fill="#d4d4d4" stroke="#000000" stroke-width="2"/>
<circle cx="174.6" cy="1668" r="11.3" fill="#d4d4d4" stroke="#000000" stroke-width="2"/>
<circle cx="163.2" cy="1678.6" r="11.3" fill="#d4d4d4" stroke="#000000" stroke-width="2"/>
<circle cx="178.2" cy="1679.7" r="11.3" fill="#d4d4d4" stroke="#000000" stroke-width="2"/>
<circle cx="172" cy="1660" r="11.3" fill="#d4d4d4" stroke="#000000" stroke-width="2"/>
<circle cx="166" cy="1670" r="11.3" fill="#d4d4d4" stroke="#000000" stroke-width="2"/>
<circle cx="228.4" cy="1359.4" r="11.3" fill="#ff0000" stroke="#000000" stroke-width="2"/>
<circle cx="220.2" cy="1447.6" r="11.3" fill="#ff0000" stroke="#000000" stroke-width="2"/>
<circle cx="235.8" cy="1451.6" r="11.3" fill="#ff0000" stroke="#000000" stroke-width="2"/>
<circle cx="228.4" cy="1502.5" r="11.3" fill="#ff0000" stroke="#000000" stroke-width="2"/>
<circle cx="220.2" cy="1542" r="11.3" fill="#ff0000" stroke="#000000" stroke-width="2"/>
<circle cx="235.8" cy="1539.4" r="11.3" fill="#ff0000" stroke="#000000" stroke-width="2"/>
<circle cx="286" cy="1529.6" r="11.3" fill="#c2c200" stroke="#000000" stroke-width="2"/>
<circle cx="278.1" cy="1558" r="11.3" fill="#c2c200" stroke="#000000" stroke-width="2"/>
<circle cx="293.5" cy="1571.9" r="11.3" fill="#c2c200" stroke="#000000" stroke-width="2"/>
<circle cx="278.1" cy="1586.8" r="11.3" fill="#c2c200" stroke="#000000" stroke-width="2"/>
<circle cx="278.1" cy="1633.8" r="11.3" fill="#c2c200" stroke="#000000" stroke-width="2"/>
<circle cx="293.5" cy="1632.7" r="11.3" fill="#c2c200" stroke="#000000" stroke-width="2"/>
<circle cx="338.3" cy="1650.9" r="11.3" fill="none" stroke="#000000" stroke-width="2"/>
<circle cx="344.7" cy="1655.1" r="11.3" fill="none" stroke="#000000" stroke-width="2"/>
<circle cx="352.2" cy="1660.5" r="11.3" fill="none" stroke="#000000" stroke-width="2"/>
<circle cx="335.1" cy="1665.8" r="11.3" fill="none" stroke="#000000" stroke-width="2"/>
<circle cx="348" cy="1674.4" r="11.3" fill="none" stroke="#000000" stroke-width="2"/>
<circle cx="342.6" cy="1661.6" r="11.3" fill="none" stroke="#000000" stroke-width="2"/>
<circle cx="400.7" cy="1358.8" r="11.3" fill="none" stroke="#ff0000" stroke-width="2"/>
<circle cx="400.7" cy="1429.9" r="11.3" fill="none" stroke="#ff0000" stroke-width="2"/>
<circle cx="392.8" cy="1445.9" r="11.3" fill="none" stroke="#ff0000" stroke-width="2"/>
<circle cx="408.2" cy="1445.9" r="11.3" fill="none" stroke="#ff0000" stroke-width="2"/>
<circle cx="400.7" cy="1461.9" r="11.3" fill="none" stroke="#ff0000" stroke-width="2"/>
<circle cx="400.7" cy="1555.9" r="11.3" fill="none" stroke="#ff0000" stroke-width="2"/>
<circle cx="457.9" cy="1427.7" r="11.3" fill="none" stroke="#c2c200" stroke-width="2"/>
<circle cx="453.6" cy="1459.8" r="11.3" fill="none" stroke="#c2c200" stroke-width="2"/>
<circle cx="462.2" cy="1466.2" r="11.3" fill="none" stroke="#c2c200" stroke-width="2"/>
<circle cx="457.9" cy="1503.5" r="11.3" fill="none" stroke="#c2c200" stroke-width="2"/>
<circle cx="465.8" cy="1511" r="11.3" fill="none" stroke="#c2c200" stroke-width="2"/>
<circle cx="450" cy="1524.2" r="11.3" fill="none" stroke="#c2c200" stroke-width="2"/>
<line x1="170.8" y1="1658.8" x2="170.8" y2="1679.7" stroke="#000000" stroke-width="2"/>
<line x1="160.8" y1="1658.8" x2="180.8" y2="1658.8" stroke="#000000" stroke-width="2"/>
<line x1="160.8" y1="1679.7" x2="180.8" y2="1679.7" stroke="#000000" stroke-width="2"/>
<line x1="150.8" y1="1669" x2="190.8" y2="1669" stroke="#000000" stroke-width="2"/>
<line x1="228.3" y1="1404.7" x2="228.3" y2="1543" stroke="#000000" stroke-width="2"/>
<line x1="218.3" y1="1404.7" x2="238.3" y2="1404.7" stroke="#000000" stroke-width="2"/>
<line x1="218.3" y1="1543" x2="238.3" y2="1543" stroke="#000000" stroke-width="2"/>
<line x1="208.3" y1="1473.6" x2="248.3" y2="1473.6" stroke="#000000" stroke-width="2"/>
<line x1="285.8" y1="1544.5" x2="285.8" y2="1627" stroke="#000000" stroke-width="2"/>
<line x1="275.8" y1="1544.5" x2="295.8" y2="1544.5" stroke="#000000" stroke-width="2"/>
<line x1="275.8" y1="1627" x2="295.8" y2="1627" stroke="#000000" stroke-width="2"/>
<line x1="265.8" y1="1585.7" x2="305.8" y2="1585.7" stroke="#000000" stroke-width="2"/>
<line x1="342.7" y1="1655" x2="342.7" y2="1670" stroke="#000000" stroke-width="2"/>
<line x1="332.7" y1="1655" x2="352.7" y2="1655" stroke="#000000" stroke-width="2"/>
<line x1="332.7" y1="1670" x2="352.7" y2="1670" stroke="#000000" stroke-width="2"/>
<line x1="322.7" y1="1662.6" x2="362.7" y2="1662.6" stroke="#000000" stroke-width="2"/>
<line x1="400.3" y1="1386.7" x2="400.3" y2="1513.2" stroke="#000000" stroke-width="2"/>
<line x1="390.3" y1="1386.7" x2="410.3" y2="1386.7" stroke="#000000" stroke-width="2"/>
<line x1="390.3" y1="1513.2" x2="410.3" y2="1513.2" stroke="#000000" stroke-width="2"/>
<line x1="380.3" y1="1449.7" x2="420.3" y2="1449.7" stroke="#000000" stroke-width="2"/>
<line x1="457.8" y1="1445.5" x2="457.8" y2="1518.9" stroke="#c2c200" stroke-width="2"/>
<line x1="447.8" y1="1445.5" x2="467.8" y2="1445.5" stroke="#c2c200" stroke-width="2"/>
<line x1="447.8" y1="1518.9" x2="467.8" y2="1518.9" stroke="#c2c200" stroke-width="2"/>
<line x1="437.8" y1="1482.2" x2="477.8" y2="1482.2" stroke="#000000" stroke-width="2"/>
<polyline points="226.2,1324.2 226.2,1307.7 284.3,1307.7 284.3,1324.2" stroke="#000" stroke-width="2" fill="none"/>
<polyline points="397.5,1332.7 397.5,1316 466,1316 466,1332.7" stroke="#000" stroke-width="2" fill="none"/>
<text x="199.8" y="1289.4" font-size="29" font-weight="bold" text-anchor="start"><tspan font-style="italic">P</tspan> = 0.0011</text>
<text x="375.4" y="1292.3" font-size="29" font-weight="bold" text-anchor="start"><tspan font-style="italic">P</tspan> = 0.6150</text>
<text x="551" y="1265.9" font-size="51.5" font-weight="bold" text-anchor="start" fill="#000">g</text>
<line x1="660.8" y1="1315.5" x2="660.8" y2="1692" stroke="#000" stroke-width="2"/>
<line x1="659.8" y1="1691" x2="1030" y2="1691" stroke="#000" stroke-width="2"/>
<line x1="648.8" y1="1317.6" x2="660.8" y2="1317.6" stroke="#000" stroke-width="2"/>
<text x="637.3" y="1332.5" font-size="32" font-weight="bold" text-anchor="end" fill="#000">30</text>
<line x1="648.8" y1="1442.2" x2="660.8" y2="1442.2" stroke="#000" stroke-width="2"/>
<text x="637.3" y="1457.1" font-size="32" font-weight="bold" text-anchor="end" fill="#000">20</text>
<line x1="648.8" y1="1566.8" x2="660.8" y2="1566.8" stroke="#000" stroke-width="2"/>
<text x="637.3" y="1581.7" font-size="32" font-weight="bold" text-anchor="end" fill="#000">10</text>
<line x1="648.8" y1="1691" x2="660.8" y2="1691" stroke="#000" stroke-width="2"/>
<text x="637.3" y="1705.9" font-size="32" font-weight="bold" text-anchor="end" fill="#000">0</text>
<line x1="697.8" y1="1691" x2="697.8" y2="1703" stroke="#000" stroke-width="2"/>
<line x1="754.1" y1="1691" x2="754.1" y2="1703" stroke="#000" stroke-width="2"/>
<line x1="810.2" y1="1691" x2="810.2" y2="1703" stroke="#000" stroke-width="2"/>
<line x1="866.3" y1="1691" x2="866.3" y2="1703" stroke="#000" stroke-width="2"/>
<line x1="922.4" y1="1691" x2="922.4" y2="1703" stroke="#000" stroke-width="2"/>
<line x1="978.6" y1="1691" x2="978.6" y2="1703" stroke="#000" stroke-width="2"/>
<text x="585" y="1508.5" font-size="34" font-weight="bold" text-anchor="middle" fill="#000" transform="rotate(-90 585 1508.5)">IFN-γ (pg/mg tissue)</text>
<circle cx="692.6" cy="1654.5" r="11.3" fill="#d4d4d4" stroke="#000000" stroke-width="2"/>
<circle cx="690.6" cy="1659.5" r="11.3" fill="#d4d4d4" stroke="#000000" stroke-width="2"/>
<circle cx="705.5" cy="1658.5" r="11.3" fill="#d4d4d4" stroke="#000000" stroke-width="2"/>
<circle cx="702.5" cy="1668.4" r="11.3" fill="#d4d4d4" stroke="#000000" stroke-width="2"/>
<circle cx="700" cy="1656" r="11.3" fill="#d4d4d4" stroke="#000000" stroke-width="2"/>
<circle cx="696" cy="1660" r="11.3" fill="#d4d4d4" stroke="#000000" stroke-width="2"/>
<circle cx="762" cy="1360.4" r="11.3" fill="#ff0000" stroke="#000000" stroke-width="2"/>
<circle cx="746.5" cy="1369.3" r="11.3" fill="#ff0000" stroke="#000000" stroke-width="2"/>
<circle cx="754" cy="1415.5" r="11.3" fill="#ff0000" stroke="#000000" stroke-width="2"/>
<circle cx="754" cy="1450.9" r="11.3" fill="#ff0000" stroke="#000000" stroke-width="2"/>
<circle cx="754" cy="1528.4" r="11.3" fill="#ff0000" stroke="#000000" stroke-width="2"/>
<circle cx="754" cy="1557.9" r="11.3" fill="#ff0000" stroke="#000000" stroke-width="2"/>
<circle cx="809.9" cy="1523.2" r="11.3" fill="#c2c200" stroke="#000000" stroke-width="2"/>
<circle cx="802.6" cy="1558.5" r="11.3" fill="#c2c200" stroke="#000000" stroke-width="2"/>
<circle cx="817.8" cy="1568.4" r="11.3" fill="#c2c200" stroke="#000000" stroke-width="2"/>
<circle cx="809.9" cy="1579.3" r="11.3" fill="#c2c200" stroke="#000000" stroke-width="2"/>
<circle cx="814.4" cy="1612.9" r="11.3" fill="#c2c200" stroke="#000000" stroke-width="2"/>
<circle cx="806.5" cy="1614.9" r="11.3" fill="#c2c200" stroke="#000000" stroke-width="2"/>
<circle cx="859" cy="1644.6" r="11.3" fill="none" stroke="#000000" stroke-width="2"/>
<circle cx="873.9" cy="1644.6" r="11.3" fill="none" stroke="#000000" stroke-width="2"/>
<circle cx="866.9" cy="1648.6" r="11.3" fill="none" stroke="#000000" stroke-width="2"/>
<circle cx="868.9" cy="1654.5" r="11.3" fill="none" stroke="#000000" stroke-width="2"/>
<circle cx="867.9" cy="1658.5" r="11.3" fill="none" stroke="#000000" stroke-width="2"/>
<circle cx="863.9" cy="1673.3" r="11.3" fill="none" stroke="#000000" stroke-width="2"/>
<circle cx="922.4" cy="1396.7" r="11.3" fill="none" stroke="#ff0000" stroke-width="2"/>
<circle cx="922.4" cy="1429.7" r="11.3" fill="none" stroke="#ff0000" stroke-width="2"/>
<circle cx="922.4" cy="1452.1" r="11.3" fill="none" stroke="#ff0000" stroke-width="2"/>
<circle cx="914.9" cy="1508.9" r="11.3" fill="none" stroke="#ff0000" stroke-width="2"/>
<circle cx="929.9" cy="1521.8" r="11.3" fill="none" stroke="#ff0000" stroke-width="2"/>
<circle cx="914.9" cy="1539.6" r="11.3" fill="none" stroke="#ff0000" stroke-width="2"/>
<circle cx="985.8" cy="1452.9" r="11.3" fill="none" stroke="#c2c200" stroke-width="2"/>
<circle cx="970.9" cy="1460" r="11.3" fill="none" stroke="#c2c200" stroke-width="2"/>
<circle cx="985.8" cy="1491.1" r="11.3" fill="none" stroke="#c2c200" stroke-width="2"/>
<circle cx="970.9" cy="1511.5" r="11.3" fill="none" stroke="#c2c200" stroke-width="2"/>
<circle cx="985.8" cy="1518.9" r="11.3" fill="none" stroke="#c2c200" stroke-width="2"/>
<circle cx="970.9" cy="1535.3" r="11.3" fill="none" stroke="#c2c200" stroke-width="2"/>
<line x1="697.8" y1="1654.5" x2="697.8" y2="1664" stroke="#000000" stroke-width="2"/>
<line x1="687.8" y1="1654.5" x2="707.8" y2="1654.5" stroke="#000000" stroke-width="2"/>
<line x1="687.8" y1="1664" x2="707.8" y2="1664" stroke="#000000" stroke-width="2"/>
<line x1="677.8" y1="1658.5" x2="717.8" y2="1658.5" stroke="#000000" stroke-width="2"/>
<line x1="754.1" y1="1365.4" x2="754.1" y2="1528.8" stroke="#000000" stroke-width="2"/>
<line x1="744.1" y1="1365.4" x2="764.1" y2="1365.4" stroke="#000000" stroke-width="2"/>
<line x1="744.1" y1="1528.8" x2="764.1" y2="1528.8" stroke="#000000" stroke-width="2"/>
<line x1="734.1" y1="1447.2" x2="774.1" y2="1447.2" stroke="#000000" stroke-width="2"/>
<line x1="810.2" y1="1541.6" x2="810.2" y2="1611.9" stroke="#000000" stroke-width="2"/>
<line x1="800.2" y1="1541.6" x2="820.2" y2="1541.6" stroke="#000000" stroke-width="2"/>
<line x1="800.2" y1="1611.9" x2="820.2" y2="1611.9" stroke="#000000" stroke-width="2"/>
<line x1="790.2" y1="1575.9" x2="830.2" y2="1575.9" stroke="#000000" stroke-width="2"/>
<line x1="866.3" y1="1643" x2="866.3" y2="1660" stroke="#000000" stroke-width="2"/>
<line x1="856.3" y1="1643" x2="876.3" y2="1643" stroke="#000000" stroke-width="2"/>
<line x1="856.3" y1="1660" x2="876.3" y2="1660" stroke="#000000" stroke-width="2"/>
<line x1="846.3" y1="1651.6" x2="886.3" y2="1651.6" stroke="#000000" stroke-width="2"/>
<line x1="922.4" y1="1418" x2="922.4" y2="1531.3" stroke="#000000" stroke-width="2"/>
<line x1="912.4" y1="1418" x2="932.4" y2="1418" stroke="#000000" stroke-width="2"/>
<line x1="912.4" y1="1531.3" x2="932.4" y2="1531.3" stroke="#000000" stroke-width="2"/>
<line x1="902.4" y1="1474.7" x2="942.4" y2="1474.7" stroke="#000000" stroke-width="2"/>
<line x1="978.6" y1="1462" x2="978.6" y2="1528.4" stroke="#c2c200" stroke-width="2"/>
<line x1="968.6" y1="1462" x2="988.6" y2="1462" stroke="#c2c200" stroke-width="2"/>
<line x1="968.6" y1="1528.4" x2="988.6" y2="1528.4" stroke="#c2c200" stroke-width="2"/>
<line x1="958.6" y1="1495.1" x2="998.6" y2="1495.1" stroke="#000000" stroke-width="2"/>
<polyline points="752.2,1334.4 752.2,1317.6 808.8,1317.6 808.8,1334.4" stroke="#000" stroke-width="2" fill="none"/>
<polyline points="919.3,1342.2 919.3,1325.5 986,1325.5 986,1342.2" stroke="#000" stroke-width="2" fill="none"/>
<text x="723.9" y="1304.2" font-size="29" font-weight="bold" text-anchor="start"><tspan font-style="italic">P</tspan> = 0.0006</text>
<text x="894.3" y="1304.2" font-size="29" font-weight="bold" text-anchor="start"><tspan font-style="italic">P</tspan> = 0.9256</text>
<text x="1049" y="1267.7" font-size="51.5" font-weight="bold" text-anchor="start" fill="#000">h</text>
<line x1="1160.2" y1="1321.5" x2="1160.2" y2="1690.8" stroke="#000" stroke-width="2"/>
<line x1="1159.2" y1="1689.8" x2="1509.6" y2="1689.8" stroke="#000" stroke-width="2"/>
<line x1="1148.2" y1="1324" x2="1160.2" y2="1324" stroke="#000" stroke-width="2"/>
<text x="1136.7" y="1338.9" font-size="32" font-weight="bold" text-anchor="end" fill="#000">120</text>
<line x1="1148.2" y1="1416.4" x2="1160.2" y2="1416.4" stroke="#000" stroke-width="2"/>
<text x="1136.7" y="1431.3" font-size="32" font-weight="bold" text-anchor="end" fill="#000">90</text>
<line x1="1148.2" y1="1508.2" x2="1160.2" y2="1508.2" stroke="#000" stroke-width="2"/>
<text x="1136.7" y="1523.1" font-size="32" font-weight="bold" text-anchor="end" fill="#000">60</text>
<line x1="1148.2" y1="1599.2" x2="1160.2" y2="1599.2" stroke="#000" stroke-width="2"/>
<text x="1136.7" y="1614.1" font-size="32" font-weight="bold" text-anchor="end" fill="#000">30</text>
<line x1="1148.2" y1="1689.8" x2="1160.2" y2="1689.8" stroke="#000" stroke-width="2"/>
<text x="1136.7" y="1704.7" font-size="32" font-weight="bold" text-anchor="end" fill="#000">0</text>
<line x1="1196.7" y1="1689.8" x2="1196.7" y2="1701.8" stroke="#000" stroke-width="2"/>
<line x1="1251.4" y1="1689.8" x2="1251.4" y2="1701.8" stroke="#000" stroke-width="2"/>
<line x1="1306.3" y1="1689.8" x2="1306.3" y2="1701.8" stroke="#000" stroke-width="2"/>
<line x1="1361.2" y1="1689.8" x2="1361.2" y2="1701.8" stroke="#000" stroke-width="2"/>
<line x1="1416.3" y1="1689.8" x2="1416.3" y2="1701.8" stroke="#000" stroke-width="2"/>
<line x1="1471.2" y1="1689.8" x2="1471.2" y2="1701.8" stroke="#000" stroke-width="2"/>
<text x="1066.5" y="1511.5" font-size="34" font-weight="bold" text-anchor="middle" fill="#000" transform="rotate(-90 1066.5 1511.5)">IL-6 (pg/mg tissue)</text>
<circle cx="1196.7" cy="1630.3" r="11.3" fill="#d4d4d4" stroke="#000000" stroke-width="2"/>
<circle cx="1196.3" cy="1651" r="11.3" fill="#d4d4d4" stroke="#000000" stroke-width="2"/>
<circle cx="1189.1" cy="1661.3" r="11.3" fill="#d4d4d4" stroke="#000000" stroke-width="2"/>
<circle cx="1204.6" cy="1667.5" r="11.3" fill="#d4d4d4" stroke="#000000" stroke-width="2"/>
<circle cx="1200.5" cy="1659.2" r="11.3" fill="#d4d4d4" stroke="#000000" stroke-width="2"/>
<circle cx="1192" cy="1658" r="11.3" fill="#d4d4d4" stroke="#000000" stroke-width="2"/>
<circle cx="1251.3" cy="1439.2" r="11.3" fill="#ff0000" stroke="#000000" stroke-width="2"/>
<circle cx="1244.3" cy="1460.9" r="11.3" fill="#ff0000" stroke="#000000" stroke-width="2"/>
<circle cx="1259.4" cy="1469.1" r="11.3" fill="#ff0000" stroke="#000000" stroke-width="2"/>
<circle cx="1251.3" cy="1498.5" r="11.3" fill="#ff0000" stroke="#000000" stroke-width="2"/>
<circle cx="1259.4" cy="1524.9" r="11.3" fill="#ff0000" stroke="#000000" stroke-width="2"/>
<circle cx="1244.3" cy="1536.3" r="11.3" fill="#ff0000" stroke="#000000" stroke-width="2"/>
<circle cx="1306.3" cy="1572.5" r="11.3" fill="#c2c200" stroke="#000000" stroke-width="2"/>
<circle cx="1298.6" cy="1606.6" r="11.3" fill="#c2c200" stroke="#000000" stroke-width="2"/>
<circle cx="1306.3" cy="1603.4" r="11.3" fill="#c2c200" stroke="#000000" stroke-width="2"/>
<circle cx="1314.1" cy="1616.9" r="11.3" fill="#c2c200" stroke="#000000" stroke-width="2"/>
<circle cx="1302.8" cy="1644.8" r="11.3" fill="#c2c200" stroke="#000000" stroke-width="2"/>
<circle cx="1310" cy="1644.8" r="11.3" fill="#c2c200" stroke="#000000" stroke-width="2"/>
<circle cx="1361.2" cy="1643.7" r="11.3" fill="none" stroke="#000000" stroke-width="2"/>
<circle cx="1357.5" cy="1656.1" r="11.3" fill="none" stroke="#000000" stroke-width="2"/>
<circle cx="1365.8" cy="1658.2" r="11.3" fill="none" stroke="#000000" stroke-width="2"/>
<circle cx="1353.4" cy="1667.5" r="11.3" fill="none" stroke="#000000" stroke-width="2"/>
<circle cx="1368.9" cy="1668.5" r="11.3" fill="none" stroke="#000000" stroke-width="2"/>
<circle cx="1361.2" cy="1663.4" r="11.3" fill="none" stroke="#000000" stroke-width="2"/>
<circle cx="1416.4" cy="1436.1" r="11.3" fill="none" stroke="#ff0000" stroke-width="2"/>
<circle cx="1409.2" cy="1459.2" r="11.3" fill="none" stroke="#ff0000" stroke-width="2"/>
<circle cx="1416.4" cy="1460.4" r="11.3" fill="none" stroke="#ff0000" stroke-width="2"/>
<circle cx="1423.7" cy="1461.9" r="11.3" fill="none" stroke="#ff0000" stroke-width="2"/>
<circle cx="1412.3" cy="1510.9" r="11.3" fill="none" stroke="#ff0000" stroke-width="2"/>
<circle cx="1420" cy="1509.4" r="11.3" fill="none" stroke="#ff0000" stroke-width="2"/>
<circle cx="1471.2" cy="1380.3" r="11.3" fill="none" stroke="#c2c200" stroke-width="2"/>
<circle cx="1464" cy="1421.6" r="11.3" fill="none" stroke="#c2c200" stroke-width="2"/>
<circle cx="1478.4" cy="1433" r="11.3" fill="none" stroke="#c2c200" stroke-width="2"/>
<circle cx="1471.2" cy="1497" r="11.3" fill="none" stroke="#c2c200" stroke-width="2"/>
<circle cx="1471.2" cy="1537.3" r="11.3" fill="none" stroke="#c2c200" stroke-width="2"/>
<circle cx="1471.2" cy="1594.8" r="11.3" fill="none" stroke="#c2c200" stroke-width="2"/>
<line x1="1196.7" y1="1642.7" x2="1196.7" y2="1668.5" stroke="#000000" stroke-width="2"/>
<line x1="1186.7" y1="1642.7" x2="1206.7" y2="1642.7" stroke="#000000" stroke-width="2"/>
<line x1="1186.7" y1="1668.5" x2="1206.7" y2="1668.5" stroke="#000000" stroke-width="2"/>
<line x1="1176.7" y1="1655.5" x2="1216.7" y2="1655.5" stroke="#000000" stroke-width="2"/>
<line x1="1251.4" y1="1450.5" x2="1251.4" y2="1526.6" stroke="#000000" stroke-width="2"/>
<line x1="1241.4" y1="1450.5" x2="1261.4" y2="1450.5" stroke="#000000" stroke-width="2"/>
<line x1="1241.4" y1="1526.6" x2="1261.4" y2="1526.6" stroke="#000000" stroke-width="2"/>
<line x1="1231.4" y1="1488.1" x2="1271.4" y2="1488.1" stroke="#000000" stroke-width="2"/>
<line x1="1306.3" y1="1586.9" x2="1306.3" y2="1642.7" stroke="#000000" stroke-width="2"/>
<line x1="1296.3" y1="1586.9" x2="1316.3" y2="1586.9" stroke="#000000" stroke-width="2"/>
<line x1="1296.3" y1="1642.7" x2="1316.3" y2="1642.7" stroke="#000000" stroke-width="2"/>
<line x1="1286.3" y1="1614.8" x2="1326.3" y2="1614.8" stroke="#000000" stroke-width="2"/>
<line x1="1361.2" y1="1655" x2="1361.2" y2="1667" stroke="#000000" stroke-width="2"/>
<line x1="1351.2" y1="1655" x2="1371.2" y2="1655" stroke="#000000" stroke-width="2"/>
<line x1="1351.2" y1="1667" x2="1371.2" y2="1667" stroke="#000000" stroke-width="2"/>
<line x1="1341.2" y1="1660.9" x2="1381.2" y2="1660.9" stroke="#000000" stroke-width="2"/>
<line x1="1416.3" y1="1442.7" x2="1416.3" y2="1503.8" stroke="#000000" stroke-width="2"/>
<line x1="1406.3" y1="1442.7" x2="1426.3" y2="1442.7" stroke="#000000" stroke-width="2"/>
<line x1="1406.3" y1="1503.8" x2="1426.3" y2="1503.8" stroke="#000000" stroke-width="2"/>
<line x1="1396.3" y1="1473.3" x2="1436.3" y2="1473.3" stroke="#000000" stroke-width="2"/>
<line x1="1471.2" y1="1396.8" x2="1471.2" y2="1558" stroke="#c2c200" stroke-width="2"/>
<line x1="1461.2" y1="1396.8" x2="1481.2" y2="1396.8" stroke="#c2c200" stroke-width="2"/>
<line x1="1461.2" y1="1558" x2="1481.2" y2="1558" stroke="#c2c200" stroke-width="2"/>
<line x1="1451.2" y1="1477.4" x2="1491.2" y2="1477.4" stroke="#000000" stroke-width="2"/>
<polyline points="1249.6,1355 1249.6,1338.9 1305.2,1338.9 1305.2,1355" stroke="#000" stroke-width="2" fill="none"/>
<polyline points="1412.9,1363.3 1412.9,1347.2 1478.8,1347.2 1478.8,1363.3" stroke="#000" stroke-width="2" fill="none"/>
<text x="1228.7" y="1326.6" font-size="29" font-weight="bold" text-anchor="start"><tspan font-style="italic">P</tspan> = 0.0001</text>
<text x="1396" y="1327.8" font-size="29" font-weight="bold" text-anchor="start"><tspan font-style="italic">P</tspan> = 0.9997</text>
<text x="1539" y="1277.7" font-size="51.5" font-weight="bold" text-anchor="start" fill="#000">i</text>
<line x1="1644.4" y1="1306.5" x2="1644.4" y2="1693.5" stroke="#000" stroke-width="2"/>
<line x1="1643.4" y1="1692.5" x2="2008.6" y2="1692.5" stroke="#000" stroke-width="2"/>
<line x1="1632.4" y1="1309" x2="1644.4" y2="1309" stroke="#000" stroke-width="2"/>
<text x="1620.9" y="1323.9" font-size="32" font-weight="bold" text-anchor="end" fill="#000">8</text>
<line x1="1632.4" y1="1405" x2="1644.4" y2="1405" stroke="#000" stroke-width="2"/>
<text x="1620.9" y="1419.9" font-size="32" font-weight="bold" text-anchor="end" fill="#000">6</text>
<line x1="1632.4" y1="1500.8" x2="1644.4" y2="1500.8" stroke="#000" stroke-width="2"/>
<text x="1620.9" y="1515.7" font-size="32" font-weight="bold" text-anchor="end" fill="#000">4</text>
<line x1="1632.4" y1="1596.8" x2="1644.4" y2="1596.8" stroke="#000" stroke-width="2"/>
<text x="1620.9" y="1611.7" font-size="32" font-weight="bold" text-anchor="end" fill="#000">2</text>
<line x1="1632.4" y1="1692.5" x2="1644.4" y2="1692.5" stroke="#000" stroke-width="2"/>
<text x="1620.9" y="1707.4" font-size="32" font-weight="bold" text-anchor="end" fill="#000">0</text>
<line x1="1683" y1="1692.5" x2="1683" y2="1704.5" stroke="#000" stroke-width="2"/>
<line x1="1740" y1="1692.5" x2="1740" y2="1704.5" stroke="#000" stroke-width="2"/>
<line x1="1797.3" y1="1692.5" x2="1797.3" y2="1704.5" stroke="#000" stroke-width="2"/>
<line x1="1854.8" y1="1692.5" x2="1854.8" y2="1704.5" stroke="#000" stroke-width="2"/>
<line x1="1911.9" y1="1692.5" x2="1911.9" y2="1704.5" stroke="#000" stroke-width="2"/>
<line x1="1969.8" y1="1692.5" x2="1969.8" y2="1704.5" stroke="#000" stroke-width="2"/>
<text x="1585.5" y="1510" font-size="34" font-weight="bold" text-anchor="middle" fill="#000" transform="rotate(-90 1585.5 1510)">IL-10 (pg/mg tissue)</text>
<circle cx="1682.9" cy="1554.2" r="11.3" fill="#d4d4d4" stroke="#000000" stroke-width="2"/>
<circle cx="1675" cy="1601.2" r="11.3" fill="#d4d4d4" stroke="#000000" stroke-width="2"/>
<circle cx="1691" cy="1605.9" r="11.3" fill="#d4d4d4" stroke="#000000" stroke-width="2"/>
<circle cx="1682.9" cy="1623.9" r="11.3" fill="#d4d4d4" stroke="#000000" stroke-width="2"/>
<circle cx="1691" cy="1631.4" r="11.3" fill="#d4d4d4" stroke="#000000" stroke-width="2"/>
<circle cx="1675" cy="1647.3" r="11.3" fill="#d4d4d4" stroke="#000000" stroke-width="2"/>
<circle cx="1740.3" cy="1503.9" r="11.3" fill="#ff0000" stroke="#000000" stroke-width="2"/>
<circle cx="1732.4" cy="1553.2" r="11.3" fill="#ff0000" stroke="#000000" stroke-width="2"/>
<circle cx="1748.3" cy="1567.6" r="11.3" fill="#ff0000" stroke="#000000" stroke-width="2"/>
<circle cx="1740.3" cy="1603.7" r="11.3" fill="#ff0000" stroke="#000000" stroke-width="2"/>
<circle cx="1732.4" cy="1647.3" r="11.3" fill="#ff0000" stroke="#000000" stroke-width="2"/>
<circle cx="1748.3" cy="1647.3" r="11.3" fill="#ff0000" stroke="#000000" stroke-width="2"/>
<circle cx="1805.3" cy="1407.3" r="11.3" fill="#c2c200" stroke="#000000" stroke-width="2"/>
<circle cx="1789.7" cy="1418.9" r="11.3" fill="#c2c200" stroke="#000000" stroke-width="2"/>
<circle cx="1805.3" cy="1459.3" r="11.3" fill="#c2c200" stroke="#000000" stroke-width="2"/>
<circle cx="1789.7" cy="1481.6" r="11.3" fill="#c2c200" stroke="#000000" stroke-width="2"/>
<circle cx="1797.6" cy="1532.6" r="11.3" fill="#c2c200" stroke="#000000" stroke-width="2"/>
<circle cx="1797.6" cy="1587.8" r="11.3" fill="#c2c200" stroke="#000000" stroke-width="2"/>
<circle cx="1855" cy="1599.1" r="11.3" fill="none" stroke="#000000" stroke-width="2"/>
<circle cx="1847.1" cy="1619.7" r="11.3" fill="none" stroke="#000000" stroke-width="2"/>
<circle cx="1863" cy="1620.3" r="11.3" fill="none" stroke="#000000" stroke-width="2"/>
<circle cx="1855" cy="1618.6" r="11.3" fill="none" stroke="#000000" stroke-width="2"/>
<circle cx="1858.8" cy="1639.8" r="11.3" fill="none" stroke="#000000" stroke-width="2"/>
<circle cx="1851.3" cy="1648.3" r="11.3" fill="none" stroke="#000000" stroke-width="2"/>
<circle cx="1912.3" cy="1537.9" r="11.3" fill="none" stroke="#ff0000" stroke-width="2"/>
<circle cx="1912.3" cy="1574" r="11.3" fill="none" stroke="#ff0000" stroke-width="2"/>
<circle cx="1916.1" cy="1575.1" r="11.3" fill="none" stroke="#ff0000" stroke-width="2"/>
<circle cx="1912.3" cy="1585.7" r="11.3" fill="none" stroke="#ff0000" stroke-width="2"/>
<circle cx="1920.4" cy="1592.1" r="11.3" fill="none" stroke="#ff0000" stroke-width="2"/>
<circle cx="1904.5" cy="1605.9" r="11.3" fill="none" stroke="#ff0000" stroke-width="2"/>
<circle cx="1961.8" cy="1529" r="11.3" fill="none" stroke="#c2c200" stroke-width="2"/>
<circle cx="1977.3" cy="1530.5" r="11.3" fill="none" stroke="#c2c200" stroke-width="2"/>
<circle cx="1969.2" cy="1536.8" r="11.3" fill="none" stroke="#c2c200" stroke-width="2"/>
<circle cx="1977.3" cy="1543.2" r="11.3" fill="none" stroke="#c2c200" stroke-width="2"/>
<circle cx="1969.2" cy="1541.1" r="11.3" fill="none" stroke="#c2c200" stroke-width="2"/>
<circle cx="1961.8" cy="1561.3" r="11.3" fill="none" stroke="#c2c200" stroke-width="2"/>
<line x1="1683" y1="1578.7" x2="1683" y2="1643" stroke="#000000" stroke-width="2"/>
<line x1="1673" y1="1578.7" x2="1693" y2="1578.7" stroke="#000000" stroke-width="2"/>
<line x1="1673" y1="1643" x2="1693" y2="1643" stroke="#000000" stroke-width="2"/>
<line x1="1663" y1="1610.7" x2="1703" y2="1610.7" stroke="#000000" stroke-width="2"/>
<line x1="1740" y1="1530.5" x2="1740" y2="1643" stroke="#000000" stroke-width="2"/>
<line x1="1730" y1="1530.5" x2="1750" y2="1530.5" stroke="#000000" stroke-width="2"/>
<line x1="1730" y1="1643" x2="1750" y2="1643" stroke="#000000" stroke-width="2"/>
<line x1="1720" y1="1587.2" x2="1760" y2="1587.2" stroke="#000000" stroke-width="2"/>
<line x1="1797.3" y1="1412.1" x2="1797.3" y2="1550.6" stroke="#000000" stroke-width="2"/>
<line x1="1787.3" y1="1412.1" x2="1807.3" y2="1412.1" stroke="#000000" stroke-width="2"/>
<line x1="1787.3" y1="1550.6" x2="1807.3" y2="1550.6" stroke="#000000" stroke-width="2"/>
<line x1="1777.3" y1="1481.6" x2="1817.3" y2="1481.6" stroke="#000000" stroke-width="2"/>
<line x1="1854.8" y1="1606.9" x2="1854.8" y2="1642" stroke="#000000" stroke-width="2"/>
<line x1="1844.8" y1="1606.9" x2="1864.8" y2="1606.9" stroke="#000000" stroke-width="2"/>
<line x1="1844.8" y1="1642" x2="1864.8" y2="1642" stroke="#000000" stroke-width="2"/>
<line x1="1834.8" y1="1623.9" x2="1874.8" y2="1623.9" stroke="#000000" stroke-width="2"/>
<line x1="1911.9" y1="1554.9" x2="1911.9" y2="1601.2" stroke="#000000" stroke-width="2"/>
<line x1="1901.9" y1="1554.9" x2="1921.9" y2="1554.9" stroke="#000000" stroke-width="2"/>
<line x1="1901.9" y1="1601.2" x2="1921.9" y2="1601.2" stroke="#000000" stroke-width="2"/>
<line x1="1891.9" y1="1578.2" x2="1931.9" y2="1578.2" stroke="#000000" stroke-width="2"/>
<line x1="1969.8" y1="1531" x2="1969.8" y2="1551" stroke="#c2c200" stroke-width="2"/>
<line x1="1959.8" y1="1531" x2="1979.8" y2="1531" stroke="#c2c200" stroke-width="2"/>
<line x1="1959.8" y1="1551" x2="1979.8" y2="1551" stroke="#c2c200" stroke-width="2"/>
<line x1="1949.8" y1="1540.7" x2="1989.8" y2="1540.7" stroke="#000000" stroke-width="2"/>
<polyline points="1738.1,1373.3 1738.1,1356.3 1796.1,1356.3 1796.1,1373.3" stroke="#000" stroke-width="2" fill="none"/>
<polyline points="1909.1,1381.1 1909.1,1363.7 1977.7,1363.7 1977.7,1381.1" stroke="#000" stroke-width="2" fill="none"/>
<text x="1718.6" y="1342.9" font-size="29" font-weight="bold" text-anchor="start"><tspan font-style="italic">P</tspan> = 0.0013</text>
<text x="1895" y="1342.6" font-size="29" font-weight="bold" text-anchor="start"><tspan font-style="italic">P</tspan> = 0.4339</text>
<text x="1.8" y="1820.6" font-size="51.5" font-weight="bold" text-anchor="start" fill="#000">j</text>
<line x1="154.4" y1="1890" x2="154.4" y2="2281.5" stroke="#000" stroke-width="2"/>
<line x1="153.4" y1="2280.5" x2="525" y2="2280.5" stroke="#000" stroke-width="2"/>
<line x1="142.4" y1="1892.2" x2="154.4" y2="1892.2" stroke="#000" stroke-width="2"/>
<text x="130.9" y="1907.1" font-size="32" font-weight="bold" text-anchor="end" fill="#000">800</text>
<line x1="142.4" y1="1990" x2="154.4" y2="1990" stroke="#000" stroke-width="2"/>
<text x="130.9" y="2004.9" font-size="32" font-weight="bold" text-anchor="end" fill="#000">600</text>
<line x1="142.4" y1="2087.2" x2="154.4" y2="2087.2" stroke="#000" stroke-width="2"/>
<text x="130.9" y="2102.1" font-size="32" font-weight="bold" text-anchor="end" fill="#000">400</text>
<line x1="142.4" y1="2183.8" x2="154.4" y2="2183.8" stroke="#000" stroke-width="2"/>
<text x="130.9" y="2198.7" font-size="32" font-weight="bold" text-anchor="end" fill="#000">200</text>
<line x1="142.4" y1="2280.5" x2="154.4" y2="2280.5" stroke="#000" stroke-width="2"/>
<text x="130.9" y="2295.4" font-size="32" font-weight="bold" text-anchor="end" fill="#000">0</text>
<line x1="193.6" y1="2280.5" x2="193.6" y2="2292.5" stroke="#000" stroke-width="2"/>
<line x1="251.4" y1="2280.5" x2="251.4" y2="2292.5" stroke="#000" stroke-width="2"/>
<line x1="309.9" y1="2280.5" x2="309.9" y2="2292.5" stroke="#000" stroke-width="2"/>
<line x1="367.7" y1="2280.5" x2="367.7" y2="2292.5" stroke="#000" stroke-width="2"/>
<line x1="426" y1="2280.5" x2="426" y2="2292.5" stroke="#000" stroke-width="2"/>
<line x1="483.8" y1="2280.5" x2="483.8" y2="2292.5" stroke="#000" stroke-width="2"/>
<text x="49.5" y="2090.5" font-size="34" font-weight="bold" text-anchor="middle" fill="#000" transform="rotate(-90 49.5 2090.5)">α-diversity (chao index)</text>
<circle cx="189.7" cy="2035.3" r="11.3" fill="#d4d4d4" stroke="#000000" stroke-width="2"/>
<circle cx="198" cy="2036" r="11.3" fill="#d4d4d4" stroke="#000000" stroke-width="2"/>
<circle cx="185.3" cy="2051.2" r="11.3" fill="#d4d4d4" stroke="#000000" stroke-width="2"/>
<circle cx="201.3" cy="2051.2" r="11.3" fill="#d4d4d4" stroke="#000000" stroke-width="2"/>
<circle cx="193.6" cy="2080.3" r="11.3" fill="#d4d4d4" stroke="#000000" stroke-width="2"/>
<circle cx="193.6" cy="2050" r="11.3" fill="#d4d4d4" stroke="#000000" stroke-width="2"/>
<circle cx="247.1" cy="2084.6" r="11.3" fill="#ff0000" stroke="#000000" stroke-width="2"/>
<circle cx="256.9" cy="2094.9" r="11.3" fill="#ff0000" stroke="#000000" stroke-width="2"/>
<circle cx="243.8" cy="2109.5" r="11.3" fill="#ff0000" stroke="#000000" stroke-width="2"/>
<circle cx="260.2" cy="2108" r="11.3" fill="#ff0000" stroke="#000000" stroke-width="2"/>
<circle cx="251.4" cy="2168" r="11.3" fill="#ff0000" stroke="#000000" stroke-width="2"/>
<circle cx="250" cy="2098" r="11.3" fill="#ff0000" stroke="#000000" stroke-width="2"/>
<circle cx="302" cy="2003.7" r="11.3" fill="#c2c200" stroke="#000000" stroke-width="2"/>
<circle cx="317.5" cy="2021.8" r="11.3" fill="#c2c200" stroke="#000000" stroke-width="2"/>
<circle cx="305.3" cy="2025.1" r="11.3" fill="#c2c200" stroke="#000000" stroke-width="2"/>
<circle cx="317.5" cy="2037.5" r="11.3" fill="#c2c200" stroke="#000000" stroke-width="2"/>
<circle cx="302" cy="2046.9" r="11.3" fill="#c2c200" stroke="#000000" stroke-width="2"/>
<circle cx="312" cy="2025" r="11.3" fill="#c2c200" stroke="#000000" stroke-width="2"/>
<circle cx="367.7" cy="2020.3" r="11.3" fill="none" stroke="#000000" stroke-width="2"/>
<circle cx="364.9" cy="2075.9" r="11.3" fill="none" stroke="#000000" stroke-width="2"/>
<circle cx="375.8" cy="2080.3" r="11.3" fill="none" stroke="#000000" stroke-width="2"/>
<circle cx="359.4" cy="2086.2" r="11.3" fill="none" stroke="#000000" stroke-width="2"/>
<circle cx="370.8" cy="2084" r="11.3" fill="none" stroke="#000000" stroke-width="2"/>
<circle cx="367.7" cy="2137" r="11.3" fill="none" stroke="#000000" stroke-width="2"/>
<circle cx="433.6" cy="2079.6" r="11.3" fill="none" stroke="#ff0000" stroke-width="2"/>
<circle cx="417.9" cy="2100.3" r="11.3" fill="none" stroke="#ff0000" stroke-width="2"/>
<circle cx="433.6" cy="2106.4" r="11.3" fill="none" stroke="#ff0000" stroke-width="2"/>
<circle cx="426" cy="2117.8" r="11.3" fill="none" stroke="#ff0000" stroke-width="2"/>
<circle cx="426" cy="2144.6" r="11.3" fill="none" stroke="#ff0000" stroke-width="2"/>
<circle cx="426" cy="2225.3" r="11.3" fill="none" stroke="#ff0000" stroke-width="2"/>
<circle cx="483.8" cy="2030.1" r="11.3" fill="none" stroke="#c2c200" stroke-width="2"/>
<circle cx="483.8" cy="2085.1" r="11.3" fill="none" stroke="#c2c200" stroke-width="2"/>
<circle cx="476.1" cy="2091.6" r="11.3" fill="none" stroke="#c2c200" stroke-width="2"/>
<circle cx="492.1" cy="2100.3" r="11.3" fill="none" stroke="#c2c200" stroke-width="2"/>
<circle cx="483.8" cy="2129.8" r="11.3" fill="none" stroke="#c2c200" stroke-width="2"/>
<circle cx="483.8" cy="2217.5" r="11.3" fill="none" stroke="#c2c200" stroke-width="2"/>
<line x1="193.6" y1="2034.2" x2="193.6" y2="2067" stroke="#000000" stroke-width="2"/>
<line x1="183.6" y1="2034.2" x2="203.6" y2="2034.2" stroke="#000000" stroke-width="2"/>
<line x1="183.6" y1="2067" x2="203.6" y2="2067" stroke="#000000" stroke-width="2"/>
<line x1="173.6" y1="2051.2" x2="213.6" y2="2051.2" stroke="#000000" stroke-width="2"/>
<line x1="251.4" y1="2081.8" x2="251.4" y2="2140.3" stroke="#000000" stroke-width="2"/>
<line x1="241.4" y1="2081.8" x2="261.4" y2="2081.8" stroke="#000000" stroke-width="2"/>
<line x1="241.4" y1="2140.3" x2="261.4" y2="2140.3" stroke="#000000" stroke-width="2"/>
<line x1="231.4" y1="2110.1" x2="271.4" y2="2110.1" stroke="#000000" stroke-width="2"/>
<line x1="309.9" y1="2012.4" x2="309.9" y2="2041.4" stroke="#000000" stroke-width="2"/>
<line x1="299.9" y1="2012.4" x2="319.9" y2="2012.4" stroke="#000000" stroke-width="2"/>
<line x1="299.9" y1="2041.4" x2="319.9" y2="2041.4" stroke="#000000" stroke-width="2"/>
<line x1="289.9" y1="2027.3" x2="329.9" y2="2027.3" stroke="#000000" stroke-width="2"/>
<line x1="367.7" y1="2044" x2="367.7" y2="2117.8" stroke="#000000" stroke-width="2"/>
<line x1="357.7" y1="2044" x2="377.7" y2="2044" stroke="#000000" stroke-width="2"/>
<line x1="357.7" y1="2117.8" x2="377.7" y2="2117.8" stroke="#000000" stroke-width="2"/>
<line x1="347.7" y1="2080.7" x2="387.7" y2="2080.7" stroke="#000000" stroke-width="2"/>
<line x1="426" y1="2077.4" x2="426" y2="2181" stroke="#000000" stroke-width="2"/>
<line x1="416" y1="2077.4" x2="436" y2="2077.4" stroke="#000000" stroke-width="2"/>
<line x1="416" y1="2181" x2="436" y2="2181" stroke="#000000" stroke-width="2"/>
<line x1="406" y1="2128.7" x2="446" y2="2128.7" stroke="#000000" stroke-width="2"/>
<line x1="483.8" y1="2047.3" x2="483.8" y2="2171.2" stroke="#c2c200" stroke-width="2"/>
<line x1="473.8" y1="2047.3" x2="493.8" y2="2047.3" stroke="#c2c200" stroke-width="2"/>
<line x1="473.8" y1="2171.2" x2="493.8" y2="2171.2" stroke="#c2c200" stroke-width="2"/>
<line x1="463.8" y1="2109.5" x2="503.8" y2="2109.5" stroke="#000000" stroke-width="2"/>
<polyline points="259.1,1955.3 259.1,1937.8 299,1937.8 299,1955.3" stroke="#000" stroke-width="2" fill="none"/>
<polyline points="434.7,1992.8 434.7,1975.3 473.5,1975.3 473.5,1992.8" stroke="#000" stroke-width="2" fill="none"/>
<text x="233.6" y="1926.2" font-size="29" font-weight="bold" text-anchor="start"><tspan font-style="italic">P</tspan> = 0.0001</text>
<text x="400.4" y="1952.6" font-size="29" font-weight="bold" text-anchor="start"><tspan font-style="italic">P</tspan> = 0.6172</text>
<text x="553.2" y="1822.9" font-size="51.5" font-weight="bold" text-anchor="start" fill="#000">k</text>
<text x="704" y="1817.5" font-size="30" font-weight="bold" text-anchor="middle" fill="#000" transform="rotate(-90 704 1817.5)">WT</text>
<polyline points="728,1776.4 712.2,1776.4 712.2,1848 728,1848" stroke="#000" stroke-width="2" fill="none"/>
<line x1="734.6" y1="1774.9" x2="769.9" y2="1774.9" stroke="#e78ac3" stroke-width="2"/>
<circle cx="752.5" cy="1774.9" r="7" fill="#e78ac3" stroke="#000" stroke-width="2"/>
<text x="775" y="1786.1" font-size="25" font-weight="bold" text-anchor="start" fill="#000">Con</text>
<line x1="734.6" y1="1810.7" x2="769.9" y2="1810.7" stroke="#ffd92f" stroke-width="2"/>
<circle cx="752.5" cy="1810.7" r="7" fill="#ffd92f" stroke="#000" stroke-width="2"/>
<text x="775" y="1821.9" font-size="25" font-weight="bold" text-anchor="start" fill="#000">TNBS</text>
<line x1="734.6" y1="1846.6" x2="769.9" y2="1846.6" stroke="#a6d854" stroke-width="2"/>
<circle cx="752.5" cy="1846.6" r="7" fill="#a6d854" stroke="#000" stroke-width="2"/>
<text x="775" y="1857.8" font-size="25" font-weight="bold" text-anchor="start" fill="#000">LPH+TNBS</text>
<text x="953" y="1808" font-size="30" font-weight="bold" text-anchor="middle" transform="rotate(-90 953 1808)"><tspan font-style="italic">Nod2</tspan><tspan font-size="26" dy="-9"> -/-</tspan></text>
<polyline points="987.5,1772.5 970.4,1772.5 970.4,1844.5 987.5,1844.5" stroke="#000" stroke-width="2" fill="none"/>
<line x1="996.5" y1="1775.5" x2="1032.5" y2="1775.5" stroke="#66c2a5" stroke-width="2" stroke-dasharray="2,4"/>
<circle cx="1014.6" cy="1775.5" r="7" fill="#66c2a5" stroke="#000" stroke-width="2"/>
<text x="1035.5" y="1786.7" font-size="25" font-weight="bold" text-anchor="start" fill="#000">Con</text>
<line x1="996.5" y1="1811.3" x2="1032.5" y2="1811.3" stroke="#8da0cb" stroke-width="2" stroke-dasharray="2,4"/>
<circle cx="1014.6" cy="1811.3" r="7" fill="#8da0cb" stroke="#000" stroke-width="2"/>
<text x="1035.5" y="1822.5" font-size="25" font-weight="bold" text-anchor="start" fill="#000">TNBS</text>
<line x1="996.5" y1="1847.2" x2="1032.5" y2="1847.2" stroke="#fc8d62" stroke-width="2" stroke-dasharray="2,4"/>
<circle cx="1014.6" cy="1847.2" r="7" fill="#fc8d62" stroke="#000" stroke-width="2"/>
<text x="1035.5" y="1858.4" font-size="25" font-weight="bold" text-anchor="start" fill="#000">LPH+TNBS</text>
<line x1="918.3" y1="1900.6" x2="918.3" y2="2282.6" stroke="#b3b3b3" stroke-width="2" stroke-dasharray="14,14"/>
<line x1="673.5" y1="2091.8" x2="1141.3" y2="2091.8" stroke="#b3b3b3" stroke-width="2" stroke-dasharray="14,14"/>
<ellipse cx="754.7" cy="2070" rx="30.5" ry="79.5" fill="none" stroke="#e78ac3" stroke-width="2.2" transform="rotate(-2 754.7 2070)"/>
<ellipse cx="757" cy="2108.5" rx="32" ry="122" fill="none" stroke="#a6d854" stroke-width="2.2" transform="rotate(28 757 2108.5)"/>
<ellipse cx="832.8" cy="2049.3" rx="30" ry="149" fill="none" stroke="#66c2a5" stroke-width="2.2" transform="rotate(27.5 832.8 2049.3)" stroke-dasharray="4,4"/>
<ellipse cx="1069" cy="2091.5" rx="57" ry="18" fill="none" stroke="#ffd92f" stroke-width="2.2" transform="rotate(35 1069 2091.5)"/>
<ellipse cx="1042.6" cy="2091.8" rx="35" ry="28" fill="none" stroke="#fc8d62" stroke-width="2.2" transform="rotate(0 1042.6 2091.8)" stroke-dasharray="6,5"/>
<ellipse cx="1067.6" cy="2105.3" rx="53" ry="22" fill="none" stroke="#8da0cb" stroke-width="2.2" transform="rotate(-5 1067.6 2105.3)" stroke-dasharray="6,5"/>
<circle cx="739.8" cy="2007.1" r="5.3" fill="#e78ac3" stroke="#000" stroke-width="2"/>
<circle cx="739.8" cy="2037.8" r="5.3" fill="#e78ac3" stroke="#000" stroke-width="2"/>
<circle cx="805" cy="2020.6" r="5.3" fill="#e78ac3" stroke="#000" stroke-width="2"/>
<circle cx="763.3" cy="2072.3" r="5.3" fill="#e78ac3" stroke="#000" stroke-width="2"/>
<circle cx="749.6" cy="2115.3" r="5.3" fill="#e78ac3" stroke="#000" stroke-width="2"/>
<circle cx="756.2" cy="2132" r="5.3" fill="#e78ac3" stroke="#000" stroke-width="2"/>
<circle cx="765.3" cy="2014.3" r="5.3" fill="#a6d854" stroke="#000" stroke-width="2"/>
<circle cx="809.3" cy="2046.4" r="5.3" fill="#a6d854" stroke="#000" stroke-width="2"/>
<circle cx="788.3" cy="2092.6" r="5.3" fill="#a6d854" stroke="#000" stroke-width="2"/>
<circle cx="746.7" cy="2123.9" r="5.3" fill="#a6d854" stroke="#000" stroke-width="2"/>
<circle cx="712.2" cy="2145.5" r="5.3" fill="#a6d854" stroke="#000" stroke-width="2"/>
<circle cx="713.1" cy="2225.8" r="5.3" fill="#a6d854" stroke="#000" stroke-width="2"/>
<circle cx="848" cy="1992.5" r="5.3" fill="#66c2a5" stroke="#000" stroke-width="2"/>
<circle cx="867.2" cy="2005.4" r="5.3" fill="#66c2a5" stroke="#000" stroke-width="2"/>
<circle cx="864.6" cy="2014" r="5.3" fill="#66c2a5" stroke="#000" stroke-width="2"/>
<circle cx="821.6" cy="2059.3" r="5.3" fill="#66c2a5" stroke="#000" stroke-width="2"/>
<circle cx="733.8" cy="2151.2" r="5.3" fill="#66c2a5" stroke="#000" stroke-width="2"/>
<circle cx="764.2" cy="2265.4" r="5.3" fill="#66c2a5" stroke="#000" stroke-width="2"/>
<circle cx="1024.5" cy="2071.7" r="5.3" fill="#fc8d62" stroke="#000" stroke-width="2"/>
<circle cx="1023.9" cy="2076" r="5.3" fill="#fc8d62" stroke="#000" stroke-width="2"/>
<circle cx="1077" cy="2080.3" r="5.3" fill="#fc8d62" stroke="#000" stroke-width="2"/>
<circle cx="1058.4" cy="2099" r="5.3" fill="#fc8d62" stroke="#000" stroke-width="2"/>
<circle cx="1048.9" cy="2108.1" r="5.3" fill="#fc8d62" stroke="#000" stroke-width="2"/>
<circle cx="1020.8" cy="2113" r="5.3" fill="#fc8d62" stroke="#000" stroke-width="2"/>
<circle cx="1030.8" cy="2057.9" r="5.3" fill="#ffd92f" stroke="#000" stroke-width="2"/>
<circle cx="1054.7" cy="2071.7" r="5.3" fill="#ffd92f" stroke="#000" stroke-width="2"/>
<circle cx="1052.6" cy="2084.3" r="5.3" fill="#ffd92f" stroke="#000" stroke-width="2"/>
<circle cx="1103.4" cy="2106.7" r="5.3" fill="#ffd92f" stroke="#000" stroke-width="2"/>
<circle cx="1101.4" cy="2113.3" r="5.3" fill="#ffd92f" stroke="#000" stroke-width="2"/>
<circle cx="1078.2" cy="2144.6" r="5.3" fill="#ffd92f" stroke="#000" stroke-width="2"/>
<circle cx="1046.6" cy="2092.9" r="5.3" fill="#8da0cb" stroke="#000" stroke-width="2"/>
<circle cx="1089.7" cy="2095.2" r="5.3" fill="#8da0cb" stroke="#000" stroke-width="2"/>
<circle cx="1053.2" cy="2100.1" r="5.3" fill="#8da0cb" stroke="#000" stroke-width="2"/>
<circle cx="1077.6" cy="2112.4" r="5.3" fill="#8da0cb" stroke="#000" stroke-width="2"/>
<circle cx="1113.5" cy="2118.2" r="5.3" fill="#8da0cb" stroke="#000" stroke-width="2"/>
<circle cx="1000.1" cy="2133.4" r="5.3" fill="#8da0cb" stroke="#000" stroke-width="2"/>
<rect x="673.5" y="1900.6" width="467.8" height="382" fill="none" stroke="#000" stroke-width="2.2"/>
<line x1="670.5" y1="1938.6" x2="673.5" y2="1938.6" stroke="#000" stroke-width="1.5"/>
<text x="662.5" y="1949.1" font-size="35.5" font-weight="bold" text-anchor="end" fill="#000">0.2</text>
<line x1="670.5" y1="2015.2" x2="673.5" y2="2015.2" stroke="#000" stroke-width="1.5"/>
<text x="662.5" y="2025.7" font-size="35.5" font-weight="bold" text-anchor="end" fill="#000">0.1</text>
<line x1="670.5" y1="2091.8" x2="673.5" y2="2091.8" stroke="#000" stroke-width="1.5"/>
<text x="662.5" y="2102.3" font-size="35.5" font-weight="bold" text-anchor="end" fill="#000">0.0</text>
<line x1="670.5" y1="2168.4" x2="673.5" y2="2168.4" stroke="#000" stroke-width="1.5"/>
<text x="662.5" y="2178.9" font-size="35.5" font-weight="bold" text-anchor="end" fill="#000">−0.1</text>
<line x1="670.5" y1="2245" x2="673.5" y2="2245" stroke="#000" stroke-width="1.5"/>
<text x="662.5" y="2255.5" font-size="35.5" font-weight="bold" text-anchor="end" fill="#000">−0.2</text>
<line x1="701.3" y1="2282.6" x2="701.3" y2="2285.6" stroke="#000" stroke-width="1.5"/>
<text x="702.1" y="2325.5" font-size="35.5" font-weight="bold" text-anchor="middle" fill="#000">−0.2</text>
<line x1="809.8" y1="2282.6" x2="809.8" y2="2285.6" stroke="#000" stroke-width="1.5"/>
<text x="810.6" y="2325.5" font-size="35.5" font-weight="bold" text-anchor="middle" fill="#000">−0.1</text>
<line x1="918.3" y1="2282.6" x2="918.3" y2="2285.6" stroke="#000" stroke-width="1.5"/>
<text x="915.8" y="2325.5" font-size="35.5" font-weight="bold" text-anchor="middle" fill="#000">0.0</text>
<line x1="1026.8" y1="2282.6" x2="1026.8" y2="2285.6" stroke="#000" stroke-width="1.5"/>
<text x="1024.3" y="2325.5" font-size="35.5" font-weight="bold" text-anchor="middle" fill="#000">0.1</text>
<line x1="1135.3" y1="2282.6" x2="1135.3" y2="2285.6" stroke="#000" stroke-width="1.5"/>
<text x="1132.8" y="2325.5" font-size="35.5" font-weight="bold" text-anchor="middle" fill="#000">0.2</text>
<text x="912.2" y="2376" font-size="35.5" font-weight="bold" text-anchor="middle" fill="#000">PCoA1: 30.24%</text>
<text x="593.5" y="2080.7" font-size="35.5" font-weight="bold" text-anchor="middle" fill="#000" transform="rotate(-90 593.5 2080.7)">PCoA2: 9.13%</text>
<text x="1175" y="1818" font-size="51.5" font-weight="bold" text-anchor="start" fill="#000">l</text>
<text x="1738.3" y="1921" font-size="31.4" font-weight="bold" text-anchor="middle" fill="#000">Normalized mean relative abundance</text>
<defs><linearGradient id="cb" x1="0" x2="1" y1="0" y2="0">
<stop offset="0" stop-color="rgb(255,255,255)"/>
<stop offset="0.32" stop-color="rgb(245,220,247)"/>
<stop offset="0.63" stop-color="rgb(228,180,237)"/>
<stop offset="1" stop-color="rgb(180,76,208)"/>
</linearGradient></defs>
<rect x="1412.3" y="1935.2" width="635.7" height="14.9" fill="url(#cb)" stroke="#000" stroke-width="2"/>
<line x1="1613.1" y1="1935.2" x2="1613.1" y2="1950.1" stroke="#000" stroke-width="1.6" stroke-dasharray="3,3"/>
<line x1="1813.9" y1="1935.2" x2="1813.9" y2="1950.1" stroke="#000" stroke-width="1.6" stroke-dasharray="3,3"/>
<line x1="2014.7" y1="1935.2" x2="2014.7" y2="1950.1" stroke="#000" stroke-width="1.6" stroke-dasharray="3,3"/>
<text x="1413.3" y="1972.5" font-size="22" font-weight="bold" text-anchor="middle" fill="#000">0</text>
<text x="1613.1" y="1972.5" font-size="22" font-weight="bold" text-anchor="middle" fill="#000">0.2</text>
<text x="1813.9" y="1972.5" font-size="22" font-weight="bold" text-anchor="middle" fill="#000">0.4</text>
<text x="2014.7" y="1972.5" font-size="22" font-weight="bold" text-anchor="middle" fill="#000">0.6</text>
<rect x="1414.2" y="1974.5" width="48.71" height="46.82" fill="#faf3fb"/>
<rect x="1462.91" y="1974.5" width="48.71" height="46.82" fill="#f9f1fa"/>
<rect x="1511.62" y="1974.5" width="48.71" height="46.82" fill="#fdfcfd"/>
<rect x="1560.32" y="1974.5" width="48.71" height="46.82" fill="#faf3fb"/>
<rect x="1609.03" y="1974.5" width="48.71" height="46.82" fill="#fbf5fc"/>
<rect x="1657.74" y="1974.5" width="48.71" height="46.82" fill="#deaae8"/>
<rect x="1706.45" y="1974.5" width="48.71" height="46.82" fill="#f3ddf5"/>
<rect x="1755.15" y="1974.5" width="48.71" height="46.82" fill="#b955d5"/>
<rect x="1803.86" y="1974.5" width="48.71" height="46.82" fill="#f1d5f4"/>
<rect x="1852.57" y="1974.5" width="48.71" height="46.82" fill="#f2d7f4"/>
<rect x="1901.28" y="1974.5" width="48.71" height="46.82" fill="#f3dcf5"/>
<rect x="1949.98" y="1974.5" width="48.71" height="46.82" fill="#deaae8"/>
<rect x="1998.69" y="1974.5" width="48.71" height="46.82" fill="#efd0f3"/>
<rect x="1414.2" y="2021.32" width="48.71" height="46.82" fill="#efd0f3"/>
<rect x="1462.91" y="2021.32" width="48.71" height="46.82" fill="#e8c0ef"/>
<rect x="1511.62" y="2021.32" width="48.71" height="46.82" fill="#e4b8ed"/>
<rect x="1560.32" y="2021.32" width="48.71" height="46.82" fill="#f3dbf5"/>
<rect x="1609.03" y="2021.32" width="48.71" height="46.82" fill="#e8c0ef"/>
<rect x="1657.74" y="2021.32" width="48.71" height="46.82" fill="#fefcfe"/>
<rect x="1706.45" y="2021.32" width="48.71" height="46.82" fill="#fefefe"/>
<rect x="1755.15" y="2021.32" width="48.71" height="46.82" fill="#fdf9fd"/>
<rect x="1803.86" y="2021.32" width="48.71" height="46.82" fill="#f9f0fa"/>
<rect x="1852.57" y="2021.32" width="48.71" height="46.82" fill="#fbf5fc"/>
<rect x="1901.28" y="2021.32" width="48.71" height="46.82" fill="#fcf7fc"/>
<rect x="1949.98" y="2021.32" width="48.71" height="46.82" fill="#fbf5fc"/>
<rect x="1998.69" y="2021.32" width="48.71" height="46.82" fill="#faf3fb"/>
<rect x="1414.2" y="2068.13" width="48.71" height="46.82" fill="#fcf8fc"/>
<rect x="1462.91" y="2068.13" width="48.71" height="46.82" fill="#fefcfe"/>
<rect x="1511.62" y="2068.13" width="48.71" height="46.82" fill="#fdf9fd"/>
<rect x="1560.32" y="2068.13" width="48.71" height="46.82" fill="#fdf9fd"/>
<rect x="1609.03" y="2068.13" width="48.71" height="46.82" fill="#fcf7fc"/>
<rect x="1657.74" y="2068.13" width="48.71" height="46.82" fill="#f0d5f4"/>
<rect x="1706.45" y="2068.13" width="48.71" height="46.82" fill="#b955d5"/>
<rect x="1755.15" y="2068.13" width="48.71" height="46.82" fill="#f5e1f6"/>
<rect x="1803.86" y="2068.13" width="48.71" height="46.82" fill="#eccaf1"/>
<rect x="1852.57" y="2068.13" width="48.71" height="46.82" fill="#deaae8"/>
<rect x="1901.28" y="2068.13" width="48.71" height="46.82" fill="#deaae8"/>
<rect x="1949.98" y="2068.13" width="48.71" height="46.82" fill="#f8ecf9"/>
<rect x="1998.69" y="2068.13" width="48.71" height="46.82" fill="#efd0f3"/>
<rect x="1414.2" y="2114.95" width="48.71" height="46.82" fill="#f6e5f7"/>
<rect x="1462.91" y="2114.95" width="48.71" height="46.82" fill="#fdf9fd"/>
<rect x="1511.62" y="2114.95" width="48.71" height="46.82" fill="#f8ecf9"/>
<rect x="1560.32" y="2114.95" width="48.71" height="46.82" fill="#f2d9f5"/>
<rect x="1609.03" y="2114.95" width="48.71" height="46.82" fill="#ecc8f0"/>
<rect x="1657.74" y="2114.95" width="48.71" height="46.82" fill="#efd2f3"/>
<rect x="1706.45" y="2114.95" width="48.71" height="46.82" fill="#f2d9f5"/>
<rect x="1755.15" y="2114.95" width="48.71" height="46.82" fill="#f3dcf5"/>
<rect x="1803.86" y="2114.95" width="48.71" height="46.82" fill="#eccaf1"/>
<rect x="1852.57" y="2114.95" width="48.71" height="46.82" fill="#eecdf2"/>
<rect x="1901.28" y="2114.95" width="48.71" height="46.82" fill="#e9c4f0"/>
<rect x="1949.98" y="2114.95" width="48.71" height="46.82" fill="#eecdf2"/>
<rect x="1998.69" y="2114.95" width="48.71" height="46.82" fill="#efd2f3"/>
<rect x="1414.2" y="2161.77" width="48.71" height="46.82" fill="#e9c3ef"/>
<rect x="1462.91" y="2161.77" width="48.71" height="46.82" fill="#f4def6"/>
<rect x="1511.62" y="2161.77" width="48.71" height="46.82" fill="#efd2f3"/>
<rect x="1560.32" y="2161.77" width="48.71" height="46.82" fill="#f3dcf5"/>
<rect x="1609.03" y="2161.77" width="48.71" height="46.82" fill="#f8ebf9"/>
<rect x="1657.74" y="2161.77" width="48.71" height="46.82" fill="#faf1fa"/>
<rect x="1706.45" y="2161.77" width="48.71" height="46.82" fill="#fefefe"/>
<rect x="1755.15" y="2161.77" width="48.71" height="46.82" fill="#fefcfe"/>
<rect x="1803.86" y="2161.77" width="48.71" height="46.82" fill="#fcf7fc"/>
<rect x="1852.57" y="2161.77" width="48.71" height="46.82" fill="#fcf7fc"/>
<rect x="1901.28" y="2161.77" width="48.71" height="46.82" fill="#fefefe"/>
<rect x="1949.98" y="2161.77" width="48.71" height="46.82" fill="#fcf7fc"/>
<rect x="1998.69" y="2161.77" width="48.71" height="46.82" fill="#faf3fb"/>
<rect x="1414.2" y="2208.58" width="48.71" height="46.82" fill="#f4def6"/>
<rect x="1462.91" y="2208.58" width="48.71" height="46.82" fill="#ecc8f0"/>
<rect x="1511.62" y="2208.58" width="48.71" height="46.82" fill="#f0d4f4"/>
<rect x="1560.32" y="2208.58" width="48.71" height="46.82" fill="#eecdf2"/>
<rect x="1609.03" y="2208.58" width="48.71" height="46.82" fill="#f6e5f7"/>
<rect x="1657.74" y="2208.58" width="48.71" height="46.82" fill="#fefefe"/>
<rect x="1706.45" y="2208.58" width="48.71" height="46.82" fill="#fefefe"/>
<rect x="1755.15" y="2208.58" width="48.71" height="46.82" fill="#fdfcfd"/>
<rect x="1803.86" y="2208.58" width="48.71" height="46.82" fill="#f9eff9"/>
<rect x="1852.57" y="2208.58" width="48.71" height="46.82" fill="#f9eff9"/>
<rect x="1901.28" y="2208.58" width="48.71" height="46.82" fill="#faf3fb"/>
<rect x="1949.98" y="2208.58" width="48.71" height="46.82" fill="#f9eff9"/>
<rect x="1998.69" y="2208.58" width="48.71" height="46.82" fill="#f9eff9"/>
<line x1="1413.2" y1="1974.5" x2="2048.4" y2="1974.5" stroke="#000" stroke-width="2.2"/>
<line x1="1413.2" y1="2021.32" x2="2048.4" y2="2021.32" stroke="#000" stroke-width="2.2"/>
<line x1="1413.2" y1="2068.13" x2="2048.4" y2="2068.13" stroke="#000" stroke-width="2.2"/>
<line x1="1413.2" y1="2114.95" x2="2048.4" y2="2114.95" stroke="#000" stroke-width="2.2"/>
<line x1="1413.2" y1="2161.77" x2="2048.4" y2="2161.77" stroke="#000" stroke-width="2.2"/>
<line x1="1413.2" y1="2208.58" x2="2048.4" y2="2208.58" stroke="#000" stroke-width="2.2"/>
<line x1="1413.2" y1="2255.4" x2="2048.4" y2="2255.4" stroke="#000" stroke-width="2.2"/>
<line x1="1414.2" y1="1974.5" x2="1414.2" y2="2255.4" stroke="#000" stroke-width="2.2"/>
<line x1="1462.91" y1="1974.5" x2="1462.91" y2="2255.4" stroke="#000" stroke-width="2.2"/>
<line x1="1511.62" y1="1974.5" x2="1511.62" y2="2255.4" stroke="#000" stroke-width="2.2"/>
<line x1="1560.32" y1="1974.5" x2="1560.32" y2="2255.4" stroke="#000" stroke-width="2.2"/>
<line x1="1609.03" y1="1974.5" x2="1609.03" y2="2255.4" stroke="#000" stroke-width="2.2"/>
<line x1="1657.74" y1="1974.5" x2="1657.74" y2="2255.4" stroke="#000" stroke-width="2.2"/>
<line x1="1706.45" y1="1974.5" x2="1706.45" y2="2255.4" stroke="#000" stroke-width="2.2"/>
<line x1="1755.15" y1="1974.5" x2="1755.15" y2="2255.4" stroke="#000" stroke-width="2.2"/>
<line x1="1803.86" y1="1974.5" x2="1803.86" y2="2255.4" stroke="#000" stroke-width="2.2"/>
<line x1="1852.57" y1="1974.5" x2="1852.57" y2="2255.4" stroke="#000" stroke-width="2.2"/>
<line x1="1901.28" y1="1974.5" x2="1901.28" y2="2255.4" stroke="#000" stroke-width="2.2"/>
<line x1="1949.98" y1="1974.5" x2="1949.98" y2="2255.4" stroke="#000" stroke-width="2.2"/>
<line x1="1998.69" y1="1974.5" x2="1998.69" y2="2255.4" stroke="#000" stroke-width="2.2"/>
<line x1="2047.4" y1="1974.5" x2="2047.4" y2="2255.4" stroke="#000" stroke-width="2.2"/>
<text x="1438.55" y="2059.72" font-size="30" font-weight="bold" text-anchor="middle" fill="#000">*</text>
<text x="1487.26" y="2059.72" font-size="30" font-weight="bold" text-anchor="middle" fill="#000">*</text>
<text x="1535.97" y="2059.72" font-size="30" font-weight="bold" text-anchor="middle" fill="#000">*</text>
<text x="1584.68" y="2059.72" font-size="30" font-weight="bold" text-anchor="middle" fill="#000">*</text>
<text x="1633.38" y="2059.72" font-size="30" font-weight="bold" text-anchor="middle" fill="#000">*</text>
<text x="1682.09" y="2059.72" font-size="30" font-weight="bold" text-anchor="middle" fill="#000">*</text>
<text x="1730.8" y="2059.72" font-size="30" font-weight="bold" text-anchor="middle" fill="#000">*</text>
<text x="1779.51" y="2059.72" font-size="30" font-weight="bold" text-anchor="middle" fill="#000">*</text>
<text x="1828.22" y="2059.72" font-size="30" font-weight="bold" text-anchor="middle" fill="#000">*</text>
<text x="1876.92" y="2059.72" font-size="30" font-weight="bold" text-anchor="middle" fill="#000">*</text>
<text x="1925.63" y="2059.72" font-size="30" font-weight="bold" text-anchor="middle" fill="#000">*</text>
<text x="1974.34" y="2059.72" font-size="30" font-weight="bold" text-anchor="middle" fill="#000">*</text>
<text x="2023.05" y="2059.72" font-size="30" font-weight="bold" text-anchor="middle" fill="#000">*</text>
<text x="1438.55" y="2102.54" font-size="32" font-weight="bold" text-anchor="middle" fill="#000">+</text>
<text x="1487.26" y="2102.54" font-size="32" font-weight="bold" text-anchor="middle" fill="#000">+</text>
<text x="1535.97" y="2102.54" font-size="32" font-weight="bold" text-anchor="middle" fill="#000">+</text>
<text x="1584.68" y="2102.54" font-size="32" font-weight="bold" text-anchor="middle" fill="#000">+</text>
<text x="1633.38" y="2102.54" font-size="32" font-weight="bold" text-anchor="middle" fill="#000">+</text>
<text x="1682.09" y="2102.54" font-size="32" font-weight="bold" text-anchor="middle" fill="#000">+</text>
<text x="1730.8" y="2102.54" font-size="32" font-weight="bold" text-anchor="middle" fill="#000">+</text>
<text x="1779.51" y="2102.54" font-size="32" font-weight="bold" text-anchor="middle" fill="#000">+</text>
<text x="1828.22" y="2102.54" font-size="32" font-weight="bold" text-anchor="middle" fill="#000">+</text>
<text x="1876.92" y="2102.54" font-size="32" font-weight="bold" text-anchor="middle" fill="#000">+</text>
<text x="1925.63" y="2102.54" font-size="32" font-weight="bold" text-anchor="middle" fill="#000">+</text>
<text x="1974.34" y="2102.54" font-size="32" font-weight="bold" text-anchor="middle" fill="#000">+</text>
<text x="2023.05" y="2102.54" font-size="32" font-weight="bold" text-anchor="middle" fill="#000">+</text>
<text x="1438.55" y="2153.36" font-size="30" font-weight="bold" text-anchor="middle" fill="#000">*</text>
<text x="1535.97" y="2153.36" font-size="30" font-weight="bold" text-anchor="middle" fill="#000">*</text>
<text x="1438.55" y="2198.18" font-size="35" font-weight="bold" font-style="italic" text-anchor="middle" fill="#000" stroke="#000" stroke-width="0.9">#</text>
<text x="1487.26" y="2198.18" font-size="35" font-weight="bold" font-style="italic" text-anchor="middle" fill="#000" stroke="#000" stroke-width="0.9">#</text>
<text x="1730.8" y="2198.18" font-size="35" font-weight="bold" font-style="italic" text-anchor="middle" fill="#000" stroke="#000" stroke-width="0.9">#</text>
<text x="1779.51" y="2198.18" font-size="35" font-weight="bold" font-style="italic" text-anchor="middle" fill="#000" stroke="#000" stroke-width="0.9">#</text>
<text x="1828.22" y="2198.18" font-size="35" font-weight="bold" font-style="italic" text-anchor="middle" fill="#000" stroke="#000" stroke-width="0.9">#</text>
<text x="1925.63" y="2198.18" font-size="35" font-weight="bold" font-style="italic" text-anchor="middle" fill="#000" stroke="#000" stroke-width="0.9">#</text>
<text x="1974.34" y="2198.18" font-size="35" font-weight="bold" font-style="italic" text-anchor="middle" fill="#000" stroke="#000" stroke-width="0.9">#</text>
<text x="2023.05" y="2198.18" font-size="35" font-weight="bold" font-style="italic" text-anchor="middle" fill="#000" stroke="#000" stroke-width="0.9">#</text>
<line x1="1404.2" y1="1997.91" x2="1414.2" y2="1997.91" stroke="#000" stroke-width="2"/>
<text x="1397.5" y="2005.21" font-size="29" font-weight="bold" text-anchor="end" fill="#000">Con</text>
<line x1="1404.2" y1="2044.72" x2="1414.2" y2="2044.72" stroke="#000" stroke-width="2"/>
<text x="1397.5" y="2052.03" font-size="29" font-weight="bold" text-anchor="end" fill="#000">TNBS</text>
<line x1="1404.2" y1="2091.54" x2="1414.2" y2="2091.54" stroke="#000" stroke-width="2"/>
<text x="1397.5" y="2098.84" font-size="29" font-weight="bold" text-anchor="end" fill="#000">LPH+TNBS</text>
<line x1="1404.2" y1="2138.36" x2="1414.2" y2="2138.36" stroke="#000" stroke-width="2"/>
<text x="1397.5" y="2145.66" font-size="29" font-weight="bold" text-anchor="end" fill="#000">Con</text>
<line x1="1404.2" y1="2185.18" x2="1414.2" y2="2185.18" stroke="#000" stroke-width="2"/>
<text x="1397.5" y="2192.48" font-size="29" font-weight="bold" text-anchor="end" fill="#000">TNBS</text>
<line x1="1404.2" y1="2231.99" x2="1414.2" y2="2231.99" stroke="#000" stroke-width="2"/>
<text x="1397.5" y="2239.29" font-size="29" font-weight="bold" text-anchor="end" fill="#000">LPH+TNBS</text>
<line x1="1438.55" y1="2255.4" x2="1438.55" y2="2264.4" stroke="#000" stroke-width="2"/>
<text x="1443.55" y="2281.4" font-size="29" font-weight="bold" text-anchor="end" fill="#000" transform="rotate(-45 1443.55 2281.4)">Lachnospiraceae</text>
<line x1="1487.26" y1="2255.4" x2="1487.26" y2="2264.4" stroke="#000" stroke-width="2"/>
<text x="1492.26" y="2281.4" font-size="29" font-weight="bold" text-anchor="end" fill="#000" transform="rotate(-45 1492.26 2281.4)">Bacteroidaceae</text>
<line x1="1535.97" y1="2255.4" x2="1535.97" y2="2264.4" stroke="#000" stroke-width="2"/>
<text x="1540.97" y="2281.4" font-size="29" font-weight="bold" text-anchor="end" fill="#000" transform="rotate(-45 1540.97 2281.4)">Enterobacteriaceae</text>
<line x1="1584.68" y1="2255.4" x2="1584.68" y2="2264.4" stroke="#000" stroke-width="2"/>
<text x="1589.68" y="2281.4" font-size="29" font-weight="bold" text-anchor="end" fill="#000" transform="rotate(-45 1589.68 2281.4)">Marinifilaceae</text>
<line x1="1633.38" y1="2255.4" x2="1633.38" y2="2264.4" stroke="#000" stroke-width="2"/>
<text x="1638.38" y="2281.4" font-size="29" font-weight="bold" text-anchor="end" fill="#000" transform="rotate(-45 1638.38 2281.4)">Butyricicoccaceae</text>
<line x1="1682.09" y1="2255.4" x2="1682.09" y2="2264.4" stroke="#000" stroke-width="2"/>
<text x="1687.09" y="2281.4" font-size="29" font-weight="bold" text-anchor="end" fill="#000" transform="rotate(-45 1687.09 2281.4)">Actinomycetaceae</text>
<line x1="1730.8" y1="2255.4" x2="1730.8" y2="2264.4" stroke="#000" stroke-width="2"/>
<text x="1735.8" y="2281.4" font-size="29" font-weight="bold" text-anchor="end" fill="#000" transform="rotate(-45 1735.8 2281.4)">Spirochaetaceae</text>
<line x1="1779.51" y1="2255.4" x2="1779.51" y2="2264.4" stroke="#000" stroke-width="2"/>
<text x="1784.51" y="2281.4" font-size="29" font-weight="bold" text-anchor="end" fill="#000" transform="rotate(-45 1784.51 2281.4)">Flavobacteriaceae</text>
<line x1="1828.22" y1="2255.4" x2="1828.22" y2="2264.4" stroke="#000" stroke-width="2"/>
<text x="1833.22" y="2281.4" font-size="29" font-weight="bold" text-anchor="end" fill="#000" transform="rotate(-45 1833.22 2281.4)">Eggerthellaceae</text>
<line x1="1876.92" y1="2255.4" x2="1876.92" y2="2264.4" stroke="#000" stroke-width="2"/>
<text x="1881.92" y="2281.4" font-size="29" font-weight="bold" text-anchor="end" fill="#000" transform="rotate(-45 1881.92 2281.4)">Atopobiaceae</text>
<line x1="1925.63" y1="2255.4" x2="1925.63" y2="2264.4" stroke="#000" stroke-width="2"/>
<text x="1930.63" y="2281.4" font-size="29" font-weight="bold" text-anchor="end" fill="#000" transform="rotate(-45 1930.63 2281.4)">Bifidobacteriaceae</text>
<line x1="1974.34" y1="2255.4" x2="1974.34" y2="2264.4" stroke="#000" stroke-width="2"/>
<text x="1979.34" y="2281.4" font-size="29" font-weight="bold" text-anchor="end" fill="#000" transform="rotate(-45 1979.34 2281.4)">Lactobacillaceae</text>
<line x1="2023.05" y1="2255.4" x2="2023.05" y2="2264.4" stroke="#000" stroke-width="2"/>
<text x="2028.05" y="2281.4" font-size="29" font-weight="bold" text-anchor="end" fill="#000" transform="rotate(-45 2028.05 2281.4)">Muribaculaceae</text>
<line x1="1231.6" y1="1997.6" x2="1231.6" y2="2107.8" stroke="#000" stroke-width="2.2"/>
<line x1="1231.6" y1="2133" x2="1231.6" y2="2242.6" stroke="#000" stroke-width="2.2"/>
<text x="1217" y="2049" font-size="33" font-weight="bold" text-anchor="middle" fill="#000" transform="rotate(-90 1217 2049)">WT</text>
<text x="1217" y="2185" font-size="33" font-weight="bold" text-anchor="middle" transform="rotate(-90 1217 2185)"><tspan font-style="italic">Nod2</tspan><tspan dy="-9"> -/-</tspan></text>
</svg></body></html>
